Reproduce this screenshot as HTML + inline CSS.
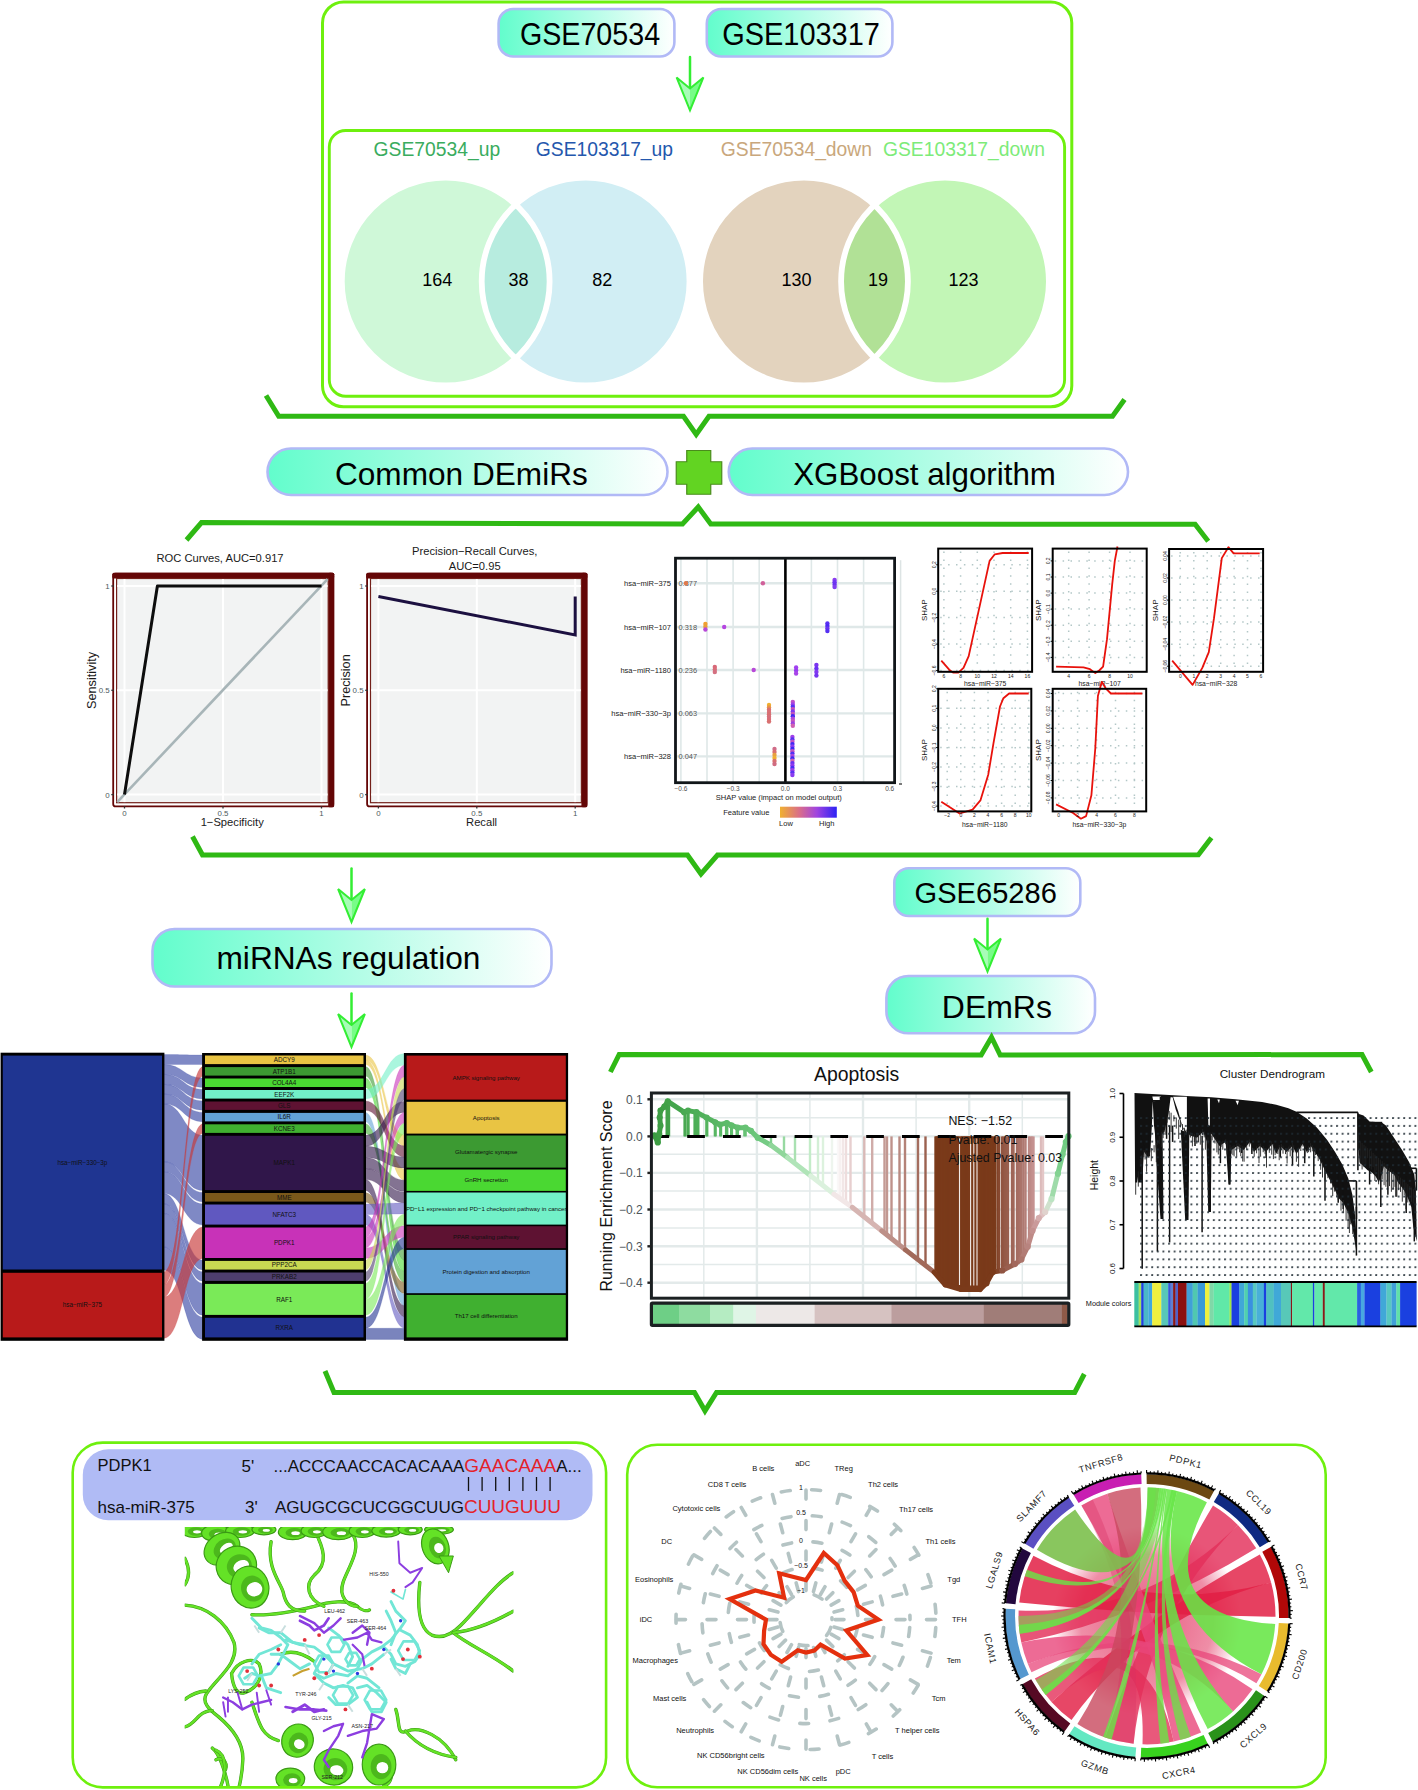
<!DOCTYPE html>
<html><head><meta charset="utf-8"><style>
html,body{margin:0;padding:0;background:#fff;overflow:hidden;}
svg{display:block;}
text{font-family:"Liberation Sans",sans-serif;}
</style></head><body>
<svg width="1418" height="1790" viewBox="0 0 1418 1790" font-family="Liberation Sans, sans-serif">
<rect width="1418" height="1790" fill="#fff"/>
<defs>
<linearGradient id="pg" x1="0" y1="0" x2="1" y2="0"><stop offset="0" stop-color="#62fdcc"/><stop offset="0.55" stop-color="#b8fde8"/><stop offset="1" stop-color="#ffffff"/></linearGradient>
<linearGradient id="shapg" x1="0" y1="0" x2="1" y2="0"><stop offset="0" stop-color="#f0b030"/><stop offset="0.35" stop-color="#d86c8c"/><stop offset="0.65" stop-color="#a044e0"/><stop offset="1" stop-color="#2c22f4"/></linearGradient>
</defs>
<rect x="322.5" y="2" width="749.3" height="404.8" rx="21" fill="none" stroke="#6ef00e" stroke-width="3"/>
<rect x="329.3" y="130.5" width="735.3" height="265.7" rx="16.5" fill="none" stroke="#6ef00e" stroke-width="2.9"/>
<rect x="498.6" y="9" width="175.79999999999995" height="47.5" rx="14.5" ry="14.5" fill="url(#pg)" stroke="#b1b9f6" stroke-width="2.6"/>
<text transform="translate(519.9,44.8) scale(1.013,1.093)" font-size="28.3" fill="#000">GSE70534</text>
<rect x="706.8" y="9" width="185.60000000000002" height="47.5" rx="14.5" ry="14.5" fill="url(#pg)" stroke="#b1b9f6" stroke-width="2.6"/>
<text transform="translate(722.2,44.8) scale(1.012,1.105)" font-size="28.6" fill="#000">GSE103317</text>
<line x1="690" y1="57.1" x2="690" y2="87.4" stroke="#33ee33" stroke-width="2.5" stroke-linecap="round"/>
<path d="M676.6,77.4 L690,88.4 L690,110.4 Z" fill="#a8fcb8"/>
<path d="M703.4,77.4 L690,88.4 L690,110.4 Z" fill="#78fc88"/>
<path d="M676.6,77.4 L690,88.4 L703.4,77.4 L690,110.4 Z" fill="none" stroke="#33ee33" stroke-width="2" stroke-linejoin="miter"/>
<text x="373.6" y="156" font-size="19.3" fill="#3aac5e">GSE70534_up</text>
<text x="535.8" y="156" font-size="19.3" fill="#2457ad">GSE103317_up</text>
<text x="720.8" y="156" font-size="19.3" fill="#c9a77c">GSE70534_down</text>
<text x="883" y="156" font-size="19.3" fill="#7deb79">GSE103317_down</text>
<circle cx="445.7" cy="281.5" r="103.9" fill="#cff8d8"/>
<circle cx="585.6" cy="281.5" r="103.9" fill="#d1eef4"/>
<path d="M515.65,204.67417426411873 A103.9,103.9 0 0 1 515.65,358.32582573588127 A103.9,103.9 0 0 1 515.65,204.67417426411873 Z" fill="#b7ecdf"/>
<circle cx="445.7" cy="281.5" r="103.9" fill="none" stroke="#fff" stroke-width="5.8"/>
<circle cx="585.6" cy="281.5" r="103.9" fill="none" stroke="#fff" stroke-width="5.8"/>
<text x="437.2" y="286.1" font-size="18" text-anchor="middle" fill="#000">164</text>
<text x="602.3" y="286.1" font-size="18" text-anchor="middle" fill="#000">82</text>
<text x="518.6" y="286.1" font-size="18" text-anchor="middle" fill="#000">38</text>
<circle cx="804" cy="281.5" r="103.9" fill="#e3d3be"/>
<circle cx="945" cy="281.5" r="103.9" fill="#c2f6b6"/>
<path d="M874.5,205.17857443679395 A103.9,103.9 0 0 1 874.5,357.82142556320605 A103.9,103.9 0 0 1 874.5,205.17857443679395 Z" fill="#b1e196"/>
<circle cx="804" cy="281.5" r="103.9" fill="none" stroke="#fff" stroke-width="5.8"/>
<circle cx="945" cy="281.5" r="103.9" fill="none" stroke="#fff" stroke-width="5.8"/>
<text x="796.4" y="286.1" font-size="18" text-anchor="middle" fill="#000">130</text>
<text x="963.4" y="286.1" font-size="18" text-anchor="middle" fill="#000">123</text>
<text x="878" y="286.1" font-size="18" text-anchor="middle" fill="#000">19</text>
<path d="M266,395.5 L278.75,416.3 L683.5,416.3 L696.2,434.5 L709,416.3 L1112.5,416.3 L1124.5,399.5" fill="none" stroke="#2fb914" stroke-width="5" stroke-linejoin="miter"/>
<rect x="267.5" y="448.5" width="400.0" height="46.5" rx="23.5" ry="23.5" fill="url(#pg)" stroke="#b1b9f6" stroke-width="2.6"/>
<text transform="translate(334.9,484.6) scale(1.01,1.017)" font-size="31.3" fill="#000">Common DEmiRs</text>
<rect x="728.75" y="448.5" width="399.25" height="46.5" rx="23.5" ry="23.5" fill="url(#pg)" stroke="#b1b9f6" stroke-width="2.6"/>
<text transform="translate(793.25,484.5) scale(1,1)" font-size="31.3" fill="#000">XGBoost algorithm</text>
<path d="M686.75,450.5 H710.75 V461.75 H721.75 V484.25 H710.75 V494.25 H686.75 V484.25 H676.25 V461.75 H686.75 Z" fill="#62d422" stroke="#4a8c1c" stroke-width="1.2"/>
<path d="M186.5,540 L201.5,522.5 L682.5,524 L698.25,507 L710.75,524 L1195.1,524.3 L1208.2,541.3" fill="none" stroke="#2fb914" stroke-width="5" stroke-linejoin="miter"/>
<rect x="116.6" y="578.5" width="211.89999999999998" height="224.5" fill="#f2f3f3"/>
<rect x="113.2" y="573.6999999999999" width="220.09999999999997" height="232.7" rx="2.5" fill="none" stroke="#640606" stroke-width="1.8"/>
<rect x="112.3" y="572.8" width="221.89999999999998" height="5.7" rx="1.5" fill="#640606"/>
<rect x="328.2" y="572.8" width="6" height="234.5" rx="1.5" fill="#640606"/>
<rect x="116.6" y="578.5" width="211.59999999999997" height="224.2" fill="none" stroke="#74201a" stroke-width="1.2"/>
<line x1="124.5" y1="579.0999999999999" x2="124.5" y2="802.0999999999999" stroke="#fff" stroke-width="2"/>
<line x1="223.0" y1="579.0999999999999" x2="223.0" y2="802.0999999999999" stroke="#fff" stroke-width="2"/>
<line x1="321.5" y1="579.0999999999999" x2="321.5" y2="802.0999999999999" stroke="#fff" stroke-width="2"/>
<line x1="117.2" y1="586" x2="327.59999999999997" y2="586" stroke="#fff" stroke-width="2"/>
<line x1="117.2" y1="690.3" x2="327.59999999999997" y2="690.3" stroke="#fff" stroke-width="2"/>
<line x1="117.2" y1="794.6" x2="327.59999999999997" y2="794.6" stroke="#fff" stroke-width="2"/>
<line x1="124.5" y1="806.3" x2="124.5" y2="808.5" stroke="#333" stroke-width="1.3"/>
<text x="124.5" y="815.6999999999999" font-size="7.9" fill="#4d5a5e" text-anchor="middle">0</text>
<line x1="223.0" y1="806.3" x2="223.0" y2="808.5" stroke="#333" stroke-width="1.3"/>
<text x="223.0" y="815.6999999999999" font-size="7.9" fill="#4d5a5e" text-anchor="middle">0.5</text>
<line x1="321.5" y1="806.3" x2="321.5" y2="808.5" stroke="#333" stroke-width="1.3"/>
<text x="321.5" y="815.6999999999999" font-size="7.9" fill="#4d5a5e" text-anchor="middle">1</text>
<line x1="111.3" y1="794.6" x2="113.8" y2="794.6" stroke="#333" stroke-width="1.3"/>
<text x="109.7" y="797.5" font-size="7.9" fill="#4d5a5e" text-anchor="end">0</text>
<line x1="111.3" y1="690.3" x2="113.8" y2="690.3" stroke="#333" stroke-width="1.3"/>
<text x="109.7" y="693.1999999999999" font-size="7.9" fill="#4d5a5e" text-anchor="end">0.5</text>
<line x1="111.3" y1="586" x2="113.8" y2="586" stroke="#333" stroke-width="1.3"/>
<text x="109.7" y="588.9" font-size="7.9" fill="#4d5a5e" text-anchor="end">1</text>
<text x="220" y="562.4" font-size="11.2" fill="#1a1a1a" text-anchor="middle">ROC Curves, AUC=0.917</text>
<text x="232.2" y="825.7" font-size="11.6" fill="#1a1a1a" text-anchor="middle" textLength="63.1" lengthAdjust="spacingAndGlyphs">1−Specificity</text>
<text transform="translate(96.1,680.4) rotate(-90)" x="0" y="0" font-size="12.7" fill="#1a1a1a" text-anchor="middle">Sensitivity</text>
<line x1="117.2" y1="802.0999999999999" x2="327.59999999999997" y2="579.0999999999999" stroke="#a8b5b8" stroke-width="2.6"/>
<polyline points="124.5,794.6 157.399,586.0 321.5,586.0" fill="none" stroke="#0d0d0d" stroke-width="3" stroke-linejoin="round"/>
<rect x="370.5" y="578.5" width="211.2" height="224.5" fill="#f2f3f3"/>
<rect x="367.09999999999997" y="573.6999999999999" width="219.39999999999998" height="232.7" rx="2.5" fill="none" stroke="#640606" stroke-width="1.8"/>
<rect x="366.2" y="572.8" width="221.2" height="5.7" rx="1.5" fill="#640606"/>
<rect x="581.4" y="572.8" width="6" height="234.5" rx="1.5" fill="#640606"/>
<rect x="370.5" y="578.5" width="210.89999999999998" height="224.2" fill="none" stroke="#74201a" stroke-width="1.2"/>
<line x1="378.4" y1="579.0999999999999" x2="378.4" y2="802.0999999999999" stroke="#fff" stroke-width="2"/>
<line x1="476.8" y1="579.0999999999999" x2="476.8" y2="802.0999999999999" stroke="#fff" stroke-width="2"/>
<line x1="575.2" y1="579.0999999999999" x2="575.2" y2="802.0999999999999" stroke="#fff" stroke-width="2"/>
<line x1="371.09999999999997" y1="586" x2="580.8" y2="586" stroke="#fff" stroke-width="2"/>
<line x1="371.09999999999997" y1="690.3" x2="580.8" y2="690.3" stroke="#fff" stroke-width="2"/>
<line x1="371.09999999999997" y1="794.6" x2="580.8" y2="794.6" stroke="#fff" stroke-width="2"/>
<line x1="378.4" y1="806.3" x2="378.4" y2="808.5" stroke="#333" stroke-width="1.3"/>
<text x="378.4" y="815.6999999999999" font-size="7.9" fill="#4d5a5e" text-anchor="middle">0</text>
<line x1="476.8" y1="806.3" x2="476.8" y2="808.5" stroke="#333" stroke-width="1.3"/>
<text x="476.8" y="815.6999999999999" font-size="7.9" fill="#4d5a5e" text-anchor="middle">0.5</text>
<line x1="575.2" y1="806.3" x2="575.2" y2="808.5" stroke="#333" stroke-width="1.3"/>
<text x="575.2" y="815.6999999999999" font-size="7.9" fill="#4d5a5e" text-anchor="middle">1</text>
<line x1="365.2" y1="794.6" x2="367.7" y2="794.6" stroke="#333" stroke-width="1.3"/>
<text x="363.59999999999997" y="797.5" font-size="7.9" fill="#4d5a5e" text-anchor="end">0</text>
<line x1="365.2" y1="690.3" x2="367.7" y2="690.3" stroke="#333" stroke-width="1.3"/>
<text x="363.59999999999997" y="693.1999999999999" font-size="7.9" fill="#4d5a5e" text-anchor="end">0.5</text>
<line x1="365.2" y1="586" x2="367.7" y2="586" stroke="#333" stroke-width="1.3"/>
<text x="363.59999999999997" y="588.9" font-size="7.9" fill="#4d5a5e" text-anchor="end">1</text>
<text x="474.7" y="555.2" font-size="11.2" fill="#1a1a1a" text-anchor="middle">Precision−Recall Curves,</text>
<text x="474.7" y="569.6" font-size="11.2" fill="#1a1a1a" text-anchor="middle">AUC=0.95</text>
<text x="481.6" y="825.7" font-size="11.6" fill="#1a1a1a" text-anchor="middle" textLength="31" lengthAdjust="spacingAndGlyphs">Recall</text>
<text transform="translate(349.8,680.4) rotate(-90)" x="0" y="0" font-size="12.7" fill="#1a1a1a" text-anchor="middle">Precision</text>
<polyline points="378.4,596.4300000000001 575.2,635.021 575.2,596.4300000000001" fill="none" stroke="#1c1040" stroke-width="3" stroke-linejoin="miter"/>
<rect x="675.5" y="558.2" width="219.10000000000002" height="224.5" fill="#fff"/>
<line x1="680.9" y1="558.2" x2="680.9" y2="782.7" stroke="#dfe8e8" stroke-width="1.6"/>
<line x1="707.0" y1="558.2" x2="707.0" y2="782.7" stroke="#dfe8e8" stroke-width="1.6"/>
<line x1="733.1" y1="558.2" x2="733.1" y2="782.7" stroke="#dfe8e8" stroke-width="1.6"/>
<line x1="759.2" y1="558.2" x2="759.2" y2="782.7" stroke="#dfe8e8" stroke-width="1.6"/>
<line x1="785.3" y1="558.2" x2="785.3" y2="782.7" stroke="#dfe8e8" stroke-width="1.6"/>
<line x1="811.4" y1="558.2" x2="811.4" y2="782.7" stroke="#dfe8e8" stroke-width="1.6"/>
<line x1="837.5" y1="558.2" x2="837.5" y2="782.7" stroke="#dfe8e8" stroke-width="1.6"/>
<line x1="863.6" y1="558.2" x2="863.6" y2="782.7" stroke="#dfe8e8" stroke-width="1.6"/>
<line x1="675.5" y1="583.3" x2="894.6" y2="583.3" stroke="#dfe8e8" stroke-width="2.4"/>
<text x="671" y="585.9" font-size="7.55" fill="#1a1a1a" text-anchor="end">hsa−miR−375</text>
<text x="678.5" y="585.9" font-size="7.4" fill="#555">0.377</text>
<line x1="675.5" y1="627" x2="894.6" y2="627" stroke="#dfe8e8" stroke-width="2.4"/>
<text x="671" y="629.6" font-size="7.55" fill="#1a1a1a" text-anchor="end">hsa−miR−107</text>
<text x="678.5" y="629.6" font-size="7.4" fill="#555">0.318</text>
<line x1="675.5" y1="670" x2="894.6" y2="670" stroke="#dfe8e8" stroke-width="2.4"/>
<text x="671" y="672.6" font-size="7.55" fill="#1a1a1a" text-anchor="end">hsa−miR−1180</text>
<text x="678.5" y="672.6" font-size="7.4" fill="#555">0.236</text>
<line x1="675.5" y1="713.4" x2="894.6" y2="713.4" stroke="#dfe8e8" stroke-width="2.4"/>
<text x="671" y="716.0" font-size="7.55" fill="#1a1a1a" text-anchor="end">hsa−miR−330−3p</text>
<text x="678.5" y="716.0" font-size="7.4" fill="#555">0.063</text>
<line x1="675.5" y1="756.4" x2="894.6" y2="756.4" stroke="#dfe8e8" stroke-width="2.4"/>
<text x="671" y="759.0" font-size="7.55" fill="#1a1a1a" text-anchor="end">hsa−miR−328</text>
<text x="678.5" y="759.0" font-size="7.4" fill="#555">0.047</text>
<line x1="785.4" y1="558.2" x2="785.4" y2="782.7" stroke="#000" stroke-width="2.6"/>
<rect x="675.5" y="558.2" width="219.10000000000002" height="224.5" fill="none" stroke="#111619" stroke-width="2.8"/>
<line x1="900.6" y1="560.2" x2="900.6" y2="782.7" stroke="#dde4e4" stroke-width="1.5"/>
<line x1="899" y1="784" x2="902" y2="784" stroke="#222" stroke-width="1.2"/>
<text x="680.9" y="790.5" font-size="6.5" fill="#4d4d4d" text-anchor="middle">−0.6</text>
<text x="733.1" y="790.5" font-size="6.5" fill="#4d4d4d" text-anchor="middle">−0.3</text>
<text x="785.3" y="790.5" font-size="6.5" fill="#4d4d4d" text-anchor="middle">0.0</text>
<text x="837.5" y="790.5" font-size="6.5" fill="#4d4d4d" text-anchor="middle">0.3</text>
<text x="889.7" y="790.5" font-size="6.5" fill="#4d4d4d" text-anchor="middle">0.6</text>
<text x="778.8" y="799.6" font-size="7.55" fill="#1a1a1a" text-anchor="middle">SHAP value (impact on model output)</text>
<text x="746.3" y="815.2" font-size="7.55" fill="#1a1a1a" text-anchor="middle">Feature value</text>
<rect x="780" y="806.7" width="56.8" height="11" fill="url(#shapg)"/>
<text x="786" y="826" font-size="7.5" fill="#1a1a1a" text-anchor="middle">Low</text>
<text x="826.7" y="826" font-size="7.5" fill="#1a1a1a" text-anchor="middle">High</text>
<circle cx="685.9" cy="583.3" r="2.2" fill="#e07a4c"/>
<circle cx="762.9" cy="583.3" r="2.2" fill="#d0609a"/>
<circle cx="834.6" cy="580.0" r="2.2" fill="#8a3cf0"/>
<circle cx="834.6" cy="582.3" r="2.2" fill="#7035f2"/>
<circle cx="834.6" cy="584.7" r="2.2" fill="#6a32f0"/>
<circle cx="834.6" cy="587.0" r="2.2" fill="#8040ee"/>
<circle cx="705.4" cy="624.0" r="2.2" fill="#f0a030"/>
<circle cx="705.4" cy="626.8" r="2.2" fill="#e8a038"/>
<circle cx="705.4" cy="629.5" r="2.2" fill="#b848d8"/>
<circle cx="724.2" cy="627.0" r="2.2" fill="#b545e0"/>
<circle cx="827.4" cy="623.5" r="2.2" fill="#5a30f2"/>
<circle cx="827.4" cy="626.0" r="2.2" fill="#4a2af4"/>
<circle cx="827.4" cy="628.5" r="2.2" fill="#6a34f0"/>
<circle cx="827.4" cy="631.0" r="2.2" fill="#5530f2"/>
<circle cx="714.8" cy="667.0" r="2.2" fill="#d86878"/>
<circle cx="714.8" cy="669.5" r="2.2" fill="#d86c78"/>
<circle cx="714.8" cy="672.0" r="2.2" fill="#d47080"/>
<circle cx="753.7" cy="670.0" r="2.2" fill="#b848d8"/>
<circle cx="796.1" cy="667.5" r="2.2" fill="#a040f0"/>
<circle cx="796.1" cy="670.5" r="2.2" fill="#9a3cf0"/>
<circle cx="796.1" cy="673.5" r="2.2" fill="#a844e8"/>
<circle cx="816.4" cy="665.0" r="2.2" fill="#7a34f0"/>
<circle cx="816.4" cy="668.5" r="2.2" fill="#6a30f2"/>
<circle cx="816.4" cy="672.0" r="2.2" fill="#8038f0"/>
<circle cx="816.4" cy="675.5" r="2.2" fill="#7434f0"/>
<circle cx="769.0" cy="705.0" r="2.2" fill="#f0b030"/>
<circle cx="769.0" cy="707.4" r="2.2" fill="#e89048"/>
<circle cx="769.0" cy="709.7" r="2.2" fill="#d87070"/>
<circle cx="769.0" cy="712.1" r="2.2" fill="#d87078"/>
<circle cx="769.0" cy="714.4" r="2.2" fill="#d87070"/>
<circle cx="769.0" cy="716.8" r="2.2" fill="#d4707a"/>
<circle cx="769.0" cy="719.1" r="2.2" fill="#d86c78"/>
<circle cx="769.0" cy="721.5" r="2.2" fill="#d87070"/>
<circle cx="792.8" cy="702.0" r="2.2" fill="#c050c8"/>
<circle cx="792.8" cy="704.4" r="2.2" fill="#a040e8"/>
<circle cx="792.8" cy="706.8" r="2.2" fill="#5530f4"/>
<circle cx="792.8" cy="709.1" r="2.2" fill="#c850b8"/>
<circle cx="792.8" cy="711.5" r="2.2" fill="#8038ee"/>
<circle cx="792.8" cy="713.9" r="2.2" fill="#c050c0"/>
<circle cx="792.8" cy="716.3" r="2.2" fill="#4028f4"/>
<circle cx="792.8" cy="718.7" r="2.2" fill="#b048d8"/>
<circle cx="792.8" cy="721.0" r="2.2" fill="#c454c0"/>
<circle cx="792.8" cy="723.4" r="2.2" fill="#9a40e0"/>
<circle cx="792.8" cy="725.8" r="2.2" fill="#d060b0"/>
<circle cx="774.5" cy="749.0" r="2.2" fill="#d06c88"/>
<circle cx="774.5" cy="752.0" r="2.2" fill="#d87070"/>
<circle cx="774.5" cy="755.0" r="2.2" fill="#e8a040"/>
<circle cx="774.5" cy="758.0" r="2.2" fill="#f0b030"/>
<circle cx="774.5" cy="761.0" r="2.2" fill="#d87070"/>
<circle cx="774.5" cy="764.0" r="2.2" fill="#d06c80"/>
<circle cx="792.4" cy="737.0" r="2.2" fill="#a040e8"/>
<circle cx="792.4" cy="739.4" r="2.2" fill="#5530f2"/>
<circle cx="792.4" cy="741.8" r="2.2" fill="#c050c8"/>
<circle cx="792.4" cy="744.1" r="2.2" fill="#4028f4"/>
<circle cx="792.4" cy="746.5" r="2.2" fill="#8a3cf0"/>
<circle cx="792.4" cy="748.9" r="2.2" fill="#3c26f4"/>
<circle cx="792.4" cy="751.2" r="2.2" fill="#c454c0"/>
<circle cx="792.4" cy="753.6" r="2.2" fill="#5030f2"/>
<circle cx="792.4" cy="756.0" r="2.2" fill="#a844e0"/>
<circle cx="792.4" cy="758.4" r="2.2" fill="#3c26f4"/>
<circle cx="792.4" cy="760.8" r="2.2" fill="#d060b0"/>
<circle cx="792.4" cy="763.1" r="2.2" fill="#6a32f0"/>
<circle cx="792.4" cy="765.5" r="2.2" fill="#9038ee"/>
<circle cx="792.4" cy="767.9" r="2.2" fill="#4a2af4"/>
<circle cx="792.4" cy="770.2" r="2.2" fill="#a040e8"/>
<circle cx="792.4" cy="772.6" r="2.2" fill="#5a30f2"/>
<circle cx="792.4" cy="775.0" r="2.2" fill="#8a3cf0"/>
<defs><pattern id="dotgrid" x="0" y="0" width="8" height="13" patternUnits="userSpaceOnUse"><rect x="3" y="5" width="1.3" height="1.3" fill="#b9cccc"/></pattern></defs>
<line x1="940.2" y1="670.5" x2="1030.1" y2="670.5" stroke="#b3c7c7" stroke-width="1.5" stroke-dasharray="1.5 6.4"/>
<line x1="940.2" y1="644.1" x2="1030.1" y2="644.1" stroke="#b3c7c7" stroke-width="1.5" stroke-dasharray="1.5 6.4"/>
<line x1="940.2" y1="617.6" x2="1030.1" y2="617.6" stroke="#b3c7c7" stroke-width="1.5" stroke-dasharray="1.5 6.4"/>
<line x1="940.2" y1="591.2" x2="1030.1" y2="591.2" stroke="#b3c7c7" stroke-width="1.5" stroke-dasharray="1.5 6.4"/>
<line x1="940.2" y1="564.8" x2="1030.1" y2="564.8" stroke="#b3c7c7" stroke-width="1.5" stroke-dasharray="1.5 6.4"/>
<line x1="943.9" y1="551.6" x2="943.9" y2="669.8" stroke="#b3c7c7" stroke-width="1.5" stroke-dasharray="1.5 6.4"/>
<line x1="960.6" y1="551.6" x2="960.6" y2="669.8" stroke="#b3c7c7" stroke-width="1.5" stroke-dasharray="1.5 6.4"/>
<line x1="977.3" y1="551.6" x2="977.3" y2="669.8" stroke="#b3c7c7" stroke-width="1.5" stroke-dasharray="1.5 6.4"/>
<line x1="994.0" y1="551.6" x2="994.0" y2="669.8" stroke="#b3c7c7" stroke-width="1.5" stroke-dasharray="1.5 6.4"/>
<line x1="1010.7" y1="551.6" x2="1010.7" y2="669.8" stroke="#b3c7c7" stroke-width="1.5" stroke-dasharray="1.5 6.4"/>
<line x1="1027.4" y1="551.6" x2="1027.4" y2="669.8" stroke="#b3c7c7" stroke-width="1.5" stroke-dasharray="1.5 6.4"/>
<polyline points="941.3,660.6 949.2,669.7 953.1,672.6 958.3,672.6 963.5,667.9 968.7,656.1 989.6,560.9 994.8,554.3 1002.6,553.0 1028.7,553.0" fill="none" stroke="#e8120c" stroke-width="1.8" stroke-linejoin="round"/>
<rect x="938.2" y="548.6" width="93.89999999999986" height="123.19999999999993" fill="none" stroke="#000" stroke-width="2"/>
<text transform="translate(935.7,670.5) rotate(-90)" font-size="5" fill="#222" text-anchor="middle">−0.6</text>
<line x1="936.2" y1="670.5" x2="938.2" y2="670.5" stroke="#000" stroke-width="1"/>
<text transform="translate(935.7,644.1) rotate(-90)" font-size="5" fill="#222" text-anchor="middle">−0.4</text>
<line x1="936.2" y1="644.1" x2="938.2" y2="644.1" stroke="#000" stroke-width="1"/>
<text transform="translate(935.7,617.6) rotate(-90)" font-size="5" fill="#222" text-anchor="middle">−0.2</text>
<line x1="936.2" y1="617.6" x2="938.2" y2="617.6" stroke="#000" stroke-width="1"/>
<text transform="translate(935.7,591.2) rotate(-90)" font-size="5" fill="#222" text-anchor="middle">0.0</text>
<line x1="936.2" y1="591.2" x2="938.2" y2="591.2" stroke="#000" stroke-width="1"/>
<text transform="translate(935.7,564.8) rotate(-90)" font-size="5" fill="#222" text-anchor="middle">0.2</text>
<line x1="936.2" y1="564.8" x2="938.2" y2="564.8" stroke="#000" stroke-width="1"/>
<text x="943.9" y="677.8" font-size="5" fill="#222" text-anchor="middle">6</text>
<text x="960.6" y="677.8" font-size="5" fill="#222" text-anchor="middle">8</text>
<text x="977.3" y="677.8" font-size="5" fill="#222" text-anchor="middle">10</text>
<text x="994.0" y="677.8" font-size="5" fill="#222" text-anchor="middle">12</text>
<text x="1010.7" y="677.8" font-size="5" fill="#222" text-anchor="middle">14</text>
<text x="1027.4" y="677.8" font-size="5" fill="#222" text-anchor="middle">16</text>
<text x="985.15" y="685.5" font-size="6.8" fill="#1a1a1a" text-anchor="middle">hsa−miR−375</text>
<text transform="translate(926.7,610.2) rotate(-90)" font-size="8" fill="#1a1a1a" text-anchor="middle">SHAP</text>
<line x1="1054.7" y1="657.4" x2="1144.7" y2="657.4" stroke="#b3c7c7" stroke-width="1.5" stroke-dasharray="1.5 6.4"/>
<line x1="1054.7" y1="641.3" x2="1144.7" y2="641.3" stroke="#b3c7c7" stroke-width="1.5" stroke-dasharray="1.5 6.4"/>
<line x1="1054.7" y1="625.2" x2="1144.7" y2="625.2" stroke="#b3c7c7" stroke-width="1.5" stroke-dasharray="1.5 6.4"/>
<line x1="1054.7" y1="609.1" x2="1144.7" y2="609.1" stroke="#b3c7c7" stroke-width="1.5" stroke-dasharray="1.5 6.4"/>
<line x1="1054.7" y1="593.1" x2="1144.7" y2="593.1" stroke="#b3c7c7" stroke-width="1.5" stroke-dasharray="1.5 6.4"/>
<line x1="1054.7" y1="577.0" x2="1144.7" y2="577.0" stroke="#b3c7c7" stroke-width="1.5" stroke-dasharray="1.5 6.4"/>
<line x1="1054.7" y1="560.9" x2="1144.7" y2="560.9" stroke="#b3c7c7" stroke-width="1.5" stroke-dasharray="1.5 6.4"/>
<line x1="1068.7" y1="551.6" x2="1068.7" y2="669.8" stroke="#b3c7c7" stroke-width="1.5" stroke-dasharray="1.5 6.4"/>
<line x1="1089.1" y1="551.6" x2="1089.1" y2="669.8" stroke="#b3c7c7" stroke-width="1.5" stroke-dasharray="1.5 6.4"/>
<line x1="1109.6" y1="551.6" x2="1109.6" y2="669.8" stroke="#b3c7c7" stroke-width="1.5" stroke-dasharray="1.5 6.4"/>
<line x1="1130.0" y1="551.6" x2="1130.0" y2="669.8" stroke="#b3c7c7" stroke-width="1.5" stroke-dasharray="1.5 6.4"/>
<polyline points="1056.1,666.6 1083.5,667.4 1090.0,669.2 1095.3,673.1 1099.2,670.5 1103.1,666.6 1107.0,639.2 1112.2,584.4 1114.8,560.9 1117.5,546.5" fill="none" stroke="#e8120c" stroke-width="1.8" stroke-linejoin="round"/>
<rect x="1052.7" y="548.6" width="94.0" height="123.19999999999993" fill="none" stroke="#000" stroke-width="2"/>
<text transform="translate(1050.2,657.4) rotate(-90)" font-size="5" fill="#222" text-anchor="middle">−0.4</text>
<line x1="1050.7" y1="657.4" x2="1052.7" y2="657.4" stroke="#000" stroke-width="1"/>
<text transform="translate(1050.2,641.3) rotate(-90)" font-size="5" fill="#222" text-anchor="middle">−0.3</text>
<line x1="1050.7" y1="641.3" x2="1052.7" y2="641.3" stroke="#000" stroke-width="1"/>
<text transform="translate(1050.2,625.2) rotate(-90)" font-size="5" fill="#222" text-anchor="middle">−0.2</text>
<line x1="1050.7" y1="625.2" x2="1052.7" y2="625.2" stroke="#000" stroke-width="1"/>
<text transform="translate(1050.2,609.1) rotate(-90)" font-size="5" fill="#222" text-anchor="middle">−0.1</text>
<line x1="1050.7" y1="609.1" x2="1052.7" y2="609.1" stroke="#000" stroke-width="1"/>
<text transform="translate(1050.2,593.1) rotate(-90)" font-size="5" fill="#222" text-anchor="middle">0.0</text>
<line x1="1050.7" y1="593.1" x2="1052.7" y2="593.1" stroke="#000" stroke-width="1"/>
<text transform="translate(1050.2,577.0) rotate(-90)" font-size="5" fill="#222" text-anchor="middle">0.1</text>
<line x1="1050.7" y1="577.0" x2="1052.7" y2="577.0" stroke="#000" stroke-width="1"/>
<text transform="translate(1050.2,560.9) rotate(-90)" font-size="5" fill="#222" text-anchor="middle">0.2</text>
<line x1="1050.7" y1="560.9" x2="1052.7" y2="560.9" stroke="#000" stroke-width="1"/>
<text x="1068.7" y="677.8" font-size="5" fill="#222" text-anchor="middle">4</text>
<text x="1089.1" y="677.8" font-size="5" fill="#222" text-anchor="middle">6</text>
<text x="1109.6" y="677.8" font-size="5" fill="#222" text-anchor="middle">8</text>
<text x="1130.0" y="677.8" font-size="5" fill="#222" text-anchor="middle">10</text>
<text x="1099.7" y="685.5" font-size="6.8" fill="#1a1a1a" text-anchor="middle">hsa−miR−107</text>
<text transform="translate(1041.2,610.2) rotate(-90)" font-size="8" fill="#1a1a1a" text-anchor="middle">SHAP</text>
<line x1="1171.1" y1="666.2" x2="1261.1" y2="666.2" stroke="#b3c7c7" stroke-width="1.5" stroke-dasharray="1.5 6.4"/>
<line x1="1171.1" y1="644.2" x2="1261.1" y2="644.2" stroke="#b3c7c7" stroke-width="1.5" stroke-dasharray="1.5 6.4"/>
<line x1="1171.1" y1="622.1" x2="1261.1" y2="622.1" stroke="#b3c7c7" stroke-width="1.5" stroke-dasharray="1.5 6.4"/>
<line x1="1171.1" y1="600.1" x2="1261.1" y2="600.1" stroke="#b3c7c7" stroke-width="1.5" stroke-dasharray="1.5 6.4"/>
<line x1="1171.1" y1="578.0" x2="1261.1" y2="578.0" stroke="#b3c7c7" stroke-width="1.5" stroke-dasharray="1.5 6.4"/>
<line x1="1171.1" y1="556.0" x2="1261.1" y2="556.0" stroke="#b3c7c7" stroke-width="1.5" stroke-dasharray="1.5 6.4"/>
<line x1="1180.3" y1="552" x2="1180.3" y2="669.8" stroke="#b3c7c7" stroke-width="1.5" stroke-dasharray="1.5 6.4"/>
<line x1="1193.8" y1="552" x2="1193.8" y2="669.8" stroke="#b3c7c7" stroke-width="1.5" stroke-dasharray="1.5 6.4"/>
<line x1="1207.2" y1="552" x2="1207.2" y2="669.8" stroke="#b3c7c7" stroke-width="1.5" stroke-dasharray="1.5 6.4"/>
<line x1="1220.7" y1="552" x2="1220.7" y2="669.8" stroke="#b3c7c7" stroke-width="1.5" stroke-dasharray="1.5 6.4"/>
<line x1="1234.1" y1="552" x2="1234.1" y2="669.8" stroke="#b3c7c7" stroke-width="1.5" stroke-dasharray="1.5 6.4"/>
<line x1="1247.5" y1="552" x2="1247.5" y2="669.8" stroke="#b3c7c7" stroke-width="1.5" stroke-dasharray="1.5 6.4"/>
<line x1="1261.0" y1="552" x2="1261.0" y2="669.8" stroke="#b3c7c7" stroke-width="1.5" stroke-dasharray="1.5 6.4"/>
<polyline points="1172.2,660.6 1192.6,684.9 1202.3,667.9 1208.8,652.2 1214.0,618.2 1221.8,558.1 1228.4,547.2 1233.6,553.4 1259.7,553.4" fill="none" stroke="#e8120c" stroke-width="1.8" stroke-linejoin="round"/>
<rect x="1169.1" y="549" width="94.0" height="122.79999999999995" fill="none" stroke="#000" stroke-width="2"/>
<text transform="translate(1166.6,666.2) rotate(-90)" font-size="5" fill="#222" text-anchor="middle">−0.06</text>
<line x1="1167.1" y1="666.2" x2="1169.1" y2="666.2" stroke="#000" stroke-width="1"/>
<text transform="translate(1166.6,644.2) rotate(-90)" font-size="5" fill="#222" text-anchor="middle">−0.04</text>
<line x1="1167.1" y1="644.2" x2="1169.1" y2="644.2" stroke="#000" stroke-width="1"/>
<text transform="translate(1166.6,622.1) rotate(-90)" font-size="5" fill="#222" text-anchor="middle">−0.02</text>
<line x1="1167.1" y1="622.1" x2="1169.1" y2="622.1" stroke="#000" stroke-width="1"/>
<text transform="translate(1166.6,600.1) rotate(-90)" font-size="5" fill="#222" text-anchor="middle">0.00</text>
<line x1="1167.1" y1="600.1" x2="1169.1" y2="600.1" stroke="#000" stroke-width="1"/>
<text transform="translate(1166.6,578.0) rotate(-90)" font-size="5" fill="#222" text-anchor="middle">0.02</text>
<line x1="1167.1" y1="578.0" x2="1169.1" y2="578.0" stroke="#000" stroke-width="1"/>
<text transform="translate(1166.6,556.0) rotate(-90)" font-size="5" fill="#222" text-anchor="middle">0.04</text>
<line x1="1167.1" y1="556.0" x2="1169.1" y2="556.0" stroke="#000" stroke-width="1"/>
<text x="1180.3" y="677.8" font-size="5" fill="#222" text-anchor="middle">0</text>
<text x="1193.8" y="677.8" font-size="5" fill="#222" text-anchor="middle">1</text>
<text x="1207.2" y="677.8" font-size="5" fill="#222" text-anchor="middle">2</text>
<text x="1220.7" y="677.8" font-size="5" fill="#222" text-anchor="middle">3</text>
<text x="1234.1" y="677.8" font-size="5" fill="#222" text-anchor="middle">4</text>
<text x="1247.5" y="677.8" font-size="5" fill="#222" text-anchor="middle">5</text>
<text x="1261.0" y="677.8" font-size="5" fill="#222" text-anchor="middle">6</text>
<text x="1216.1" y="685.5" font-size="6.8" fill="#1a1a1a" text-anchor="middle">hsa−miR−328</text>
<text transform="translate(1157.6,610.4) rotate(-90)" font-size="8" fill="#1a1a1a" text-anchor="middle">SHAP</text>
<line x1="940.2" y1="806.1" x2="1029.3" y2="806.1" stroke="#b3c7c7" stroke-width="1.5" stroke-dasharray="1.5 6.4"/>
<line x1="940.2" y1="786.5" x2="1029.3" y2="786.5" stroke="#b3c7c7" stroke-width="1.5" stroke-dasharray="1.5 6.4"/>
<line x1="940.2" y1="767.0" x2="1029.3" y2="767.0" stroke="#b3c7c7" stroke-width="1.5" stroke-dasharray="1.5 6.4"/>
<line x1="940.2" y1="747.5" x2="1029.3" y2="747.5" stroke="#b3c7c7" stroke-width="1.5" stroke-dasharray="1.5 6.4"/>
<line x1="940.2" y1="727.9" x2="1029.3" y2="727.9" stroke="#b3c7c7" stroke-width="1.5" stroke-dasharray="1.5 6.4"/>
<line x1="940.2" y1="708.3" x2="1029.3" y2="708.3" stroke="#b3c7c7" stroke-width="1.5" stroke-dasharray="1.5 6.4"/>
<line x1="940.2" y1="688.8" x2="1029.3" y2="688.8" stroke="#b3c7c7" stroke-width="1.5" stroke-dasharray="1.5 6.4"/>
<line x1="947.2" y1="691.8" x2="947.2" y2="809.4" stroke="#b3c7c7" stroke-width="1.5" stroke-dasharray="1.5 6.4"/>
<line x1="960.8" y1="691.8" x2="960.8" y2="809.4" stroke="#b3c7c7" stroke-width="1.5" stroke-dasharray="1.5 6.4"/>
<line x1="974.4" y1="691.8" x2="974.4" y2="809.4" stroke="#b3c7c7" stroke-width="1.5" stroke-dasharray="1.5 6.4"/>
<line x1="988.0" y1="691.8" x2="988.0" y2="809.4" stroke="#b3c7c7" stroke-width="1.5" stroke-dasharray="1.5 6.4"/>
<line x1="1001.6" y1="691.8" x2="1001.6" y2="809.4" stroke="#b3c7c7" stroke-width="1.5" stroke-dasharray="1.5 6.4"/>
<line x1="1015.2" y1="691.8" x2="1015.2" y2="809.4" stroke="#b3c7c7" stroke-width="1.5" stroke-dasharray="1.5 6.4"/>
<line x1="1028.8" y1="691.8" x2="1028.8" y2="809.4" stroke="#b3c7c7" stroke-width="1.5" stroke-dasharray="1.5 6.4"/>
<polyline points="941.3,801.7 959.6,813.5 972.6,809.6 980.4,800.4 988.3,774.4 993.5,743.1 1000.0,706.5 1003.4,698.2 1009.1,693.5 1028.7,693.5" fill="none" stroke="#e8120c" stroke-width="1.8" stroke-linejoin="round"/>
<rect x="938.2" y="688.8" width="93.09999999999991" height="122.60000000000002" fill="none" stroke="#000" stroke-width="2"/>
<text transform="translate(935.7,806.1) rotate(-90)" font-size="5" fill="#222" text-anchor="middle">−0.4</text>
<line x1="936.2" y1="806.1" x2="938.2" y2="806.1" stroke="#000" stroke-width="1"/>
<text transform="translate(935.7,786.5) rotate(-90)" font-size="5" fill="#222" text-anchor="middle">−0.3</text>
<line x1="936.2" y1="786.5" x2="938.2" y2="786.5" stroke="#000" stroke-width="1"/>
<text transform="translate(935.7,767.0) rotate(-90)" font-size="5" fill="#222" text-anchor="middle">−0.2</text>
<line x1="936.2" y1="767.0" x2="938.2" y2="767.0" stroke="#000" stroke-width="1"/>
<text transform="translate(935.7,747.5) rotate(-90)" font-size="5" fill="#222" text-anchor="middle">−0.1</text>
<line x1="936.2" y1="747.5" x2="938.2" y2="747.5" stroke="#000" stroke-width="1"/>
<text transform="translate(935.7,727.9) rotate(-90)" font-size="5" fill="#222" text-anchor="middle">0.0</text>
<line x1="936.2" y1="727.9" x2="938.2" y2="727.9" stroke="#000" stroke-width="1"/>
<text transform="translate(935.7,708.3) rotate(-90)" font-size="5" fill="#222" text-anchor="middle">0.1</text>
<line x1="936.2" y1="708.3" x2="938.2" y2="708.3" stroke="#000" stroke-width="1"/>
<text transform="translate(935.7,688.8) rotate(-90)" font-size="5" fill="#222" text-anchor="middle">0.2</text>
<line x1="936.2" y1="688.8" x2="938.2" y2="688.8" stroke="#000" stroke-width="1"/>
<text x="947.2" y="817.4" font-size="5" fill="#222" text-anchor="middle">−2</text>
<text x="960.8" y="817.4" font-size="5" fill="#222" text-anchor="middle">0</text>
<text x="974.4" y="817.4" font-size="5" fill="#222" text-anchor="middle">2</text>
<text x="988.0" y="817.4" font-size="5" fill="#222" text-anchor="middle">4</text>
<text x="1001.6" y="817.4" font-size="5" fill="#222" text-anchor="middle">6</text>
<text x="1015.2" y="817.4" font-size="5" fill="#222" text-anchor="middle">8</text>
<text x="1028.8" y="817.4" font-size="5" fill="#222" text-anchor="middle">10</text>
<text x="984.75" y="826.8" font-size="6.8" fill="#1a1a1a" text-anchor="middle">hsa−miR−1180</text>
<text transform="translate(926.7,750.0999999999999) rotate(-90)" font-size="8" fill="#1a1a1a" text-anchor="middle">SHAP</text>
<line x1="1054.7" y1="797.9" x2="1144.2" y2="797.9" stroke="#b3c7c7" stroke-width="1.5" stroke-dasharray="1.5 6.4"/>
<line x1="1054.7" y1="780.5" x2="1144.2" y2="780.5" stroke="#b3c7c7" stroke-width="1.5" stroke-dasharray="1.5 6.4"/>
<line x1="1054.7" y1="763.1" x2="1144.2" y2="763.1" stroke="#b3c7c7" stroke-width="1.5" stroke-dasharray="1.5 6.4"/>
<line x1="1054.7" y1="745.7" x2="1144.2" y2="745.7" stroke="#b3c7c7" stroke-width="1.5" stroke-dasharray="1.5 6.4"/>
<line x1="1054.7" y1="728.3" x2="1144.2" y2="728.3" stroke="#b3c7c7" stroke-width="1.5" stroke-dasharray="1.5 6.4"/>
<line x1="1054.7" y1="710.9" x2="1144.2" y2="710.9" stroke="#b3c7c7" stroke-width="1.5" stroke-dasharray="1.5 6.4"/>
<line x1="1054.7" y1="693.5" x2="1144.2" y2="693.5" stroke="#b3c7c7" stroke-width="1.5" stroke-dasharray="1.5 6.4"/>
<line x1="1058.7" y1="691.8" x2="1058.7" y2="809.4" stroke="#b3c7c7" stroke-width="1.5" stroke-dasharray="1.5 6.4"/>
<line x1="1077.6" y1="691.8" x2="1077.6" y2="809.4" stroke="#b3c7c7" stroke-width="1.5" stroke-dasharray="1.5 6.4"/>
<line x1="1096.6" y1="691.8" x2="1096.6" y2="809.4" stroke="#b3c7c7" stroke-width="1.5" stroke-dasharray="1.5 6.4"/>
<line x1="1115.5" y1="691.8" x2="1115.5" y2="809.4" stroke="#b3c7c7" stroke-width="1.5" stroke-dasharray="1.5 6.4"/>
<line x1="1134.4" y1="691.8" x2="1134.4" y2="809.4" stroke="#b3c7c7" stroke-width="1.5" stroke-dasharray="1.5 6.4"/>
<polyline points="1056.1,804.4 1073.1,813.0 1080.9,818.7 1086.1,816.1 1091.4,795.2 1095.3,748.3 1097.9,696.1 1101.8,681.8 1105.7,688.3 1110.9,693.5 1142.3,693.5" fill="none" stroke="#e8120c" stroke-width="1.8" stroke-linejoin="round"/>
<rect x="1052.7" y="688.8" width="93.5" height="122.60000000000002" fill="none" stroke="#000" stroke-width="2"/>
<text transform="translate(1050.2,797.9) rotate(-90)" font-size="5" fill="#222" text-anchor="middle">−0.08</text>
<line x1="1050.7" y1="797.9" x2="1052.7" y2="797.9" stroke="#000" stroke-width="1"/>
<text transform="translate(1050.2,780.5) rotate(-90)" font-size="5" fill="#222" text-anchor="middle">−0.06</text>
<line x1="1050.7" y1="780.5" x2="1052.7" y2="780.5" stroke="#000" stroke-width="1"/>
<text transform="translate(1050.2,763.1) rotate(-90)" font-size="5" fill="#222" text-anchor="middle">−0.04</text>
<line x1="1050.7" y1="763.1" x2="1052.7" y2="763.1" stroke="#000" stroke-width="1"/>
<text transform="translate(1050.2,745.7) rotate(-90)" font-size="5" fill="#222" text-anchor="middle">−0.02</text>
<line x1="1050.7" y1="745.7" x2="1052.7" y2="745.7" stroke="#000" stroke-width="1"/>
<text transform="translate(1050.2,728.3) rotate(-90)" font-size="5" fill="#222" text-anchor="middle">0.00</text>
<line x1="1050.7" y1="728.3" x2="1052.7" y2="728.3" stroke="#000" stroke-width="1"/>
<text transform="translate(1050.2,710.9) rotate(-90)" font-size="5" fill="#222" text-anchor="middle">0.02</text>
<line x1="1050.7" y1="710.9" x2="1052.7" y2="710.9" stroke="#000" stroke-width="1"/>
<text transform="translate(1050.2,693.5) rotate(-90)" font-size="5" fill="#222" text-anchor="middle">0.04</text>
<line x1="1050.7" y1="693.5" x2="1052.7" y2="693.5" stroke="#000" stroke-width="1"/>
<text x="1058.7" y="817.4" font-size="5" fill="#222" text-anchor="middle">0</text>
<text x="1077.6" y="817.4" font-size="5" fill="#222" text-anchor="middle">2</text>
<text x="1096.6" y="817.4" font-size="5" fill="#222" text-anchor="middle">4</text>
<text x="1115.5" y="817.4" font-size="5" fill="#222" text-anchor="middle">6</text>
<text x="1134.4" y="817.4" font-size="5" fill="#222" text-anchor="middle">8</text>
<text x="1099.45" y="826.8" font-size="6.8" fill="#1a1a1a" text-anchor="middle">hsa−miR−330−3p</text>
<text transform="translate(1041.2,750.0999999999999) rotate(-90)" font-size="8" fill="#1a1a1a" text-anchor="middle">SHAP</text>
<path d="M192.5,836.5 L202.5,855 L687.5,855 L701,874 L717.5,855 L1198.4,854.8 L1211.4,837.8" fill="none" stroke="#2fb914" stroke-width="5" stroke-linejoin="miter"/>
<line x1="351.5" y1="868.5" x2="351.5" y2="899" stroke="#33ee33" stroke-width="2.5" stroke-linecap="round"/>
<path d="M338.1,889 L351.5,900 L351.5,922 Z" fill="#a8fcb8"/>
<path d="M364.9,889 L351.5,900 L351.5,922 Z" fill="#78fc88"/>
<path d="M338.1,889 L351.5,900 L364.9,889 L351.5,922 Z" fill="none" stroke="#33ee33" stroke-width="2" stroke-linejoin="miter"/>
<rect x="152.5" y="929" width="399.0" height="57.5" rx="22" ry="22" fill="url(#pg)" stroke="#b1b9f6" stroke-width="2.6"/>
<text transform="translate(216.5,969) scale(1.012,1.0)" font-size="31.3" fill="#000">miRNAs regulation</text>
<line x1="351.5" y1="993.5" x2="351.5" y2="1024" stroke="#33ee33" stroke-width="2.5" stroke-linecap="round"/>
<path d="M338.1,1014 L351.5,1025 L351.5,1047 Z" fill="#a8fcb8"/>
<path d="M364.9,1014 L351.5,1025 L351.5,1047 Z" fill="#78fc88"/>
<path d="M338.1,1014 L351.5,1025 L364.9,1014 L351.5,1047 Z" fill="none" stroke="#33ee33" stroke-width="2" stroke-linejoin="miter"/>
<rect x="894.3" y="868.2" width="186.0" height="47.799999999999955" rx="14.5" ry="14.5" fill="url(#pg)" stroke="#b1b9f6" stroke-width="2.6"/>
<text transform="translate(914.6,903.2) scale(1.024,1.042)" font-size="28.4" fill="#000">GSE65286</text>
<line x1="987.5" y1="918.7" x2="987.5" y2="948.5" stroke="#33ee33" stroke-width="2.5" stroke-linecap="round"/>
<path d="M974.1,938.5 L987.5,949.5 L987.5,971.5 Z" fill="#a8fcb8"/>
<path d="M1000.9,938.5 L987.5,949.5 L987.5,971.5 Z" fill="#78fc88"/>
<path d="M974.1,938.5 L987.5,949.5 L1000.9,938.5 L987.5,971.5 Z" fill="none" stroke="#33ee33" stroke-width="2" stroke-linejoin="miter"/>
<rect x="886.4" y="976" width="208.60000000000002" height="57.299999999999955" rx="22" ry="22" fill="url(#pg)" stroke="#b1b9f6" stroke-width="2.6"/>
<text transform="translate(941.8,1017.6) scale(1.022,1.023)" font-size="31.3" fill="#000">DEmRs</text>
<path d="M610.4,1072 L619.2,1054.5 L981.2,1055 L991.5,1037.2 L1000.2,1055 L1362,1054.5 L1371.3,1072" fill="none" stroke="#2fb914" stroke-width="5" stroke-linejoin="miter"/>
<path d="M325,1371 L334,1392.5 L694.5,1392.5 L705,1410.8 L716.5,1392.5 L1074.7,1392.5 L1084.3,1374" fill="none" stroke="#2fb914" stroke-width="5" stroke-linejoin="miter"/>
<path d="M163.6,1054.5 C183.4,1054.5 183.4,1055.0 203.3,1055.0 L203.3,1064.5 C183.4,1064.5 183.4,1064.5 163.6,1064.5 Z" fill="#3a4aa6" fill-opacity="0.65" stroke="#3a4aa6" stroke-opacity="0.39" stroke-width="0.5"/>
<path d="M163.6,1064.5 C183.4,1064.5 183.4,1078.0 203.3,1078.0 L203.3,1087.4 C183.4,1087.4 183.4,1074.3 163.6,1074.3 Z" fill="#3a4aa6" fill-opacity="0.65" stroke="#3a4aa6" stroke-opacity="0.39" stroke-width="0.5"/>
<path d="M163.6,1074.3 C183.4,1074.3 183.4,1089.5 203.3,1089.5 L203.3,1099.0 C183.4,1099.0 183.4,1084.3 163.6,1084.3 Z" fill="#3a4aa6" fill-opacity="0.65" stroke="#3a4aa6" stroke-opacity="0.39" stroke-width="0.5"/>
<path d="M163.6,1084.3 C183.4,1084.3 183.4,1101.0 203.3,1101.0 L203.3,1110.3 C183.4,1110.3 183.4,1094.0 163.6,1094.0 Z" fill="#3a4aa6" fill-opacity="0.65" stroke="#3a4aa6" stroke-opacity="0.39" stroke-width="0.5"/>
<path d="M163.6,1094.0 C183.4,1094.0 183.4,1112.4 203.3,1112.4 L203.3,1121.8 C183.4,1121.8 183.4,1103.8 163.6,1103.8 Z" fill="#3a4aa6" fill-opacity="0.65" stroke="#3a4aa6" stroke-opacity="0.39" stroke-width="0.5"/>
<path d="M163.6,1103.8 C183.4,1103.8 183.4,1135.3 203.3,1135.3 L203.3,1190.5 C183.4,1190.5 183.4,1161.7 163.6,1161.7 Z" fill="#3a4aa6" fill-opacity="0.65" stroke="#3a4aa6" stroke-opacity="0.39" stroke-width="0.5"/>
<path d="M163.6,1161.7 C183.4,1161.7 183.4,1192.5 203.3,1192.5 L203.3,1202.0 C183.4,1202.0 183.4,1171.6 163.6,1171.6 Z" fill="#3a4aa6" fill-opacity="0.65" stroke="#3a4aa6" stroke-opacity="0.39" stroke-width="0.5"/>
<path d="M163.6,1171.6 C183.4,1171.6 183.4,1204.0 203.3,1204.0 L203.3,1225.0 C183.4,1225.0 183.4,1193.6 163.6,1193.6 Z" fill="#3a4aa6" fill-opacity="0.65" stroke="#3a4aa6" stroke-opacity="0.39" stroke-width="0.5"/>
<path d="M163.6,1193.6 C183.4,1193.6 183.4,1260.4 203.3,1260.4 L203.3,1270.0 C183.4,1270.0 183.4,1203.7 163.6,1203.7 Z" fill="#3a4aa6" fill-opacity="0.65" stroke="#3a4aa6" stroke-opacity="0.39" stroke-width="0.5"/>
<path d="M163.6,1203.7 C183.4,1203.7 183.4,1272.0 203.3,1272.0 L203.3,1281.3 C183.4,1281.3 183.4,1213.4 163.6,1213.4 Z" fill="#3a4aa6" fill-opacity="0.65" stroke="#3a4aa6" stroke-opacity="0.39" stroke-width="0.5"/>
<path d="M163.6,1213.4 C183.4,1213.4 183.4,1283.4 203.3,1283.4 L203.3,1315.3 C183.4,1315.3 183.4,1246.8 163.6,1246.8 Z" fill="#3a4aa6" fill-opacity="0.65" stroke="#3a4aa6" stroke-opacity="0.39" stroke-width="0.5"/>
<path d="M163.6,1246.8 C183.4,1246.8 183.4,1317.3 203.3,1317.3 L203.3,1339.4 C183.4,1339.4 183.4,1270.0 163.6,1270.0 Z" fill="#3a4aa6" fill-opacity="0.65" stroke="#3a4aa6" stroke-opacity="0.39" stroke-width="0.5"/>
<path d="M163.6,1272.0 C183.4,1272.0 183.4,1066.6 203.3,1066.6 L203.3,1076.0 C183.4,1076.0 183.4,1284.4 163.6,1284.4 Z" fill="#c83838" fill-opacity="0.65" stroke="#c83838" stroke-opacity="0.39" stroke-width="0.5"/>
<path d="M163.6,1284.4 C183.4,1284.4 183.4,1123.8 203.3,1123.8 L203.3,1133.3 C183.4,1133.3 183.4,1296.9 163.6,1296.9 Z" fill="#c83838" fill-opacity="0.65" stroke="#c83838" stroke-opacity="0.39" stroke-width="0.5"/>
<path d="M163.6,1296.9 C183.4,1296.9 183.4,1227.0 203.3,1227.0 L203.3,1258.4 C183.4,1258.4 183.4,1338.4 163.6,1338.4 Z" fill="#c83838" fill-opacity="0.65" stroke="#c83838" stroke-opacity="0.39" stroke-width="0.5"/>
<path d="M365.2,1055.0 C385.1,1055.0 385.1,1135.0 405.0,1135.0 L405.0,1146.0 C385.1,1146.0 385.1,1059.8 365.2,1059.8 Z" fill="#e9c443" fill-opacity="0.6" stroke="#e9c443" stroke-opacity="0.36" stroke-width="0.5"/>
<path d="M365.2,1059.8 C385.1,1059.8 385.1,1169.0 405.0,1169.0 L405.0,1180.2 C385.1,1180.2 385.1,1064.5 365.2,1064.5 Z" fill="#e9c443" fill-opacity="0.6" stroke="#e9c443" stroke-opacity="0.36" stroke-width="0.5"/>
<path d="M365.2,1066.6 C385.1,1066.6 385.1,1249.4 405.0,1249.4 L405.0,1260.5 C385.1,1260.5 385.1,1076.0 365.2,1076.0 Z" fill="#3c9a32" fill-opacity="0.6" stroke="#3c9a32" stroke-opacity="0.36" stroke-width="0.5"/>
<path d="M365.2,1078.0 C385.1,1078.0 385.1,1260.5 405.0,1260.5 L405.0,1271.5 C385.1,1271.5 385.1,1087.4 365.2,1087.4 Z" fill="#4ad832" fill-opacity="0.6" stroke="#4ad832" stroke-opacity="0.36" stroke-width="0.5"/>
<path d="M365.2,1089.5 C385.1,1089.5 385.1,1053.5 405.0,1053.5 L405.0,1065.1 C385.1,1065.1 385.1,1099.0 365.2,1099.0 Z" fill="#72f0c8" fill-opacity="0.6" stroke="#72f0c8" stroke-opacity="0.36" stroke-width="0.5"/>
<path d="M365.2,1101.0 C385.1,1101.0 385.1,1146.0 405.0,1146.0 L405.0,1157.0 C385.1,1157.0 385.1,1110.3 365.2,1110.3 Z" fill="#5e1232" fill-opacity="0.6" stroke="#5e1232" stroke-opacity="0.36" stroke-width="0.5"/>
<path d="M365.2,1112.4 C385.1,1112.4 385.1,1294.4 405.0,1294.4 L405.0,1305.7 C385.1,1305.7 385.1,1121.8 365.2,1121.8 Z" fill="#62a2d6" fill-opacity="0.6" stroke="#62a2d6" stroke-opacity="0.36" stroke-width="0.5"/>
<path d="M365.2,1123.8 C385.1,1123.8 385.1,1271.5 405.0,1271.5 L405.0,1282.5 C385.1,1282.5 385.1,1133.3 365.2,1133.3 Z" fill="#40b030" fill-opacity="0.6" stroke="#40b030" stroke-opacity="0.36" stroke-width="0.5"/>
<path d="M365.2,1135.3 C385.1,1135.3 385.1,1101.3 405.0,1101.3 L405.0,1112.2 C385.1,1112.2 385.1,1146.3 365.2,1146.3 Z" fill="#30164a" fill-opacity="0.6" stroke="#30164a" stroke-opacity="0.36" stroke-width="0.5"/>
<path d="M365.2,1146.3 C385.1,1146.3 385.1,1157.0 405.0,1157.0 L405.0,1168.0 C385.1,1168.0 385.1,1157.4 365.2,1157.4 Z" fill="#30164a" fill-opacity="0.6" stroke="#30164a" stroke-opacity="0.36" stroke-width="0.5"/>
<path d="M365.2,1157.4 C385.1,1157.4 385.1,1180.2 405.0,1180.2 L405.0,1191.3 C385.1,1191.3 385.1,1168.4 365.2,1168.4 Z" fill="#30164a" fill-opacity="0.6" stroke="#30164a" stroke-opacity="0.36" stroke-width="0.5"/>
<path d="M365.2,1168.4 C385.1,1168.4 385.1,1192.0 405.0,1192.0 L405.0,1203.0 C385.1,1203.0 385.1,1179.5 365.2,1179.5 Z" fill="#30164a" fill-opacity="0.6" stroke="#30164a" stroke-opacity="0.36" stroke-width="0.5"/>
<path d="M365.2,1179.5 C385.1,1179.5 385.1,1305.7 405.0,1305.7 L405.0,1316.9 C385.1,1316.9 385.1,1190.5 365.2,1190.5 Z" fill="#30164a" fill-opacity="0.6" stroke="#30164a" stroke-opacity="0.36" stroke-width="0.5"/>
<path d="M365.2,1192.5 C385.1,1192.5 385.1,1282.5 405.0,1282.5 L405.0,1293.6 C385.1,1293.6 385.1,1202.0 365.2,1202.0 Z" fill="#7a581a" fill-opacity="0.6" stroke="#7a581a" stroke-opacity="0.36" stroke-width="0.5"/>
<path d="M365.2,1204.0 C385.1,1204.0 385.1,1203.0 405.0,1203.0 L405.0,1214.0 C385.1,1214.0 385.1,1214.5 365.2,1214.5 Z" fill="#6058c0" fill-opacity="0.6" stroke="#6058c0" stroke-opacity="0.36" stroke-width="0.5"/>
<path d="M365.2,1214.5 C385.1,1214.5 385.1,1316.9 405.0,1316.9 L405.0,1328.2 C385.1,1328.2 385.1,1225.0 365.2,1225.0 Z" fill="#6058c0" fill-opacity="0.6" stroke="#6058c0" stroke-opacity="0.36" stroke-width="0.5"/>
<path d="M365.2,1227.0 C385.1,1227.0 385.1,1065.1 405.0,1065.1 L405.0,1076.8 C385.1,1076.8 385.1,1237.5 365.2,1237.5 Z" fill="#c832b8" fill-opacity="0.6" stroke="#c832b8" stroke-opacity="0.36" stroke-width="0.5"/>
<path d="M365.2,1237.5 C385.1,1237.5 385.1,1112.2 405.0,1112.2 L405.0,1123.1 C385.1,1123.1 385.1,1247.9 365.2,1247.9 Z" fill="#c832b8" fill-opacity="0.6" stroke="#c832b8" stroke-opacity="0.36" stroke-width="0.5"/>
<path d="M365.2,1247.9 C385.1,1247.9 385.1,1225.7 405.0,1225.7 L405.0,1237.2 C385.1,1237.2 385.1,1258.4 365.2,1258.4 Z" fill="#c832b8" fill-opacity="0.6" stroke="#c832b8" stroke-opacity="0.36" stroke-width="0.5"/>
<path d="M365.2,1260.4 C385.1,1260.4 385.1,1076.8 405.0,1076.8 L405.0,1088.4 C385.1,1088.4 385.1,1270.0 365.2,1270.0 Z" fill="#c8d852" fill-opacity="0.6" stroke="#c8d852" stroke-opacity="0.36" stroke-width="0.5"/>
<path d="M365.2,1272.0 C385.1,1272.0 385.1,1088.4 405.0,1088.4 L405.0,1100.0 C385.1,1100.0 385.1,1281.3 365.2,1281.3 Z" fill="#4e3e6e" fill-opacity="0.6" stroke="#4e3e6e" stroke-opacity="0.36" stroke-width="0.5"/>
<path d="M365.2,1283.4 C385.1,1283.4 385.1,1123.1 405.0,1123.1 L405.0,1134.0 C385.1,1134.0 385.1,1299.3 365.2,1299.3 Z" fill="#7aea58" fill-opacity="0.6" stroke="#7aea58" stroke-opacity="0.36" stroke-width="0.5"/>
<path d="M365.2,1299.3 C385.1,1299.3 385.1,1214.0 405.0,1214.0 L405.0,1225.0 C385.1,1225.0 385.1,1315.3 365.2,1315.3 Z" fill="#7aea58" fill-opacity="0.6" stroke="#7aea58" stroke-opacity="0.36" stroke-width="0.5"/>
<path d="M365.2,1317.3 C385.1,1317.3 385.1,1237.2 405.0,1237.2 L405.0,1248.6 C385.1,1248.6 385.1,1328.3 365.2,1328.3 Z" fill="#213291" fill-opacity="0.6" stroke="#213291" stroke-opacity="0.36" stroke-width="0.5"/>
<path d="M365.2,1328.3 C385.1,1328.3 385.1,1328.2 405.0,1328.2 L405.0,1339.4 C385.1,1339.4 385.1,1339.4 365.2,1339.4 Z" fill="#213291" fill-opacity="0.6" stroke="#213291" stroke-opacity="0.36" stroke-width="0.5"/>
<rect x="0.6" y="1052.7" width="163.8" height="288.1" fill="#000"/>
<rect x="202.1" y="1053" width="163.9" height="287.8" fill="#000"/>
<rect x="403.9" y="1053" width="164.2" height="287.8" fill="#000"/>
<rect x="2.8" y="1055.6" width="159.2" height="213.9000000000001" fill="#1f3591"/>
<text x="82.4" y="1164.75" font-size="6.3" fill="#111" text-anchor="middle">hsa−miR−330−3p</text>
<rect x="2.8" y="1272.8" width="159.2" height="64.60000000000014" fill="#b81a1a"/>
<text x="82.4" y="1307.3" font-size="6.3" fill="#111" text-anchor="middle">hsa−miR−375</text>
<rect x="205" y="1055.5" width="158.5" height="8.599999999999909" fill="#e9c443"/>
<text x="284.25" y="1062.0" font-size="6.3" fill="#111" text-anchor="middle">ADCY9</text>
<rect x="205" y="1067.1" width="158.5" height="8.5" fill="#3c9a32"/>
<text x="284.25" y="1073.55" font-size="6.3" fill="#111" text-anchor="middle">ATP1B1</text>
<rect x="205" y="1078.5" width="158.5" height="8.5" fill="#4ad832"/>
<text x="284.25" y="1084.95" font-size="6.3" fill="#111" text-anchor="middle">COL4A4</text>
<rect x="205" y="1090.0" width="158.5" height="8.599999999999909" fill="#72f0c8"/>
<text x="284.25" y="1096.5" font-size="6.3" fill="#111" text-anchor="middle">EEF2K</text>
<rect x="205" y="1101.5" width="158.5" height="8.399999999999864" fill="#5e1232"/>
<text x="284.25" y="1107.8999999999999" font-size="6.3" fill="#111" text-anchor="middle">GLS</text>
<rect x="205" y="1112.9" width="158.5" height="8.499999999999773" fill="#62a2d6"/>
<text x="284.25" y="1119.3500000000001" font-size="6.3" fill="#111" text-anchor="middle">IL6R</text>
<rect x="205" y="1124.3" width="158.5" height="8.599999999999909" fill="#40b030"/>
<text x="284.25" y="1130.8" font-size="6.3" fill="#111" text-anchor="middle">KCNE3</text>
<rect x="205" y="1135.8" width="158.5" height="54.299999999999955" fill="#30164a"/>
<text x="284.25" y="1165.1499999999999" font-size="6.3" fill="#111" text-anchor="middle">MAPK1</text>
<rect x="205" y="1193.0" width="158.5" height="8.599999999999909" fill="#7a581a"/>
<text x="284.25" y="1199.5" font-size="6.3" fill="#111" text-anchor="middle">MME</text>
<rect x="205" y="1204.5" width="158.5" height="20.09999999999991" fill="#6058c0"/>
<text x="284.25" y="1216.75" font-size="6.3" fill="#111" text-anchor="middle">NFATC3</text>
<rect x="205" y="1227.5" width="158.5" height="30.5" fill="#c832b8"/>
<text x="284.25" y="1244.95" font-size="6.3" fill="#111" text-anchor="middle">PDPK1</text>
<rect x="205" y="1260.9" width="158.5" height="8.699999999999818" fill="#c8d852"/>
<text x="284.25" y="1267.45" font-size="6.3" fill="#111" text-anchor="middle">PPP2CA</text>
<rect x="205" y="1272.5" width="158.5" height="8.399999999999864" fill="#4e3e6e"/>
<text x="284.25" y="1278.8999999999999" font-size="6.3" fill="#111" text-anchor="middle">PRKAB2</text>
<rect x="205" y="1283.9" width="158.5" height="30.999999999999773" fill="#7aea58"/>
<text x="284.25" y="1301.6000000000001" font-size="6.3" fill="#111" text-anchor="middle">RAF1</text>
<rect x="205" y="1317.8" width="158.5" height="19.600000000000136" fill="#213291"/>
<text x="284.25" y="1329.8" font-size="6.3" fill="#111" text-anchor="middle">RXRA</text>
<rect x="406.6" y="1055.6" width="159.19999999999993" height="44.0" fill="#b81a1a"/>
<text x="486.2" y="1079.8" font-size="6.1" fill="#111" text-anchor="middle">AMPK signaling pathway</text>
<rect x="406.6" y="1101.8" width="159.19999999999993" height="31.799999999999955" fill="#e9c443"/>
<text x="486.2" y="1119.8999999999999" font-size="6.1" fill="#111" text-anchor="middle">Apoptosis</text>
<rect x="406.6" y="1135.5" width="159.19999999999993" height="32.09999999999991" fill="#3c9a32"/>
<text x="486.2" y="1153.75" font-size="6.1" fill="#111" text-anchor="middle">Glutamatergic synapse</text>
<rect x="406.6" y="1169.5" width="159.19999999999993" height="21.399999999999864" fill="#4ad832"/>
<text x="486.2" y="1182.3999999999999" font-size="6.1" fill="#111" text-anchor="middle">GnRH secretion</text>
<rect x="406.6" y="1192.5" width="159.19999999999993" height="32.09999999999991" fill="#72f0c8"/>
<text x="486.2" y="1210.75" font-size="6.1" fill="#111" text-anchor="middle">PD−L1 expression and PD−1 checkpoint pathway in cancer</text>
<rect x="406.6" y="1226.2" width="159.19999999999993" height="21.999999999999773" fill="#5e1232"/>
<text x="486.2" y="1239.3999999999999" font-size="6.1" fill="#111" text-anchor="middle">PPAR signaling pathway</text>
<rect x="406.6" y="1249.9" width="159.19999999999993" height="43.29999999999973" fill="#62a2d6"/>
<text x="486.2" y="1273.75" font-size="6.1" fill="#111" text-anchor="middle">Protein digestion and absorption</text>
<rect x="406.6" y="1294.9" width="159.19999999999993" height="42.5" fill="#40b030"/>
<text x="486.2" y="1318.3500000000001" font-size="6.1" fill="#111" text-anchor="middle">Th17 cell differentiation</text>
<text x="856.6" y="1080.8" font-size="19.4" fill="#111" text-anchor="middle">Apoptosis</text>
<rect x="651.4" y="1093" width="417.4" height="205.20000000000005" fill="#fff"/>
<line x1="703.8" y1="1093" x2="703.8" y2="1298.2" stroke="#e3eaea" stroke-width="1.5"/>
<line x1="756.9" y1="1093" x2="756.9" y2="1298.2" stroke="#e3eaea" stroke-width="2.4"/>
<line x1="809.9" y1="1093" x2="809.9" y2="1298.2" stroke="#e3eaea" stroke-width="1.5"/>
<line x1="863" y1="1093" x2="863" y2="1298.2" stroke="#e3eaea" stroke-width="2.4"/>
<line x1="916.1" y1="1093" x2="916.1" y2="1298.2" stroke="#e3eaea" stroke-width="1.5"/>
<line x1="969.2" y1="1093" x2="969.2" y2="1298.2" stroke="#e3eaea" stroke-width="2.4"/>
<line x1="1022.3" y1="1093" x2="1022.3" y2="1298.2" stroke="#e3eaea" stroke-width="1.5"/>
<line x1="651.4" y1="1099.3" x2="1068.8" y2="1099.3" stroke="#e3eaea" stroke-width="2.4"/>
<line x1="651.4" y1="1117.8" x2="1068.8" y2="1117.8" stroke="#e3eaea" stroke-width="1.5"/>
<line x1="651.4" y1="1136.4" x2="1068.8" y2="1136.4" stroke="#e3eaea" stroke-width="2.4"/>
<line x1="651.4" y1="1154.3" x2="1068.8" y2="1154.3" stroke="#e3eaea" stroke-width="1.5"/>
<line x1="651.4" y1="1172.9" x2="1068.8" y2="1172.9" stroke="#e3eaea" stroke-width="2.4"/>
<line x1="651.4" y1="1191.1" x2="1068.8" y2="1191.1" stroke="#e3eaea" stroke-width="1.5"/>
<line x1="651.4" y1="1209.5" x2="1068.8" y2="1209.5" stroke="#e3eaea" stroke-width="2.4"/>
<line x1="651.4" y1="1228" x2="1068.8" y2="1228" stroke="#e3eaea" stroke-width="1.5"/>
<line x1="651.4" y1="1246.3" x2="1068.8" y2="1246.3" stroke="#e3eaea" stroke-width="2.4"/>
<line x1="651.4" y1="1264.5" x2="1068.8" y2="1264.5" stroke="#e3eaea" stroke-width="1.5"/>
<line x1="651.4" y1="1282.7" x2="1068.8" y2="1282.7" stroke="#e3eaea" stroke-width="2.4"/>
<line x1="666.7" y1="1136.4" x2="666.7" y2="1103.0" stroke="#41a148" stroke-width="2.4"/>
<line x1="667.8" y1="1136.4" x2="667.8" y2="1101.3" stroke="#42a249" stroke-width="2.4"/>
<line x1="669.0" y1="1136.4" x2="669.0" y2="1102.1" stroke="#42a24a" stroke-width="2.4"/>
<line x1="684.6" y1="1136.4" x2="684.6" y2="1112.0" stroke="#49a952" stroke-width="2.4"/>
<line x1="685.4" y1="1136.4" x2="685.4" y2="1111.7" stroke="#49a952" stroke-width="2.4"/>
<line x1="687.8" y1="1136.4" x2="687.8" y2="1110.7" stroke="#4bab54" stroke-width="2.4"/>
<line x1="688.5" y1="1136.4" x2="688.5" y2="1110.7" stroke="#4bab54" stroke-width="2.4"/>
<line x1="694.6" y1="1136.4" x2="694.6" y2="1111.8" stroke="#4eae57" stroke-width="2.4"/>
<line x1="695.6" y1="1136.4" x2="695.6" y2="1112.0" stroke="#4eae58" stroke-width="2.4"/>
<line x1="696.6" y1="1136.4" x2="696.6" y2="1112.3" stroke="#4eae58" stroke-width="2.4"/>
<line x1="697.6" y1="1136.4" x2="697.6" y2="1112.8" stroke="#4faf59" stroke-width="2.4"/>
<line x1="698.3" y1="1136.4" x2="698.3" y2="1113.2" stroke="#4faf59" stroke-width="2.4"/>
<line x1="706.4" y1="1136.4" x2="706.4" y2="1117.5" stroke="#53b35e" stroke-width="2.4"/>
<line x1="707.2" y1="1136.4" x2="707.2" y2="1117.9" stroke="#54b35e" stroke-width="2.4"/>
<line x1="714.9" y1="1136.4" x2="714.9" y2="1122.1" stroke="#57b663" stroke-width="2.4"/>
<line x1="715.6" y1="1136.4" x2="715.6" y2="1122.5" stroke="#58b663" stroke-width="2.4"/>
<line x1="720.3" y1="1136.4" x2="720.3" y2="1124.5" stroke="#5ab866" stroke-width="2.4"/>
<line x1="721.0" y1="1136.4" x2="721.0" y2="1124.3" stroke="#5ab866" stroke-width="2.4"/>
<line x1="726.1" y1="1136.4" x2="726.1" y2="1123.2" stroke="#5dba69" stroke-width="2.4"/>
<line x1="727.2" y1="1136.4" x2="727.2" y2="1123.2" stroke="#5ebb6a" stroke-width="2.4"/>
<line x1="731.2" y1="1136.4" x2="731.2" y2="1125.2" stroke="#60bc6c" stroke-width="2.4"/>
<line x1="731.9" y1="1136.4" x2="731.9" y2="1125.5" stroke="#60bd6d" stroke-width="2.4"/>
<line x1="736.7" y1="1136.4" x2="736.7" y2="1127.3" stroke="#62bf6f" stroke-width="2.4"/>
<line x1="737.8" y1="1136.4" x2="737.8" y2="1127.7" stroke="#63bf70" stroke-width="2.4"/>
<line x1="744.4" y1="1136.4" x2="744.4" y2="1127.7" stroke="#66c274" stroke-width="2.4"/>
<line x1="745.6" y1="1136.4" x2="745.6" y2="1127.8" stroke="#67c275" stroke-width="2.4"/>
<line x1="760.0" y1="1136.4" x2="760.0" y2="1139.0" stroke="#6ec87d" stroke-width="2.4"/>
<line x1="771.0" y1="1136.4" x2="771.0" y2="1145.2" stroke="#81d08e" stroke-width="2.4"/>
<line x1="784.0" y1="1136.4" x2="784.0" y2="1155.0" stroke="#97d9a1" stroke-width="2.4"/>
<line x1="795.0" y1="1136.4" x2="795.0" y2="1163.5" stroke="#aae1b2" stroke-width="2.4"/>
<line x1="810.0" y1="1136.4" x2="810.0" y2="1175.3" stroke="#c3ecc8" stroke-width="2.4"/>
<line x1="818.0" y1="1136.4" x2="818.0" y2="1181.6" stroke="#d3efd6" stroke-width="2.4"/>
<line x1="823.0" y1="1136.4" x2="823.0" y2="1185.5" stroke="#ddf2de" stroke-width="2.4"/>
<line x1="832.0" y1="1136.4" x2="832.0" y2="1192.6" stroke="#eef5ee" stroke-width="2.4"/>
<line x1="838.0" y1="1136.4" x2="838.0" y2="1197.1" stroke="#faf8f8" stroke-width="2.4"/>
<line x1="840.0" y1="1136.4" x2="840.0" y2="1198.5" stroke="#f7f1f1" stroke-width="2.4"/>
<line x1="843.0" y1="1136.4" x2="843.0" y2="1200.7" stroke="#f2e7e7" stroke-width="2.4"/>
<line x1="846.0" y1="1136.4" x2="846.0" y2="1202.8" stroke="#eedddd" stroke-width="2.4"/>
<line x1="850.5" y1="1136.4" x2="850.5" y2="1206.1" stroke="#e7cfcf" stroke-width="2.4"/>
<line x1="864.3" y1="1136.4" x2="864.3" y2="1216.9" stroke="#d9b9b7" stroke-width="2.4"/>
<line x1="872.2" y1="1136.4" x2="872.2" y2="1223.2" stroke="#d0aca9" stroke-width="2.4"/>
<line x1="884.5" y1="1136.4" x2="884.5" y2="1233.0" stroke="#c49b95" stroke-width="2.4"/>
<line x1="887.0" y1="1136.4" x2="887.0" y2="1235.1" stroke="#c29891" stroke-width="2.4"/>
<line x1="891.5" y1="1136.4" x2="891.5" y2="1238.7" stroke="#bf928b" stroke-width="2.4"/>
<line x1="899.5" y1="1136.4" x2="899.5" y2="1245.1" stroke="#b88980" stroke-width="2.4"/>
<line x1="905.0" y1="1136.4" x2="905.0" y2="1249.5" stroke="#b48278" stroke-width="2.4"/>
<line x1="918.0" y1="1136.4" x2="918.0" y2="1259.6" stroke="#a46d5e" stroke-width="2.4"/>
<line x1="925.5" y1="1136.4" x2="925.5" y2="1265.4" stroke="#9b614f" stroke-width="2.4"/>
<line x1="935.5" y1="1136.4" x2="935.5" y2="1273.7" stroke="#7c3d1e" stroke-width="2.4"/>
<line x1="936.4" y1="1136.4" x2="936.4" y2="1274.7" stroke="#7a3a1a" stroke-width="2.4"/>
<line x1="937.3" y1="1136.4" x2="937.3" y2="1275.8" stroke="#7a3a1a" stroke-width="2.4"/>
<line x1="938.2" y1="1136.4" x2="938.2" y2="1276.8" stroke="#7a3a1a" stroke-width="2.4"/>
<line x1="939.1" y1="1136.4" x2="939.1" y2="1277.8" stroke="#7a3a1a" stroke-width="2.4"/>
<line x1="940.0" y1="1136.4" x2="940.0" y2="1278.9" stroke="#7a3a1a" stroke-width="2.4"/>
<line x1="940.9" y1="1136.4" x2="940.9" y2="1279.9" stroke="#7a3a1a" stroke-width="2.4"/>
<line x1="941.8" y1="1136.4" x2="941.8" y2="1280.9" stroke="#7a3a1a" stroke-width="2.4"/>
<line x1="942.7" y1="1136.4" x2="942.7" y2="1281.9" stroke="#7a3a1a" stroke-width="2.4"/>
<line x1="943.6" y1="1136.4" x2="943.6" y2="1283.0" stroke="#7a3a1a" stroke-width="2.4"/>
<line x1="944.5" y1="1136.4" x2="944.5" y2="1284.0" stroke="#7a3a1a" stroke-width="2.4"/>
<line x1="945.4" y1="1136.4" x2="945.4" y2="1284.9" stroke="#7a3a1a" stroke-width="2.4"/>
<line x1="946.3" y1="1136.4" x2="946.3" y2="1285.1" stroke="#7a3a1a" stroke-width="2.4"/>
<line x1="947.2" y1="1136.4" x2="947.2" y2="1285.4" stroke="#7a3a1a" stroke-width="2.4"/>
<line x1="948.1" y1="1136.4" x2="948.1" y2="1285.7" stroke="#7a3a1a" stroke-width="2.4"/>
<line x1="949.0" y1="1136.4" x2="949.0" y2="1285.9" stroke="#7a3a1a" stroke-width="2.4"/>
<line x1="949.9" y1="1136.4" x2="949.9" y2="1286.2" stroke="#7a3a1a" stroke-width="2.4"/>
<line x1="950.8" y1="1136.4" x2="950.8" y2="1286.5" stroke="#7a3a1a" stroke-width="2.4"/>
<line x1="951.7" y1="1136.4" x2="951.7" y2="1286.7" stroke="#7a3a1a" stroke-width="2.4"/>
<line x1="952.6" y1="1136.4" x2="952.6" y2="1287.0" stroke="#7a3a1a" stroke-width="2.4"/>
<line x1="953.5" y1="1136.4" x2="953.5" y2="1287.3" stroke="#7a3a1a" stroke-width="2.4"/>
<line x1="954.4" y1="1136.4" x2="954.4" y2="1287.5" stroke="#7a3a1a" stroke-width="2.4"/>
<line x1="955.3" y1="1136.4" x2="955.3" y2="1287.8" stroke="#7a3a1a" stroke-width="2.4"/>
<line x1="956.2" y1="1136.4" x2="956.2" y2="1288.1" stroke="#7a3a1a" stroke-width="2.4"/>
<line x1="957.1" y1="1136.4" x2="957.1" y2="1288.3" stroke="#7a3a1a" stroke-width="2.4"/>
<line x1="958.0" y1="1136.4" x2="958.0" y2="1288.6" stroke="#7a3a1a" stroke-width="2.4"/>
<line x1="958.9" y1="1136.4" x2="958.9" y2="1288.8" stroke="#7a3a1a" stroke-width="2.4"/>
<line x1="960.7" y1="1136.4" x2="960.7" y2="1289.4" stroke="#7a3a1a" stroke-width="2.4"/>
<line x1="961.6" y1="1136.4" x2="961.6" y2="1289.5" stroke="#7a3a1a" stroke-width="2.4"/>
<line x1="962.5" y1="1136.4" x2="962.5" y2="1289.5" stroke="#7a3a1a" stroke-width="2.4"/>
<line x1="963.4" y1="1136.4" x2="963.4" y2="1289.5" stroke="#7a3a1a" stroke-width="2.4"/>
<line x1="964.3" y1="1136.4" x2="964.3" y2="1289.5" stroke="#7a3a1a" stroke-width="2.4"/>
<line x1="965.2" y1="1136.4" x2="965.2" y2="1289.5" stroke="#7a3a1a" stroke-width="2.4"/>
<line x1="966.1" y1="1136.4" x2="966.1" y2="1289.5" stroke="#7a3a1a" stroke-width="2.4"/>
<line x1="967.0" y1="1136.4" x2="967.0" y2="1289.5" stroke="#7a3a1a" stroke-width="2.4"/>
<line x1="967.9" y1="1136.4" x2="967.9" y2="1289.5" stroke="#7a3a1a" stroke-width="2.4"/>
<line x1="968.8" y1="1136.4" x2="968.8" y2="1289.5" stroke="#7a3a1a" stroke-width="2.4"/>
<line x1="969.7" y1="1136.4" x2="969.7" y2="1289.5" stroke="#7a3a1a" stroke-width="2.4"/>
<line x1="971.5" y1="1136.4" x2="971.5" y2="1289.5" stroke="#7a3a1a" stroke-width="2.4"/>
<line x1="972.4" y1="1136.4" x2="972.4" y2="1289.5" stroke="#7a3a1a" stroke-width="2.4"/>
<line x1="973.3" y1="1136.4" x2="973.3" y2="1289.5" stroke="#7a3a1a" stroke-width="2.4"/>
<line x1="975.1" y1="1136.4" x2="975.1" y2="1289.5" stroke="#7a3a1a" stroke-width="2.4"/>
<line x1="976.0" y1="1136.4" x2="976.0" y2="1289.5" stroke="#7a3a1a" stroke-width="2.4"/>
<line x1="977.8" y1="1136.4" x2="977.8" y2="1289.5" stroke="#7a3a1a" stroke-width="2.4"/>
<line x1="978.7" y1="1136.4" x2="978.7" y2="1289.5" stroke="#7a3a1a" stroke-width="2.4"/>
<line x1="979.6" y1="1136.4" x2="979.6" y2="1289.5" stroke="#7a3a1a" stroke-width="2.4"/>
<line x1="980.5" y1="1136.4" x2="980.5" y2="1289.1" stroke="#7a3a1a" stroke-width="2.4"/>
<line x1="981.4" y1="1136.4" x2="981.4" y2="1288.2" stroke="#7a3a1a" stroke-width="2.4"/>
<line x1="982.3" y1="1136.4" x2="982.3" y2="1287.3" stroke="#7a3a1a" stroke-width="2.4"/>
<line x1="983.2" y1="1136.4" x2="983.2" y2="1286.4" stroke="#7a3a1a" stroke-width="2.4"/>
<line x1="984.1" y1="1136.4" x2="984.1" y2="1285.6" stroke="#7a3a1a" stroke-width="2.4"/>
<line x1="985.0" y1="1136.4" x2="985.0" y2="1284.7" stroke="#7a3a1a" stroke-width="2.4"/>
<line x1="985.9" y1="1136.4" x2="985.9" y2="1283.8" stroke="#7a3a1a" stroke-width="2.4"/>
<line x1="986.8" y1="1136.4" x2="986.8" y2="1282.7" stroke="#7a3a1a" stroke-width="2.4"/>
<line x1="987.7" y1="1136.4" x2="987.7" y2="1281.1" stroke="#7a3a1a" stroke-width="2.4"/>
<line x1="988.6" y1="1136.4" x2="988.6" y2="1279.5" stroke="#7a3a1a" stroke-width="2.4"/>
<line x1="989.5" y1="1136.4" x2="989.5" y2="1277.9" stroke="#7a3a1a" stroke-width="2.4"/>
<line x1="990.4" y1="1136.4" x2="990.4" y2="1276.3" stroke="#7a3a1a" stroke-width="2.4"/>
<line x1="991.3" y1="1136.4" x2="991.3" y2="1274.7" stroke="#7a3a1a" stroke-width="2.4"/>
<line x1="992.2" y1="1136.4" x2="992.2" y2="1273.2" stroke="#7a3a1a" stroke-width="2.4"/>
<line x1="993.5" y1="1136.4" x2="993.5" y2="1272.0" stroke="#7a3a1a" stroke-width="2.4"/>
<line x1="995.0" y1="1136.4" x2="995.0" y2="1271.7" stroke="#7a3a1a" stroke-width="2.4"/>
<line x1="997.5" y1="1136.4" x2="997.5" y2="1271.3" stroke="#824428" stroke-width="2.4"/>
<line x1="999.0" y1="1136.4" x2="999.0" y2="1271.1" stroke="#874930" stroke-width="2.4"/>
<line x1="1002.0" y1="1136.4" x2="1002.0" y2="1270.6" stroke="#915541" stroke-width="2.4"/>
<line x1="1003.5" y1="1136.4" x2="1003.5" y2="1269.9" stroke="#935744" stroke-width="2.4"/>
<line x1="1005.0" y1="1136.4" x2="1005.0" y2="1269.1" stroke="#955a47" stroke-width="2.4"/>
<line x1="1006.5" y1="1136.4" x2="1006.5" y2="1268.4" stroke="#975c4a" stroke-width="2.4"/>
<line x1="1008.0" y1="1136.4" x2="1008.0" y2="1267.6" stroke="#995e4d" stroke-width="2.4"/>
<line x1="1012.0" y1="1136.4" x2="1012.0" y2="1265.6" stroke="#9e6456" stroke-width="2.4"/>
<line x1="1013.5" y1="1136.4" x2="1013.5" y2="1264.9" stroke="#a06659" stroke-width="2.4"/>
<line x1="1017.0" y1="1136.4" x2="1017.0" y2="1262.6" stroke="#a46c60" stroke-width="2.4"/>
<line x1="1018.5" y1="1136.4" x2="1018.5" y2="1261.5" stroke="#a66e63" stroke-width="2.4"/>
<line x1="1020.0" y1="1136.4" x2="1020.0" y2="1260.4" stroke="#a87066" stroke-width="2.4"/>
<line x1="1021.5" y1="1136.4" x2="1021.5" y2="1259.2" stroke="#ab746b" stroke-width="2.4"/>
<line x1="1023.5" y1="1136.4" x2="1023.5" y2="1255.2" stroke="#af7971" stroke-width="2.4"/>
<line x1="1025.5" y1="1136.4" x2="1025.5" y2="1251.1" stroke="#b47e78" stroke-width="2.4"/>
<line x1="1029.0" y1="1136.4" x2="1029.0" y2="1242.4" stroke="#bb8783" stroke-width="2.4"/>
<line x1="1030.5" y1="1136.4" x2="1030.5" y2="1237.4" stroke="#be8b88" stroke-width="2.4"/>
<line x1="1032.0" y1="1136.4" x2="1032.0" y2="1232.5" stroke="#c28e8c" stroke-width="2.4"/>
<line x1="1033.5" y1="1136.4" x2="1033.5" y2="1228.8" stroke="#c59291" stroke-width="2.4"/>
<line x1="1041.0" y1="1136.4" x2="1041.0" y2="1216.0" stroke="#dcbbbb" stroke-width="2.4"/>
<line x1="1043.0" y1="1136.4" x2="1043.0" y2="1214.1" stroke="#e3c7c7" stroke-width="2.4"/>
<line x1="959.5" y1="1138.4" x2="959.5" y2="1285.0" stroke="#fff" stroke-width="1.1" stroke-opacity="0.9"/>
<line x1="970.6" y1="1138.4" x2="970.6" y2="1285.5" stroke="#fff" stroke-width="1.1" stroke-opacity="0.9"/>
<line x1="973.8" y1="1138.4" x2="973.8" y2="1285.5" stroke="#fff" stroke-width="1.1" stroke-opacity="0.9"/>
<line x1="977" y1="1138.4" x2="977" y2="1285.5" stroke="#fff" stroke-width="1.1" stroke-opacity="0.9"/>
<line x1="651.4" y1="1136.4" x2="1068.8" y2="1136.4" stroke="#000" stroke-width="3" stroke-dasharray="17.7 18.1" stroke-dashoffset="0"/>
<line x1="654.3" y1="1135.4" x2="657.8" y2="1142.4" stroke="#3c9c43" stroke-width="5" stroke-linecap="round"/>
<line x1="657.8" y1="1142.4" x2="659.3" y2="1133.9" stroke="#3d9d44" stroke-width="5" stroke-linecap="round"/>
<line x1="659.3" y1="1133.9" x2="660.5" y2="1125.7" stroke="#3e9e45" stroke-width="5" stroke-linecap="round"/>
<line x1="660.5" y1="1125.7" x2="659.7" y2="1117.6" stroke="#3e9e45" stroke-width="5" stroke-linecap="round"/>
<line x1="659.7" y1="1117.6" x2="660.5" y2="1110.6" stroke="#3e9e45" stroke-width="5" stroke-linecap="round"/>
<line x1="660.5" y1="1110.6" x2="664.4" y2="1106.7" stroke="#3f9f46" stroke-width="5" stroke-linecap="round"/>
<line x1="664.4" y1="1106.7" x2="667.8" y2="1101.3" stroke="#41a148" stroke-width="5" stroke-linecap="round"/>
<line x1="667.8" y1="1101.3" x2="684.1" y2="1112.2" stroke="#45a54d" stroke-width="5" stroke-linecap="round"/>
<line x1="684.1" y1="1112.2" x2="688" y2="1110.6" stroke="#4aaa53" stroke-width="5" stroke-linecap="round"/>
<line x1="688" y1="1110.6" x2="696.5" y2="1112.2" stroke="#4dad56" stroke-width="5" stroke-linecap="round"/>
<line x1="696.5" y1="1112.2" x2="706.6" y2="1117.6" stroke="#51b15b" stroke-width="5" stroke-linecap="round"/>
<line x1="706.6" y1="1117.6" x2="715.2" y2="1122.3" stroke="#55b460" stroke-width="5" stroke-linecap="round"/>
<line x1="715.2" y1="1122.3" x2="719.8" y2="1124.6" stroke="#59b764" stroke-width="5" stroke-linecap="round"/>
<line x1="719.8" y1="1124.6" x2="726.8" y2="1123" stroke="#5cb968" stroke-width="5" stroke-linecap="round"/>
<line x1="726.8" y1="1123" x2="731.5" y2="1125.4" stroke="#5fbc6b" stroke-width="5" stroke-linecap="round"/>
<line x1="731.5" y1="1125.4" x2="737.7" y2="1127.7" stroke="#61be6e" stroke-width="5" stroke-linecap="round"/>
<line x1="737.7" y1="1127.7" x2="745.4" y2="1127.7" stroke="#65c172" stroke-width="5" stroke-linecap="round"/>
<line x1="745.4" y1="1127.7" x2="750.9" y2="1130.8" stroke="#68c376" stroke-width="5" stroke-linecap="round"/>
<line x1="750.9" y1="1130.8" x2="757.7" y2="1137.7" stroke="#6bc67a" stroke-width="5" stroke-linecap="round"/>
<line x1="757.7" y1="1137.7" x2="771" y2="1145.2" stroke="#75cb84" stroke-width="5" stroke-linecap="round"/>
<line x1="771" y1="1145.2" x2="787.5" y2="1157.6" stroke="#8fd69a" stroke-width="5" stroke-linecap="round"/>
<line x1="787.5" y1="1157.6" x2="810.7" y2="1175.8" stroke="#b0e4b8" stroke-width="5" stroke-linecap="round"/>
<line x1="810.7" y1="1175.8" x2="833.9" y2="1194.1" stroke="#dbf1dd" stroke-width="5" stroke-linecap="round"/>
<line x1="833.9" y1="1194.1" x2="852.2" y2="1207.3" stroke="#f2e7e7" stroke-width="5" stroke-linecap="round"/>
<line x1="852.2" y1="1207.3" x2="881.7" y2="1230.8" stroke="#d6b5b2" stroke-width="5" stroke-linecap="round"/>
<line x1="881.7" y1="1230.8" x2="905.5" y2="1249.9" stroke="#bd9088" stroke-width="5" stroke-linecap="round"/>
<line x1="905.5" y1="1249.9" x2="934.1" y2="1272.1" stroke="#a26a5a" stroke-width="5" stroke-linecap="round"/>
<line x1="934.1" y1="1272.1" x2="945.2" y2="1284.8" stroke="#7a3a1a" stroke-width="5" stroke-linecap="round"/>
<line x1="945.2" y1="1284.8" x2="961.1" y2="1289.5" stroke="#7a3a1a" stroke-width="5" stroke-linecap="round"/>
<line x1="961.1" y1="1289.5" x2="980.1" y2="1289.5" stroke="#7a3a1a" stroke-width="5" stroke-linecap="round"/>
<line x1="980.1" y1="1289.5" x2="986.5" y2="1283.2" stroke="#7a3a1a" stroke-width="5" stroke-linecap="round"/>
<line x1="986.5" y1="1283.2" x2="992.8" y2="1272.1" stroke="#7a3a1a" stroke-width="5" stroke-linecap="round"/>
<line x1="992.8" y1="1272.1" x2="1002.3" y2="1270.5" stroke="#824428" stroke-width="5" stroke-linecap="round"/>
<line x1="1002.3" y1="1270.5" x2="1015" y2="1264.1" stroke="#995f4f" stroke-width="5" stroke-linecap="round"/>
<line x1="1015" y1="1264.1" x2="1021.4" y2="1259.4" stroke="#a66d62" stroke-width="5" stroke-linecap="round"/>
<line x1="1021.4" y1="1259.4" x2="1027.7" y2="1246.7" stroke="#b27c75" stroke-width="5" stroke-linecap="round"/>
<line x1="1027.7" y1="1246.7" x2="1032.5" y2="1230.8" stroke="#be8a86" stroke-width="5" stroke-linecap="round"/>
<line x1="1032.5" y1="1230.8" x2="1038.8" y2="1218.1" stroke="#ca9a9a" stroke-width="5" stroke-linecap="round"/>
<line x1="1038.8" y1="1218.1" x2="1045.2" y2="1212" stroke="#dfc1c1" stroke-width="5" stroke-linecap="round"/>
<line x1="1045.2" y1="1212" x2="1051.5" y2="1199.1" stroke="#d0e1cd" stroke-width="5" stroke-linecap="round"/>
<line x1="1051.5" y1="1199.1" x2="1057.9" y2="1173.7" stroke="#9fdbaa" stroke-width="5" stroke-linecap="round"/>
<line x1="1057.9" y1="1173.7" x2="1062.6" y2="1154.6" stroke="#7cd08c" stroke-width="5" stroke-linecap="round"/>
<line x1="1062.6" y1="1154.6" x2="1065.8" y2="1142" stroke="#73cd84" stroke-width="5" stroke-linecap="round"/>
<line x1="1065.8" y1="1142" x2="1068.5" y2="1136.2" stroke="#6bca7e" stroke-width="5" stroke-linecap="round"/>
<circle cx="654.3" cy="1135.4" r="3.1" fill="#3b9b42"/>
<circle cx="657.8" cy="1142.4" r="3.1" fill="#3d9d44"/>
<circle cx="659.3" cy="1133.9" r="3.1" fill="#3e9e44"/>
<circle cx="660.5" cy="1125.7" r="3.1" fill="#3e9e45"/>
<circle cx="659.7" cy="1117.6" r="3.1" fill="#3e9e45"/>
<circle cx="660.5" cy="1110.6" r="3.1" fill="#3e9e45"/>
<circle cx="664.4" cy="1106.7" r="3.1" fill="#40a047"/>
<circle cx="667.8" cy="1101.3" r="3.1" fill="#42a249"/>
<circle cx="684.1" cy="1112.2" r="3.1" fill="#49a952"/>
<circle cx="688" cy="1110.6" r="3.1" fill="#4bab54"/>
<circle cx="696.5" cy="1112.2" r="3.1" fill="#4eae58"/>
<circle cx="706.6" cy="1117.6" r="3.1" fill="#53b35e"/>
<circle cx="715.2" cy="1122.3" r="3.1" fill="#58b663"/>
<circle cx="719.8" cy="1124.6" r="3.1" fill="#5ab866"/>
<circle cx="726.8" cy="1123" r="3.1" fill="#5dbb6a"/>
<circle cx="731.5" cy="1125.4" r="3.1" fill="#60bd6c"/>
<circle cx="737.7" cy="1127.7" r="3.1" fill="#63bf70"/>
<circle cx="745.4" cy="1127.7" r="3.1" fill="#67c274"/>
<circle cx="750.9" cy="1130.8" r="3.1" fill="#69c478"/>
<circle cx="757.7" cy="1137.7" r="3.1" fill="#6dc77c"/>
<circle cx="986.5" cy="1283.2" r="3.1" fill="#7a3a1a"/>
<circle cx="992.8" cy="1272.1" r="3.1" fill="#7a3a1a"/>
<circle cx="1002.3" cy="1270.5" r="3.1" fill="#915542"/>
<circle cx="1015" cy="1264.1" r="3.1" fill="#a2685c"/>
<circle cx="1021.4" cy="1259.4" r="3.1" fill="#ab746a"/>
<circle cx="1027.7" cy="1246.7" r="3.1" fill="#b8847f"/>
<circle cx="1032.5" cy="1230.8" r="3.1" fill="#c3908e"/>
<circle cx="1038.8" cy="1218.1" r="3.1" fill="#d5adad"/>
<circle cx="1045.2" cy="1212" r="3.1" fill="#e0d2cd"/>
<circle cx="1051.5" cy="1199.1" r="3.1" fill="#bbe4c2"/>
<circle cx="1057.9" cy="1173.7" r="3.1" fill="#83d292"/>
<circle cx="1062.6" cy="1154.6" r="3.1" fill="#77ce87"/>
<circle cx="1065.8" cy="1142" r="3.1" fill="#6fcc81"/>
<circle cx="1068.5" cy="1136.2" r="3.1" fill="#68c97b"/>
<rect x="651.4" y="1093" width="417.4" height="205.20000000000005" fill="none" stroke="#1b2022" stroke-width="3"/>
<text x="642.8" y="1103.6" font-size="12" fill="#4d5559" text-anchor="end">0.1</text>
<line x1="647.4" y1="1099.3" x2="651.4" y2="1099.3" stroke="#222" stroke-width="2.4"/>
<text x="642.8" y="1140.7" font-size="12" fill="#4d5559" text-anchor="end">0.0</text>
<line x1="647.4" y1="1136.4" x2="651.4" y2="1136.4" stroke="#222" stroke-width="2.4"/>
<text x="642.8" y="1177.2" font-size="12" fill="#4d5559" text-anchor="end">−0.1</text>
<line x1="647.4" y1="1172.9" x2="651.4" y2="1172.9" stroke="#222" stroke-width="2.4"/>
<text x="642.8" y="1213.8" font-size="12" fill="#4d5559" text-anchor="end">−0.2</text>
<line x1="647.4" y1="1209.5" x2="651.4" y2="1209.5" stroke="#222" stroke-width="2.4"/>
<text x="642.8" y="1250.6" font-size="12" fill="#4d5559" text-anchor="end">−0.3</text>
<line x1="647.4" y1="1246.3" x2="651.4" y2="1246.3" stroke="#222" stroke-width="2.4"/>
<text x="642.8" y="1287.0" font-size="12" fill="#4d5559" text-anchor="end">−0.4</text>
<line x1="647.4" y1="1282.7" x2="651.4" y2="1282.7" stroke="#222" stroke-width="2.4"/>
<text transform="translate(612,1196) rotate(-90)" font-size="16" fill="#111" text-anchor="middle">Running Enrichment Score</text>
<text x="948.4" y="1125.3" font-size="12.4" fill="#111">NES: −1.52</text>
<text x="948.4" y="1143.9" font-size="12.4" fill="#111">Pvalue: 0.01</text>
<text x="948.4" y="1162.3" font-size="12.4" fill="#111">Ajusted Pvalue: 0.03</text>
<rect x="653" y="1304" width="26.199999999999978" height="20.5" fill="#6ecf86"/>
<rect x="679" y="1304" width="31.3" height="20.5" fill="#8edca0"/>
<rect x="710" y="1304" width="23.699999999999978" height="20.5" fill="#b5ecc2"/>
<rect x="733.4" y="1304" width="22.8" height="20.5" fill="#dff5e6"/>
<rect x="755.9" y="1304" width="59.00000000000004" height="20.5" fill="#ede8e7"/>
<rect x="814.6" y="1304" width="76.99999999999993" height="20.5" fill="#d6c2c1"/>
<rect x="891.3" y="1304" width="92.8" height="20.5" fill="#bc9e9e"/>
<rect x="983.8" y="1304" width="78.40000000000013" height="20.5" fill="#a07d78"/>
<rect x="1061.9" y="1304" width="5.899999999999909" height="20.5" fill="#8f5a48"/>
<rect x="651.4" y="1303.2" width="417.4" height="22.1" rx="1" fill="none" stroke="#1b2022" stroke-width="3.2"/>
<text x="1272.3" y="1077.5" font-size="11.7" fill="#111" text-anchor="middle">Cluster Dendrogram</text>
<line x1="1123.5" y1="1093.5" x2="1123.5" y2="1268.5" stroke="#000" stroke-width="1.6"/>
<line x1="1119.5" y1="1093.5" x2="1123.5" y2="1093.5" stroke="#000" stroke-width="1.6"/>
<text transform="translate(1114.8,1093.5) rotate(-90)" font-size="8" fill="#111" text-anchor="middle">1.0</text>
<line x1="1119.5" y1="1137.25" x2="1123.5" y2="1137.25" stroke="#000" stroke-width="1.6"/>
<text transform="translate(1114.8,1137.25) rotate(-90)" font-size="8" fill="#111" text-anchor="middle">0.9</text>
<line x1="1119.5" y1="1181.0" x2="1123.5" y2="1181.0" stroke="#000" stroke-width="1.6"/>
<text transform="translate(1114.8,1181.0) rotate(-90)" font-size="8" fill="#111" text-anchor="middle">0.8</text>
<line x1="1119.5" y1="1224.75" x2="1123.5" y2="1224.75" stroke="#000" stroke-width="1.6"/>
<text transform="translate(1114.8,1224.75) rotate(-90)" font-size="8" fill="#111" text-anchor="middle">0.7</text>
<line x1="1119.5" y1="1268.5" x2="1123.5" y2="1268.5" stroke="#000" stroke-width="1.6"/>
<text transform="translate(1114.8,1268.5) rotate(-90)" font-size="8" fill="#111" text-anchor="middle">0.6</text>
<text transform="translate(1097.5,1175.2) rotate(-90)" font-size="10.5" fill="#111" text-anchor="middle">Height</text>
<defs><pattern id="dd" x="1140" y="1117.05" width="5.6" height="7.85" patternUnits="userSpaceOnUse"><rect x="0" y="0" width="2" height="2" rx="0.6" fill="#1e2a32"/></pattern></defs>
<path d="M1134.5,1093.1 L1160.5,1094.5 L1190.9,1096.2 L1211.2,1097.2 L1235.6,1099.2 L1262.0,1102.1 L1276.2,1104.7 L1288.4,1108.2 L1296.5,1111.8 L1306.7,1118.5 L1316.8,1127.6 L1327.0,1139.8 L1335.1,1152.0 L1342.2,1164.2 L1348.3,1178.4 L1352.4,1194.7 L1355.0,1215.0 L1356.4,1235.3 L1357.1,1255.6 L1355.0,1243.4 L1352.4,1227.2 L1348.3,1212.9 L1343.2,1202.8 L1339.2,1198.7 L1335.1,1190.6 L1331.1,1182.5 L1327.0,1174.4 L1322.9,1166.2 L1318.9,1158.1 L1314.8,1152.0 L1310.7,1145.9 L1306.7,1152.0 L1302.6,1143.9 L1296.5,1154.0 L1292.5,1145.9 L1286.4,1152.0 L1280.3,1145.9 L1276.2,1154.0 L1272.2,1143.9 L1266.1,1152.0 L1260.0,1145.9 L1253.9,1152.0 L1249.8,1141.9 L1243.7,1150.0 L1237.6,1145.9 L1231.5,1150.0 L1225.5,1141.9 L1219.4,1145.9 L1215.3,1139.8 L1211.2,1133.7 L1207.2,1141.9 L1203.1,1131.7 L1197.0,1137.8 L1190.9,1135.8 L1187.9,1133.7 L1184.8,1131.7 L1181.8,1125.6 L1178.7,1117.5 L1175.7,1109.4 L1172.6,1097.2 L1170.6,1097.2 L1168.6,1113.4 L1164.5,1131.7 L1160.5,1135.8 L1156.4,1145.9 L1154.0,1125.6 L1152.7,1101.2 L1151.9,1125.6 L1150.3,1152.0 L1148.3,1158.1 L1144.2,1152.0 L1140.2,1162.2 L1137.1,1182.5 L1135.1,1182.5 Z" fill="#111"/>
<path d="M1357.5,1113.4 L1363.5,1115.5 L1369.6,1121.6 L1381.8,1122.6 L1385.9,1125.6 L1394.0,1137.8 L1402.1,1150.0 L1409.2,1162.2 L1414.3,1174.4 L1415.9,1190.6 L1416.8,1241.4 L1413.3,1227.2 L1411.3,1206.9 L1408.2,1198.7 L1404.2,1190.6 L1398.1,1182.5 L1394.0,1174.4 L1387.9,1170.3 L1383.9,1166.2 L1381.8,1174.4 L1378.8,1182.5 L1375.7,1176.4 L1371.7,1172.3 L1367.6,1170.3 L1363.5,1166.2 L1359.5,1162.2 L1358.5,1145.9 Z" fill="#111"/>
<path d="M1154.4,1105.3 L1162.5,1125.6 L1163.5,1219.0 L1160.5,1219.0 L1155.4,1145.9 Z" fill="#111"/>
<path d="M1180.8,1129.7 L1189.3,1133.7 L1188.5,1220.1 L1185.2,1220.1 Z" fill="#111"/>
<path d="M1206.2,1131.7 L1211.6,1135.8 L1210.8,1211.9 L1208.2,1211.9 Z" fill="#111"/>
<path d="M1225.5,1139.8 L1231.5,1143.9 L1230.5,1184.5 L1228.5,1184.5 Z" fill="#111"/>
<path d="M1137.1,1125.6 L1144.2,1145.9 L1142.2,1182.5 L1138.1,1182.5 Z" fill="#111"/>
<path d="M1152.3,1096.4 L1160.9,1096.4 L1160.9,1100.4 L1153.4,1101.2 Z" fill="#fff"/>
<path d="M1173.1,1096.8 L1186.9,1096.8 L1186.9,1132.7 L1182.4,1126.6 L1178.3,1111.4 Z" fill="#fff"/>
<path d="M1207.6,1098.4 L1210.0,1098.4 L1209.8,1125.6 L1208.4,1125.6 Z" fill="#fff"/>
<path d="M1217.3,1099.6 L1219.8,1099.6 L1219.0,1103.3 Z" fill="#fff"/>
<path d="M1235.6,1100.8 L1238.9,1100.8 L1237.6,1105.3 Z" fill="#fff"/>
<line x1="1142.2" y1="1145.9" x2="1142.2" y2="1268.8" stroke="#111" stroke-width="1.5"/>
<line x1="1157.4" y1="1145.9" x2="1157.4" y2="1251.5" stroke="#111" stroke-width="1.5"/>
<line x1="1169.6" y1="1125.6" x2="1169.6" y2="1242.4" stroke="#111" stroke-width="1.5"/>
<line x1="1202.1" y1="1135.8" x2="1202.1" y2="1232.2" stroke="#111" stroke-width="1.5"/>
<line x1="1210.2" y1="1135.8" x2="1210.2" y2="1211.9" stroke="#111" stroke-width="1.5"/>
<line x1="1229.5" y1="1145.9" x2="1229.5" y2="1184.5" stroke="#111" stroke-width="1.5"/>
<line x1="1325.0" y1="1156.1" x2="1325.0" y2="1200.8" stroke="#111" stroke-width="1.5"/>
<line x1="1356.4" y1="1206.9" x2="1356.4" y2="1255.6" stroke="#111" stroke-width="1.5"/>
<line x1="1380.8" y1="1145.9" x2="1380.8" y2="1206.9" stroke="#111" stroke-width="1.5"/>
<line x1="1414.3" y1="1186.5" x2="1414.3" y2="1241.4" stroke="#111" stroke-width="1.5"/>
<line x1="1313.8" y1="1145.9" x2="1313.8" y2="1176.4" stroke="#111" stroke-width="1.5"/>
<line x1="1304.7" y1="1145.9" x2="1304.7" y2="1163.2" stroke="#111" stroke-width="1.5"/>
<line x1="1292.5" y1="1145.9" x2="1292.5" y2="1165.2" stroke="#111" stroke-width="1.5"/>
<line x1="1266.1" y1="1141.9" x2="1266.1" y2="1158.1" stroke="#111" stroke-width="1.5"/>
<line x1="1280.3" y1="1143.9" x2="1280.3" y2="1157.1" stroke="#111" stroke-width="1.5"/>
<line x1="1251.9" y1="1143.9" x2="1251.9" y2="1154.0" stroke="#111" stroke-width="1.5"/>
<line x1="1241.7" y1="1143.9" x2="1241.7" y2="1153.0" stroke="#111" stroke-width="1.5"/>
<line x1="1343.2" y1="1176.4" x2="1343.2" y2="1208.9" stroke="#111" stroke-width="1.5"/>
<line x1="1338.2" y1="1170.3" x2="1338.2" y2="1202.8" stroke="#111" stroke-width="1.5"/>
<line x1="1369.6" y1="1156.1" x2="1369.6" y2="1184.5" stroke="#111" stroke-width="1.5"/>
<line x1="1387.9" y1="1162.2" x2="1387.9" y2="1194.7" stroke="#111" stroke-width="1.5"/>
<line x1="1396.0" y1="1170.3" x2="1396.0" y2="1196.7" stroke="#111" stroke-width="1.5"/>
<line x1="1406.2" y1="1176.4" x2="1406.2" y2="1212.9" stroke="#111" stroke-width="1.5"/>
<line x1="1220.4" y1="1137.8" x2="1220.4" y2="1163.2" stroke="#111" stroke-width="1.5"/>
<line x1="1195.0" y1="1133.7" x2="1195.0" y2="1145.9" stroke="#111" stroke-width="1.5"/>
<line x1="1166.6" y1="1115.5" x2="1166.6" y2="1138.8" stroke="#111" stroke-width="1.5"/>
<line x1="1172.6" y1="1125.6" x2="1172.6" y2="1141.9" stroke="#111" stroke-width="1.5"/>
<line x1="1149.3" y1="1135.8" x2="1149.3" y2="1156.1" stroke="#111" stroke-width="1.5"/>
<line x1="1135.7" y1="1179.4" x2="1135.7" y2="1194.7" stroke="#222" stroke-width="0.9"/>
<line x1="1138.3" y1="1171.4" x2="1138.3" y2="1186.6" stroke="#222" stroke-width="0.9"/>
<line x1="1140.3" y1="1158.9" x2="1140.3" y2="1167.0" stroke="#222" stroke-width="0.9"/>
<line x1="1141.8" y1="1155.1" x2="1141.8" y2="1174.3" stroke="#222" stroke-width="0.9"/>
<line x1="1143.8" y1="1150.1" x2="1143.8" y2="1157.2" stroke="#222" stroke-width="0.9"/>
<line x1="1145.1" y1="1150.4" x2="1145.1" y2="1159.5" stroke="#222" stroke-width="0.9"/>
<line x1="1146.6" y1="1152.5" x2="1146.6" y2="1171.8" stroke="#222" stroke-width="0.9"/>
<line x1="1149.1" y1="1152.5" x2="1149.1" y2="1157.6" stroke="#222" stroke-width="0.9"/>
<line x1="1151.3" y1="1148.0" x2="1151.3" y2="1161.2" stroke="#222" stroke-width="0.9"/>
<line x1="1154.1" y1="1145.2" x2="1154.1" y2="1152.3" stroke="#222" stroke-width="0.9"/>
<line x1="1156.3" y1="1142.9" x2="1156.3" y2="1162.2" stroke="#222" stroke-width="0.9"/>
<line x1="1157.7" y1="1139.8" x2="1157.7" y2="1144.8" stroke="#222" stroke-width="0.9"/>
<line x1="1159.2" y1="1135.9" x2="1159.2" y2="1144.1" stroke="#222" stroke-width="0.9"/>
<line x1="1161.4" y1="1131.8" x2="1161.4" y2="1147.0" stroke="#222" stroke-width="0.9"/>
<line x1="1163.1" y1="1130.1" x2="1163.1" y2="1138.2" stroke="#222" stroke-width="0.9"/>
<line x1="1165.2" y1="1125.7" x2="1165.2" y2="1134.8" stroke="#222" stroke-width="0.9"/>
<line x1="1167.2" y1="1116.6" x2="1167.2" y2="1122.7" stroke="#222" stroke-width="0.9"/>
<line x1="1169.2" y1="1110.9" x2="1169.2" y2="1120.1" stroke="#222" stroke-width="0.9"/>
<line x1="1171.1" y1="1112.7" x2="1171.1" y2="1132.0" stroke="#222" stroke-width="0.9"/>
<line x1="1173.9" y1="1115.3" x2="1173.9" y2="1121.4" stroke="#222" stroke-width="0.9"/>
<line x1="1176.3" y1="1117.5" x2="1176.3" y2="1128.6" stroke="#222" stroke-width="0.9"/>
<line x1="1178.7" y1="1119.7" x2="1178.7" y2="1139.0" stroke="#222" stroke-width="0.9"/>
<line x1="1180.4" y1="1121.3" x2="1180.4" y2="1127.4" stroke="#222" stroke-width="0.9"/>
<line x1="1182.5" y1="1124.1" x2="1182.5" y2="1130.2" stroke="#222" stroke-width="0.9"/>
<line x1="1184.4" y1="1127.8" x2="1184.4" y2="1136.9" stroke="#222" stroke-width="0.9"/>
<line x1="1186.2" y1="1129.6" x2="1186.2" y2="1134.7" stroke="#222" stroke-width="0.9"/>
<line x1="1188.8" y1="1131.3" x2="1188.8" y2="1136.4" stroke="#222" stroke-width="0.9"/>
<line x1="1190.4" y1="1132.4" x2="1190.4" y2="1137.5" stroke="#222" stroke-width="0.9"/>
<line x1="1192.4" y1="1133.2" x2="1192.4" y2="1146.4" stroke="#222" stroke-width="0.9"/>
<line x1="1194.3" y1="1133.8" x2="1194.3" y2="1142.0" stroke="#222" stroke-width="0.9"/>
<line x1="1196.8" y1="1134.7" x2="1196.8" y2="1143.8" stroke="#222" stroke-width="0.9"/>
<line x1="1198.5" y1="1133.2" x2="1198.5" y2="1142.4" stroke="#222" stroke-width="0.9"/>
<line x1="1200.3" y1="1131.5" x2="1200.3" y2="1144.7" stroke="#222" stroke-width="0.9"/>
<line x1="1202.7" y1="1129.0" x2="1202.7" y2="1135.1" stroke="#222" stroke-width="0.9"/>
<line x1="1204.2" y1="1131.3" x2="1204.2" y2="1137.4" stroke="#222" stroke-width="0.9"/>
<line x1="1205.4" y1="1134.4" x2="1205.4" y2="1149.7" stroke="#222" stroke-width="0.9"/>
<line x1="1207.9" y1="1137.3" x2="1207.9" y2="1144.4" stroke="#222" stroke-width="0.9"/>
<line x1="1210.3" y1="1132.6" x2="1210.3" y2="1140.8" stroke="#222" stroke-width="0.9"/>
<line x1="1212.2" y1="1132.2" x2="1212.2" y2="1140.3" stroke="#222" stroke-width="0.9"/>
<line x1="1215.0" y1="1136.4" x2="1215.0" y2="1143.5" stroke="#222" stroke-width="0.9"/>
<line x1="1216.9" y1="1139.2" x2="1216.9" y2="1152.4" stroke="#222" stroke-width="0.9"/>
<line x1="1218.3" y1="1141.3" x2="1218.3" y2="1154.5" stroke="#222" stroke-width="0.9"/>
<line x1="1221.2" y1="1141.7" x2="1221.2" y2="1146.8" stroke="#222" stroke-width="0.9"/>
<line x1="1222.8" y1="1140.6" x2="1222.8" y2="1149.7" stroke="#222" stroke-width="0.9"/>
<line x1="1225.7" y1="1139.1" x2="1225.7" y2="1144.2" stroke="#222" stroke-width="0.9"/>
<line x1="1227.2" y1="1141.2" x2="1227.2" y2="1154.4" stroke="#222" stroke-width="0.9"/>
<line x1="1230.1" y1="1145.0" x2="1230.1" y2="1151.0" stroke="#222" stroke-width="0.9"/>
<line x1="1231.3" y1="1146.7" x2="1231.3" y2="1153.8" stroke="#222" stroke-width="0.9"/>
<line x1="1232.9" y1="1146.0" x2="1232.9" y2="1155.2" stroke="#222" stroke-width="0.9"/>
<line x1="1234.1" y1="1145.2" x2="1234.1" y2="1156.4" stroke="#222" stroke-width="0.9"/>
<line x1="1236.7" y1="1143.5" x2="1236.7" y2="1156.7" stroke="#222" stroke-width="0.9"/>
<line x1="1238.0" y1="1143.2" x2="1238.0" y2="1149.2" stroke="#222" stroke-width="0.9"/>
<line x1="1239.6" y1="1144.2" x2="1239.6" y2="1152.3" stroke="#222" stroke-width="0.9"/>
<line x1="1240.8" y1="1145.0" x2="1240.8" y2="1156.2" stroke="#222" stroke-width="0.9"/>
<line x1="1242.7" y1="1146.2" x2="1242.7" y2="1161.5" stroke="#222" stroke-width="0.9"/>
<line x1="1244.1" y1="1146.5" x2="1244.1" y2="1161.7" stroke="#222" stroke-width="0.9"/>
<line x1="1246.7" y1="1143.0" x2="1246.7" y2="1150.1" stroke="#222" stroke-width="0.9"/>
<line x1="1249.3" y1="1139.5" x2="1249.3" y2="1146.6" stroke="#222" stroke-width="0.9"/>
<line x1="1251.5" y1="1143.1" x2="1251.5" y2="1152.2" stroke="#222" stroke-width="0.9"/>
<line x1="1254.2" y1="1148.6" x2="1254.2" y2="1156.8" stroke="#222" stroke-width="0.9"/>
<line x1="1256.6" y1="1146.2" x2="1256.6" y2="1153.3" stroke="#222" stroke-width="0.9"/>
<line x1="1259.0" y1="1143.8" x2="1259.0" y2="1163.1" stroke="#222" stroke-width="0.9"/>
<line x1="1260.6" y1="1143.5" x2="1260.6" y2="1156.7" stroke="#222" stroke-width="0.9"/>
<line x1="1263.2" y1="1146.1" x2="1263.2" y2="1152.2" stroke="#222" stroke-width="0.9"/>
<line x1="1265.1" y1="1148.0" x2="1265.1" y2="1154.1" stroke="#222" stroke-width="0.9"/>
<line x1="1266.5" y1="1148.4" x2="1266.5" y2="1167.6" stroke="#222" stroke-width="0.9"/>
<line x1="1269.3" y1="1144.6" x2="1269.3" y2="1152.8" stroke="#222" stroke-width="0.9"/>
<line x1="1271.7" y1="1141.4" x2="1271.7" y2="1154.6" stroke="#222" stroke-width="0.9"/>
<line x1="1273.4" y1="1143.9" x2="1273.4" y2="1159.1" stroke="#222" stroke-width="0.9"/>
<line x1="1275.1" y1="1148.1" x2="1275.1" y2="1155.2" stroke="#222" stroke-width="0.9"/>
<line x1="1277.8" y1="1147.9" x2="1277.8" y2="1154.0" stroke="#222" stroke-width="0.9"/>
<line x1="1279.2" y1="1145.0" x2="1279.2" y2="1160.2" stroke="#222" stroke-width="0.9"/>
<line x1="1281.3" y1="1143.9" x2="1281.3" y2="1150.0" stroke="#222" stroke-width="0.9"/>
<line x1="1283.0" y1="1145.6" x2="1283.0" y2="1153.7" stroke="#222" stroke-width="0.9"/>
<line x1="1285.5" y1="1148.0" x2="1285.5" y2="1154.1" stroke="#222" stroke-width="0.9"/>
<line x1="1287.1" y1="1148.2" x2="1287.1" y2="1163.5" stroke="#222" stroke-width="0.9"/>
<line x1="1288.7" y1="1146.6" x2="1288.7" y2="1151.7" stroke="#222" stroke-width="0.9"/>
<line x1="1290.2" y1="1145.1" x2="1290.2" y2="1156.3" stroke="#222" stroke-width="0.9"/>
<line x1="1292.3" y1="1143.0" x2="1292.3" y2="1150.1" stroke="#222" stroke-width="0.9"/>
<line x1="1293.7" y1="1145.3" x2="1293.7" y2="1152.4" stroke="#222" stroke-width="0.9"/>
<line x1="1296.4" y1="1150.6" x2="1296.4" y2="1161.8" stroke="#222" stroke-width="0.9"/>
<line x1="1298.6" y1="1147.5" x2="1298.6" y2="1166.8" stroke="#222" stroke-width="0.9"/>
<line x1="1300.8" y1="1143.9" x2="1300.8" y2="1151.0" stroke="#222" stroke-width="0.9"/>
<line x1="1303.0" y1="1141.6" x2="1303.0" y2="1146.6" stroke="#222" stroke-width="0.9"/>
<line x1="1305.0" y1="1145.5" x2="1305.0" y2="1156.7" stroke="#222" stroke-width="0.9"/>
<line x1="1307.3" y1="1148.0" x2="1307.3" y2="1153.1" stroke="#222" stroke-width="0.9"/>
<line x1="1308.6" y1="1146.1" x2="1308.6" y2="1152.2" stroke="#222" stroke-width="0.9"/>
<line x1="1310.6" y1="1143.1" x2="1310.6" y2="1152.3" stroke="#222" stroke-width="0.9"/>
<line x1="1312.3" y1="1145.2" x2="1312.3" y2="1151.3" stroke="#222" stroke-width="0.9"/>
<line x1="1313.7" y1="1147.3" x2="1313.7" y2="1166.5" stroke="#222" stroke-width="0.9"/>
<line x1="1315.5" y1="1150.0" x2="1315.5" y2="1155.1" stroke="#222" stroke-width="0.9"/>
<line x1="1318.2" y1="1154.0" x2="1318.2" y2="1161.1" stroke="#222" stroke-width="0.9"/>
<line x1="1320.7" y1="1158.7" x2="1320.7" y2="1169.8" stroke="#222" stroke-width="0.9"/>
<line x1="1322.5" y1="1162.2" x2="1322.5" y2="1177.5" stroke="#222" stroke-width="0.9"/>
<line x1="1325.1" y1="1167.6" x2="1325.1" y2="1180.8" stroke="#222" stroke-width="0.9"/>
<line x1="1327.9" y1="1173.1" x2="1327.9" y2="1178.2" stroke="#222" stroke-width="0.9"/>
<line x1="1330.5" y1="1178.4" x2="1330.5" y2="1183.4" stroke="#222" stroke-width="0.9"/>
<line x1="1332.7" y1="1182.8" x2="1332.7" y2="1196.0" stroke="#222" stroke-width="0.9"/>
<line x1="1334.6" y1="1186.5" x2="1334.6" y2="1191.6" stroke="#222" stroke-width="0.9"/>
<line x1="1336.8" y1="1190.9" x2="1336.8" y2="1197.0" stroke="#222" stroke-width="0.9"/>
<line x1="1338.2" y1="1193.6" x2="1338.2" y2="1199.7" stroke="#222" stroke-width="0.9"/>
<line x1="1341.0" y1="1197.5" x2="1341.0" y2="1210.7" stroke="#222" stroke-width="0.9"/>
<line x1="1343.4" y1="1200.0" x2="1343.4" y2="1213.2" stroke="#222" stroke-width="0.9"/>
<line x1="1346.1" y1="1205.5" x2="1346.1" y2="1220.7" stroke="#222" stroke-width="0.9"/>
<line x1="1348.1" y1="1209.4" x2="1348.1" y2="1228.7" stroke="#222" stroke-width="0.9"/>
<line x1="1349.4" y1="1213.7" x2="1349.4" y2="1233.0" stroke="#222" stroke-width="0.9"/>
<line x1="1350.7" y1="1218.2" x2="1350.7" y2="1224.3" stroke="#222" stroke-width="0.9"/>
<line x1="1352.7" y1="1226.0" x2="1352.7" y2="1234.1" stroke="#222" stroke-width="0.9"/>
<line x1="1358.5" y1="1139.8" x2="1358.5" y2="1150.0" stroke="#222" stroke-width="0.9"/>
<line x1="1360.3" y1="1141.5" x2="1360.3" y2="1163.8" stroke="#222" stroke-width="0.9"/>
<line x1="1362.1" y1="1143.1" x2="1362.1" y2="1169.5" stroke="#222" stroke-width="0.9"/>
<line x1="1364.0" y1="1144.8" x2="1364.0" y2="1167.1" stroke="#222" stroke-width="0.9"/>
<line x1="1365.8" y1="1146.4" x2="1365.8" y2="1164.7" stroke="#222" stroke-width="0.9"/>
<line x1="1367.6" y1="1148.1" x2="1367.6" y2="1158.2" stroke="#222" stroke-width="0.9"/>
<line x1="1369.4" y1="1149.7" x2="1369.4" y2="1168.0" stroke="#222" stroke-width="0.9"/>
<line x1="1371.3" y1="1151.3" x2="1371.3" y2="1169.6" stroke="#222" stroke-width="0.9"/>
<line x1="1373.1" y1="1153.0" x2="1373.1" y2="1167.2" stroke="#222" stroke-width="0.9"/>
<line x1="1374.9" y1="1154.6" x2="1374.9" y2="1181.0" stroke="#222" stroke-width="0.9"/>
<line x1="1376.8" y1="1156.3" x2="1376.8" y2="1170.5" stroke="#222" stroke-width="0.9"/>
<line x1="1378.6" y1="1157.9" x2="1378.6" y2="1184.3" stroke="#222" stroke-width="0.9"/>
<line x1="1380.4" y1="1159.6" x2="1380.4" y2="1173.8" stroke="#222" stroke-width="0.9"/>
<line x1="1382.2" y1="1161.2" x2="1382.2" y2="1179.5" stroke="#222" stroke-width="0.9"/>
<line x1="1384.1" y1="1162.9" x2="1384.1" y2="1185.2" stroke="#222" stroke-width="0.9"/>
<line x1="1385.9" y1="1164.5" x2="1385.9" y2="1186.8" stroke="#222" stroke-width="0.9"/>
<line x1="1387.7" y1="1166.2" x2="1387.7" y2="1180.4" stroke="#222" stroke-width="0.9"/>
<line x1="1389.5" y1="1167.8" x2="1389.5" y2="1186.1" stroke="#222" stroke-width="0.9"/>
<line x1="1391.4" y1="1169.4" x2="1391.4" y2="1191.8" stroke="#222" stroke-width="0.9"/>
<line x1="1393.2" y1="1171.1" x2="1393.2" y2="1189.4" stroke="#222" stroke-width="0.9"/>
<line x1="1395.0" y1="1172.7" x2="1395.0" y2="1186.9" stroke="#222" stroke-width="0.9"/>
<line x1="1396.9" y1="1174.4" x2="1396.9" y2="1196.7" stroke="#222" stroke-width="0.9"/>
<line x1="1398.7" y1="1176.0" x2="1398.7" y2="1190.2" stroke="#222" stroke-width="0.9"/>
<line x1="1400.5" y1="1177.7" x2="1400.5" y2="1191.9" stroke="#222" stroke-width="0.9"/>
<line x1="1402.3" y1="1179.3" x2="1402.3" y2="1201.7" stroke="#222" stroke-width="0.9"/>
<line x1="1404.2" y1="1181.0" x2="1404.2" y2="1195.2" stroke="#222" stroke-width="0.9"/>
<line x1="1406.0" y1="1182.6" x2="1406.0" y2="1209.0" stroke="#222" stroke-width="0.9"/>
<line x1="1407.8" y1="1184.2" x2="1407.8" y2="1202.5" stroke="#222" stroke-width="0.9"/>
<line x1="1409.7" y1="1185.9" x2="1409.7" y2="1200.1" stroke="#222" stroke-width="0.9"/>
<line x1="1411.5" y1="1187.5" x2="1411.5" y2="1201.8" stroke="#222" stroke-width="0.9"/>
<line x1="1413.3" y1="1189.2" x2="1413.3" y2="1203.4" stroke="#222" stroke-width="0.9"/>
<line x1="1415.1" y1="1190.8" x2="1415.1" y2="1213.2" stroke="#222" stroke-width="0.9"/>
<line x1="1296.5" y1="1112.4" x2="1357.9" y2="1112.4" stroke="#111" stroke-width="1.6"/>
<line x1="1357.9" y1="1112.4" x2="1357.9" y2="1170.3" stroke="#111" stroke-width="1.6"/>
<line x1="1371.7" y1="1122.6" x2="1382.2" y2="1122.6" stroke="#111" stroke-width="1.6"/>
<line x1="1346.3" y1="1180.9" x2="1356.4" y2="1180.9" stroke="#111" stroke-width="1.6"/>
<line x1="1356.4" y1="1180.9" x2="1356.4" y2="1219.0" stroke="#111" stroke-width="1.6"/>
<line x1="1410.3" y1="1168.3" x2="1416.4" y2="1168.3" stroke="#111" stroke-width="1.6"/>
<line x1="1416.4" y1="1168.3" x2="1416.4" y2="1190.6" stroke="#111" stroke-width="1.6"/>
<line x1="1160.5" y1="1096.8" x2="1160.5" y2="1100.8" stroke="#111" stroke-width="1.6"/>
<line x1="1152.3" y1="1100.8" x2="1160.9" y2="1100.8" stroke="#111" stroke-width="1.6"/>
<rect x="1140" y="1117" width="278" height="160" fill="url(#dd)" opacity="0.85"/>
<rect x="1134.3" y="1282.5" width="4.6" height="43.5" fill="#3cc0a0"/>
<rect x="1138.7" y="1282.5" width="2.7" height="43.5" fill="#a0e060"/>
<rect x="1141.2" y="1282.5" width="2.7" height="43.5" fill="#2040e0"/>
<rect x="1143.6" y="1282.5" width="5.1" height="43.5" fill="#4ab8c8"/>
<rect x="1148.5" y="1282.5" width="3.9" height="43.5" fill="#40a8e0"/>
<rect x="1152.2" y="1282.5" width="9.3" height="43.5" fill="#f0f040"/>
<rect x="1161.3" y="1282.5" width="7.1" height="43.5" fill="#58c8b8"/>
<rect x="1168.2" y="1282.5" width="2.7" height="43.5" fill="#3858d8"/>
<rect x="1170.6" y="1282.5" width="2.7" height="43.5" fill="#6080d0"/>
<rect x="1173.1" y="1282.5" width="2.7" height="43.5" fill="#8b1818"/>
<rect x="1175.5" y="1282.5" width="2.7" height="43.5" fill="#5060c8"/>
<rect x="1178.0" y="1282.5" width="8.8" height="43.5" fill="#8b1010"/>
<rect x="1186.6" y="1282.5" width="6.3" height="43.5" fill="#40a0d8"/>
<rect x="1192.7" y="1282.5" width="5.1" height="43.5" fill="#50c8b0"/>
<rect x="1197.6" y="1282.5" width="7.6" height="43.5" fill="#3a9ad8"/>
<rect x="1205.0" y="1282.5" width="4.6" height="43.5" fill="#f0f040"/>
<rect x="1209.4" y="1282.5" width="4.4" height="43.5" fill="#80d8a8"/>
<rect x="1213.6" y="1282.5" width="16.2" height="43.5" fill="#60e8a8"/>
<rect x="1229.5" y="1282.5" width="2.2" height="43.5" fill="#a0e840"/>
<rect x="1231.5" y="1282.5" width="8.1" height="43.5" fill="#1a40e0"/>
<rect x="1239.3" y="1282.5" width="5.1" height="43.5" fill="#40a8d8"/>
<rect x="1244.2" y="1282.5" width="3.9" height="43.5" fill="#50d0b0"/>
<rect x="1247.9" y="1282.5" width="5.1" height="43.5" fill="#3a90e0"/>
<rect x="1252.8" y="1282.5" width="3.9" height="43.5" fill="#58c8c0"/>
<rect x="1256.5" y="1282.5" width="7.6" height="43.5" fill="#48b0d8"/>
<rect x="1263.9" y="1282.5" width="2.7" height="43.5" fill="#1a40e0"/>
<rect x="1266.3" y="1282.5" width="7.6" height="43.5" fill="#50c0c0"/>
<rect x="1273.7" y="1282.5" width="7.6" height="43.5" fill="#40a8d8"/>
<rect x="1281.0" y="1282.5" width="10.0" height="43.5" fill="#58c8b8"/>
<rect x="1290.9" y="1282.5" width="1.4" height="43.5" fill="#8b1818"/>
<rect x="1292.1" y="1282.5" width="21.1" height="43.5" fill="#62e8aa"/>
<rect x="1312.9" y="1282.5" width="1.7" height="43.5" fill="#1a40e0"/>
<rect x="1314.4" y="1282.5" width="8.5" height="43.5" fill="#62e8aa"/>
<rect x="1322.8" y="1282.5" width="2.2" height="43.5" fill="#8b1818"/>
<rect x="1324.7" y="1282.5" width="32.6" height="43.5" fill="#62e8aa"/>
<rect x="1357.1" y="1282.5" width="3.9" height="43.5" fill="#2a60e0"/>
<rect x="1360.8" y="1282.5" width="3.9" height="43.5" fill="#48a8e0"/>
<rect x="1364.5" y="1282.5" width="16.2" height="43.5" fill="#1a40e0"/>
<rect x="1380.4" y="1282.5" width="6.3" height="43.5" fill="#40a8d8"/>
<rect x="1386.6" y="1282.5" width="5.1" height="43.5" fill="#58c8c0"/>
<rect x="1391.5" y="1282.5" width="5.1" height="43.5" fill="#40a0d8"/>
<rect x="1396.4" y="1282.5" width="3.9" height="43.5" fill="#60e0a8"/>
<rect x="1400.1" y="1282.5" width="18.6" height="43.5" fill="#1a40e0"/>
<rect x="1416.6" y="1280" width="2" height="48" fill="#fff"/>
<line x1="1134.3" y1="1282" x2="1416.6" y2="1282" stroke="#000" stroke-width="1.8"/>
<line x1="1134.3" y1="1326.4" x2="1416.6" y2="1326.4" stroke="#000" stroke-width="1.8"/>
<text x="1131.3" y="1305.8" font-size="7.3" fill="#111" text-anchor="end">Module colors</text>
<rect x="72.7" y="1442.6" width="533.4" height="344.8000000000002" rx="30" fill="none" stroke="#6ef00e" stroke-width="2.6"/>
<rect x="82.8" y="1449.2" width="509.7" height="71.1" rx="25.5" fill="#b0bbf5"/>
<text x="97.5" y="1470.8" font-size="16.5" fill="#111">PDPK1</text>
<text x="241.5" y="1471.5" font-size="17" fill="#111">5'</text>
<text x="273.5" y="1471.5" font-size="17" fill="#111">...ACCCAACCACACAAA<tspan fill="#e4222a" font-size="19">GAACAAA</tspan>A...</text>
<text x="97.5" y="1513" font-size="17" fill="#111">hsa-miR-375</text>
<text x="245" y="1513" font-size="17" fill="#111">3'</text>
<text x="275" y="1513" font-size="17" fill="#111">AGUGCGCUCGGCUUG<tspan fill="#e4222a" font-size="19">CUUGUUU</tspan></text>
<line x1="468.5" y1="1477" x2="468.5" y2="1491" stroke="#111" stroke-width="1.3"/>
<line x1="482.1" y1="1477" x2="482.1" y2="1491" stroke="#111" stroke-width="1.3"/>
<line x1="495.7" y1="1477" x2="495.7" y2="1491" stroke="#111" stroke-width="1.3"/>
<line x1="509.3" y1="1477" x2="509.3" y2="1491" stroke="#111" stroke-width="1.3"/>
<line x1="522.9" y1="1477" x2="522.9" y2="1491" stroke="#111" stroke-width="1.3"/>
<line x1="536.5" y1="1477" x2="536.5" y2="1491" stroke="#111" stroke-width="1.3"/>
<line x1="550.1" y1="1477" x2="550.1" y2="1491" stroke="#111" stroke-width="1.3"/>
<rect x="627.2" y="1444.7" width="698.5" height="342.5999999999999" rx="30" fill="none" stroke="#6ef00e" stroke-width="2.6"/>
<circle cx="806" cy="1619.6" r="26" fill="none" stroke="#b5c4c4" stroke-width="3.6" stroke-dasharray="9 21.5" stroke-dashoffset="-8" stroke-linecap="round"/>
<circle cx="806" cy="1619.6" r="52" fill="none" stroke="#b5c4c4" stroke-width="3.6" stroke-dasharray="9 21.5" stroke-dashoffset="-8" stroke-linecap="round"/>
<circle cx="806" cy="1619.6" r="78" fill="none" stroke="#b5c4c4" stroke-width="3.6" stroke-dasharray="9 21.5" stroke-dashoffset="-8" stroke-linecap="round"/>
<circle cx="806" cy="1619.6" r="104" fill="none" stroke="#b5c4c4" stroke-width="3.6" stroke-dasharray="9 21.5" stroke-dashoffset="-8" stroke-linecap="round"/>
<circle cx="806" cy="1619.6" r="130" fill="none" stroke="#b5c4c4" stroke-width="3.6" stroke-dasharray="9 21.5" stroke-dashoffset="-8" stroke-linecap="round"/>
<line x1="806.0" y1="1619.6" x2="806.0" y2="1488.6" stroke="#b5c4c4" stroke-width="3.6" stroke-dasharray="9 21.5" stroke-dashoffset="1.5" stroke-linecap="round"/>
<line x1="806.0" y1="1619.6" x2="839.9" y2="1493.1" stroke="#b5c4c4" stroke-width="3.6" stroke-dasharray="9 21.5" stroke-dashoffset="1.5" stroke-linecap="round"/>
<line x1="806.0" y1="1619.6" x2="871.5" y2="1506.2" stroke="#b5c4c4" stroke-width="3.6" stroke-dasharray="9 21.5" stroke-dashoffset="1.5" stroke-linecap="round"/>
<line x1="806.0" y1="1619.6" x2="898.6" y2="1527.0" stroke="#b5c4c4" stroke-width="3.6" stroke-dasharray="9 21.5" stroke-dashoffset="1.5" stroke-linecap="round"/>
<line x1="806.0" y1="1619.6" x2="919.4" y2="1554.1" stroke="#b5c4c4" stroke-width="3.6" stroke-dasharray="9 21.5" stroke-dashoffset="1.5" stroke-linecap="round"/>
<line x1="806.0" y1="1619.6" x2="932.5" y2="1585.7" stroke="#b5c4c4" stroke-width="3.6" stroke-dasharray="9 21.5" stroke-dashoffset="1.5" stroke-linecap="round"/>
<line x1="806.0" y1="1619.6" x2="937.0" y2="1619.6" stroke="#b5c4c4" stroke-width="3.6" stroke-dasharray="9 21.5" stroke-dashoffset="1.5" stroke-linecap="round"/>
<line x1="806.0" y1="1619.6" x2="932.5" y2="1653.5" stroke="#b5c4c4" stroke-width="3.6" stroke-dasharray="9 21.5" stroke-dashoffset="1.5" stroke-linecap="round"/>
<line x1="806.0" y1="1619.6" x2="919.4" y2="1685.1" stroke="#b5c4c4" stroke-width="3.6" stroke-dasharray="9 21.5" stroke-dashoffset="1.5" stroke-linecap="round"/>
<line x1="806.0" y1="1619.6" x2="898.6" y2="1712.2" stroke="#b5c4c4" stroke-width="3.6" stroke-dasharray="9 21.5" stroke-dashoffset="1.5" stroke-linecap="round"/>
<line x1="806.0" y1="1619.6" x2="871.5" y2="1733.0" stroke="#b5c4c4" stroke-width="3.6" stroke-dasharray="9 21.5" stroke-dashoffset="1.5" stroke-linecap="round"/>
<line x1="806.0" y1="1619.6" x2="839.9" y2="1746.1" stroke="#b5c4c4" stroke-width="3.6" stroke-dasharray="9 21.5" stroke-dashoffset="1.5" stroke-linecap="round"/>
<line x1="806.0" y1="1619.6" x2="806.0" y2="1750.6" stroke="#b5c4c4" stroke-width="3.6" stroke-dasharray="9 21.5" stroke-dashoffset="1.5" stroke-linecap="round"/>
<line x1="806.0" y1="1619.6" x2="772.1" y2="1746.1" stroke="#b5c4c4" stroke-width="3.6" stroke-dasharray="9 21.5" stroke-dashoffset="1.5" stroke-linecap="round"/>
<line x1="806.0" y1="1619.6" x2="740.5" y2="1733.0" stroke="#b5c4c4" stroke-width="3.6" stroke-dasharray="9 21.5" stroke-dashoffset="1.5" stroke-linecap="round"/>
<line x1="806.0" y1="1619.6" x2="713.4" y2="1712.2" stroke="#b5c4c4" stroke-width="3.6" stroke-dasharray="9 21.5" stroke-dashoffset="1.5" stroke-linecap="round"/>
<line x1="806.0" y1="1619.6" x2="692.6" y2="1685.1" stroke="#b5c4c4" stroke-width="3.6" stroke-dasharray="9 21.5" stroke-dashoffset="1.5" stroke-linecap="round"/>
<line x1="806.0" y1="1619.6" x2="679.5" y2="1653.5" stroke="#b5c4c4" stroke-width="3.6" stroke-dasharray="9 21.5" stroke-dashoffset="1.5" stroke-linecap="round"/>
<line x1="806.0" y1="1619.6" x2="675.0" y2="1619.6" stroke="#b5c4c4" stroke-width="3.6" stroke-dasharray="9 21.5" stroke-dashoffset="1.5" stroke-linecap="round"/>
<line x1="806.0" y1="1619.6" x2="679.5" y2="1585.7" stroke="#b5c4c4" stroke-width="3.6" stroke-dasharray="9 21.5" stroke-dashoffset="1.5" stroke-linecap="round"/>
<line x1="806.0" y1="1619.6" x2="692.6" y2="1554.1" stroke="#b5c4c4" stroke-width="3.6" stroke-dasharray="9 21.5" stroke-dashoffset="1.5" stroke-linecap="round"/>
<line x1="806.0" y1="1619.6" x2="713.4" y2="1527.0" stroke="#b5c4c4" stroke-width="3.6" stroke-dasharray="9 21.5" stroke-dashoffset="1.5" stroke-linecap="round"/>
<line x1="806.0" y1="1619.6" x2="740.5" y2="1506.2" stroke="#b5c4c4" stroke-width="3.6" stroke-dasharray="9 21.5" stroke-dashoffset="1.5" stroke-linecap="round"/>
<line x1="806.0" y1="1619.6" x2="772.1" y2="1493.1" stroke="#b5c4c4" stroke-width="3.6" stroke-dasharray="9 21.5" stroke-dashoffset="1.5" stroke-linecap="round"/>
<circle cx="806" cy="1619.6" r="20" fill="#fff"/>
<polygon points="806.0,1580.0 823.8,1553.0 837.4,1565.2 844.7,1580.9 853.6,1592.1 857.8,1605.7 878.4,1619.6 846.3,1630.4 867.3,1655.0 845.0,1658.6 820.5,1644.7 814.3,1650.5 806.0,1652.6 797.8,1650.2 781.7,1661.7 770.8,1654.8 763.5,1644.1 764.1,1630.8 766.0,1619.6 729.6,1599.1 755.5,1590.4 784.1,1597.7 779.2,1573.3 794.7,1577.3" fill="none" stroke="#e4300e" stroke-width="4.2" stroke-linejoin="miter"/>
<text x="801" y="1490" font-size="7" fill="#111" text-anchor="middle">1</text>
<text x="801" y="1515" font-size="7" fill="#111" text-anchor="middle">0.5</text>
<text x="801" y="1542.5" font-size="7" fill="#111" text-anchor="middle">0</text>
<text x="801" y="1568" font-size="7" fill="#111" text-anchor="middle">−0.5</text>
<text x="801" y="1593" font-size="7" fill="#111" text-anchor="middle">−1</text>
<text x="802.7" y="1465.9" font-size="7.5" fill="#111" text-anchor="middle">aDC</text>
<text x="843.7" y="1470.9" font-size="7.5" fill="#111" text-anchor="middle">TReg</text>
<text x="883.1" y="1487.1000000000001" font-size="7.5" fill="#111" text-anchor="middle">Th2 cells</text>
<text x="916" y="1511.7" font-size="7.5" fill="#111" text-anchor="middle">Th17 cells</text>
<text x="940.5" y="1544.3" font-size="7.5" fill="#111" text-anchor="middle">Th1 cells</text>
<text x="953.8" y="1581.7" font-size="7.5" fill="#111" text-anchor="middle">Tgd</text>
<text x="959.3" y="1622.4" font-size="7.5" fill="#111" text-anchor="middle">TFH</text>
<text x="953.8" y="1663.1000000000001" font-size="7.5" fill="#111" text-anchor="middle">Tem</text>
<text x="938.5" y="1701.1000000000001" font-size="7.5" fill="#111" text-anchor="middle">Tcm</text>
<text x="917.3" y="1732.7" font-size="7.5" fill="#111" text-anchor="middle">T helper cells</text>
<text x="882.4" y="1758.5" font-size="7.5" fill="#111" text-anchor="middle">T cells</text>
<text x="843.2" y="1774.0" font-size="7.5" fill="#111" text-anchor="middle">pDC</text>
<text x="813.2" y="1780.9" font-size="7.5" fill="#111" text-anchor="middle">NK cells</text>
<text x="767.8" y="1774.2" font-size="7.5" fill="#111" text-anchor="middle">NK CD56dim cells</text>
<text x="730.8" y="1757.7" font-size="7.5" fill="#111" text-anchor="middle">NK CD56bright cells</text>
<text x="695.1" y="1732.7" font-size="7.5" fill="#111" text-anchor="middle">Neutrophils</text>
<text x="669.7" y="1701.1000000000001" font-size="7.5" fill="#111" text-anchor="middle">Mast cells</text>
<text x="655.2" y="1662.9" font-size="7.5" fill="#111" text-anchor="middle">Macrophages</text>
<text x="646" y="1622.4" font-size="7.5" fill="#111" text-anchor="middle">iDC</text>
<text x="654.2" y="1581.7" font-size="7.5" fill="#111" text-anchor="middle">Eosinophils</text>
<text x="666.7" y="1544.3" font-size="7.5" fill="#111" text-anchor="middle">DC</text>
<text x="696.4" y="1511.3" font-size="7.5" fill="#111" text-anchor="middle">Cytotoxic cells</text>
<text x="727.1" y="1487.1000000000001" font-size="7.5" fill="#111" text-anchor="middle">CD8 T cells</text>
<text x="763.3" y="1470.9" font-size="7.5" fill="#111" text-anchor="middle">B cells</text>
<defs><radialGradient id="chordc"><stop offset="0" stop-color="#e4426c" stop-opacity="0.85"/><stop offset="0.7" stop-color="#e4426c" stop-opacity="0.6"/><stop offset="1" stop-color="#e4426c" stop-opacity="0"/></radialGradient></defs>
<circle cx="1147" cy="1620.9" r="95" fill="url(#chordc)"/>
<path d="M1213.0,1505.6 A128.5,128.5 0 0 1 1237.9,1525.0 Q1147,1615.9 1133.6,1743.7 A128.5,128.5 0 0 1 1105.2,1737.4 Q1147,1615.9 1213.0,1505.6 Z" fill="#e3305a" fill-opacity="0.82"/>
<path d="M1237.9,1525.0 A128.5,128.5 0 0 1 1256.2,1548.2 Q1147,1615.9 1021.3,1642.6 A128.5,128.5 0 0 1 1018.6,1610.5 Q1147,1615.9 1237.9,1525.0 Z" fill="#e3305a" fill-opacity="0.82"/>
<path d="M1259.8,1554.4 A128.5,128.5 0 0 1 1271.1,1582.6 Q1147,1615.9 1071.5,1719.9 A128.5,128.5 0 0 1 1051.5,1701.9 Q1147,1615.9 1259.8,1554.4 Z" fill="#e21e44" fill-opacity="0.82"/>
<path d="M1271.1,1582.6 A128.5,128.5 0 0 1 1275.5,1616.8 Q1147,1615.9 1019.2,1602.5 A128.5,128.5 0 0 1 1033.4,1555.8 Q1147,1615.9 1271.1,1582.6 Z" fill="#e21e44" fill-opacity="0.85"/>
<path d="M1261.5,1674.2 A128.5,128.5 0 0 1 1256.4,1683.2 Q1147,1615.9 1031.5,1672.2 A128.5,128.5 0 0 1 1027.9,1664.0 Q1147,1615.9 1261.5,1674.2 Z" fill="#e8467a" fill-opacity="0.75"/>
<path d="M1252.5,1689.2 A128.5,128.5 0 0 1 1233.0,1711.4 Q1147,1615.9 1027.9,1664.0 A128.5,128.5 0 0 1 1021.3,1642.6 Q1147,1615.9 1252.5,1689.2 Z" fill="#e8467a" fill-opacity="0.8"/>
<path d="M1201.1,1732.5 A128.5,128.5 0 0 1 1173.7,1741.6 Q1147,1615.9 1081.4,1505.4 A128.5,128.5 0 0 1 1107.3,1493.7 Q1147,1615.9 1201.1,1732.5 Z" fill="#e8467a" fill-opacity="0.8"/>
<path d="M1173.7,1741.6 A128.5,128.5 0 0 1 1142.5,1744.3 Q1147,1615.9 1051.5,1701.9 A128.5,128.5 0 0 1 1034.8,1678.6 Q1147,1615.9 1173.7,1741.6 Z" fill="#e3305a" fill-opacity="0.8"/>
<path d="M1105.2,1737.4 A128.5,128.5 0 0 1 1077.4,1723.9 Q1147,1615.9 1107.3,1493.7 A128.5,128.5 0 0 1 1140.5,1487.6 Q1147,1615.9 1105.2,1737.4 Z" fill="#c8485e" fill-opacity="0.8"/>
<path d="M1133.6,1743.7 A128.5,128.5 0 0 1 1105.2,1737.4 Q1147,1615.9 1081.4,1505.4 A128.5,128.5 0 0 1 1092.7,1499.4 Q1147,1615.9 1133.6,1743.7 Z" fill="#d83060" fill-opacity="0.35"/>
<path d="M1177.0,1491.0 A128.5,128.5 0 0 1 1206.9,1502.2 Q1147,1615.9 1275.2,1624.0 A128.5,128.5 0 0 1 1261.5,1674.2 Q1147,1615.9 1177.0,1491.0 Z" fill="#66e646" fill-opacity="0.88"/>
<path d="M1167.1,1489.0 A128.5,128.5 0 0 1 1177.0,1491.0 Q1147,1615.9 1233.0,1711.4 A128.5,128.5 0 0 1 1207.7,1729.1 Q1147,1615.9 1167.1,1489.0 Z" fill="#66e646" fill-opacity="0.85"/>
<path d="M1147.7,1487.4 A128.5,128.5 0 0 1 1159.3,1488.0 Q1147,1615.9 1036.9,1549.7 A128.5,128.5 0 0 1 1075.1,1509.4 Q1147,1615.9 1147.7,1487.4 Z" fill="#7cc04c" fill-opacity="0.9"/>
<path d="M1147.7,1487.4 A128.5,128.5 0 0 1 1167.1,1489.0 Q1147,1615.9 1045.7,1695.0 A128.5,128.5 0 0 1 1035.7,1680.2 Q1147,1615.9 1147.7,1487.4 Z" fill="#66e646" fill-opacity="0.55"/>
<path d="M1147.7,1487.4 A128.5,128.5 0 0 1 1156.0,1487.7 Q1147,1615.9 1019.8,1633.8 A128.5,128.5 0 0 1 1018.5,1615.9 Q1147,1615.9 1147.7,1487.4 Z" fill="#66e646" fill-opacity="0.5"/>
<path d="M1159.3,1488.0 A128.5,128.5 0 0 1 1161.5,1488.2 Q1147,1615.9 1024.8,1576.2 A128.5,128.5 0 0 1 1027.0,1569.8 Q1147,1615.9 1159.3,1488.0 Z" fill="#66e646" fill-opacity="0.8"/>
<path d="M1161.5,1488.2 A128.5,128.5 0 0 1 1163.8,1488.5 Q1147,1615.9 1019.8,1633.8 A128.5,128.5 0 0 1 1018.8,1624.9 Q1147,1615.9 1161.5,1488.2 Z" fill="#66e646" fill-opacity="0.8"/>
<path d="M1163.8,1488.5 A128.5,128.5 0 0 1 1165.5,1488.7 Q1147,1615.9 1111.6,1739.4 A128.5,128.5 0 0 1 1103.1,1736.7 Q1147,1615.9 1163.8,1488.5 Z" fill="#66e646" fill-opacity="0.8"/>
<path d="M1165.5,1488.7 A128.5,128.5 0 0 1 1167.1,1489.0 Q1147,1615.9 1169.3,1742.4 A128.5,128.5 0 0 1 1160.4,1743.7 Q1147,1615.9 1165.5,1488.7 Z" fill="#66e646" fill-opacity="0.8"/>
<path d="M1171.5,1489.8 A128.5,128.5 0 0 1 1173.7,1490.2 Q1147,1615.9 1045.7,1695.0 A128.5,128.5 0 0 1 1041.7,1689.6 Q1147,1615.9 1171.5,1489.8 Z" fill="#66e646" fill-opacity="0.75"/>
<path d="M1173.7,1490.2 A128.5,128.5 0 0 1 1177.0,1491.0 Q1147,1615.9 1190.9,1736.7 A128.5,128.5 0 0 1 1180.3,1740.0 Q1147,1615.9 1173.7,1490.2 Z" fill="#66e646" fill-opacity="0.75"/>
<path d="M1146.6,1474.2 A141.7,141.7 0 0 1 1214.0,1491.0 L1209.4,1499.6 A132,132 0 0 0 1146.7,1483.9 Z" fill="#6c4812"/>
<path d="M1146.6,1473.4 A142.5,142.5 0 0 1 1214.3,1490.3" fill="none" stroke="#000" stroke-width="2.2"/>
<line x1="1146.6" y1="1473.2" x2="1146.6" y2="1470.0" stroke="#000" stroke-width="1.1"/>
<line x1="1150.3" y1="1473.2" x2="1150.4" y2="1471.2" stroke="#000" stroke-width="1.1"/>
<line x1="1154.1" y1="1473.4" x2="1154.2" y2="1471.4" stroke="#000" stroke-width="1.1"/>
<line x1="1157.8" y1="1473.6" x2="1158.0" y2="1470.4" stroke="#000" stroke-width="1.1"/>
<line x1="1161.5" y1="1473.9" x2="1161.7" y2="1471.9" stroke="#000" stroke-width="1.1"/>
<line x1="1165.2" y1="1474.4" x2="1165.4" y2="1472.4" stroke="#000" stroke-width="1.1"/>
<line x1="1168.8" y1="1474.9" x2="1169.3" y2="1471.7" stroke="#000" stroke-width="1.1"/>
<line x1="1172.5" y1="1475.5" x2="1172.9" y2="1473.5" stroke="#000" stroke-width="1.1"/>
<line x1="1176.1" y1="1476.2" x2="1176.6" y2="1474.3" stroke="#000" stroke-width="1.1"/>
<line x1="1179.8" y1="1477.0" x2="1180.5" y2="1473.9" stroke="#000" stroke-width="1.1"/>
<line x1="1183.4" y1="1477.9" x2="1183.9" y2="1476.0" stroke="#000" stroke-width="1.1"/>
<line x1="1187.0" y1="1478.9" x2="1187.5" y2="1477.0" stroke="#000" stroke-width="1.1"/>
<line x1="1190.5" y1="1480.0" x2="1191.5" y2="1476.9" stroke="#000" stroke-width="1.1"/>
<line x1="1194.0" y1="1481.2" x2="1194.7" y2="1479.3" stroke="#000" stroke-width="1.1"/>
<line x1="1197.5" y1="1482.4" x2="1198.2" y2="1480.6" stroke="#000" stroke-width="1.1"/>
<line x1="1201.0" y1="1483.8" x2="1202.2" y2="1480.8" stroke="#000" stroke-width="1.1"/>
<line x1="1204.4" y1="1485.3" x2="1205.2" y2="1483.4" stroke="#000" stroke-width="1.1"/>
<line x1="1207.8" y1="1486.8" x2="1208.6" y2="1485.0" stroke="#000" stroke-width="1.1"/>
<line x1="1211.1" y1="1488.4" x2="1212.6" y2="1485.6" stroke="#000" stroke-width="1.1"/>
<line x1="1214.4" y1="1490.1" x2="1215.4" y2="1488.4" stroke="#000" stroke-width="1.1"/>
<text transform="translate(1184.9,1464.4) rotate(14.0)" font-size="9.2" letter-spacing="0.6" fill="#222" text-anchor="middle">PDPK1</text>
<path d="M1218.7,1493.7 A141.7,141.7 0 0 1 1268.1,1542.3 L1259.8,1547.3 A132,132 0 0 0 1213.8,1502.0 Z" fill="#0f2a82"/>
<path d="M1219.1,1493.0 A142.5,142.5 0 0 1 1268.8,1541.9" fill="none" stroke="#000" stroke-width="2.2"/>
<line x1="1219.2" y1="1492.8" x2="1220.8" y2="1490.1" stroke="#000" stroke-width="1.1"/>
<line x1="1222.4" y1="1494.7" x2="1223.4" y2="1493.0" stroke="#000" stroke-width="1.1"/>
<line x1="1225.5" y1="1496.7" x2="1226.6" y2="1495.1" stroke="#000" stroke-width="1.1"/>
<line x1="1228.6" y1="1498.8" x2="1230.4" y2="1496.2" stroke="#000" stroke-width="1.1"/>
<line x1="1231.6" y1="1501.0" x2="1232.8" y2="1499.4" stroke="#000" stroke-width="1.1"/>
<line x1="1234.6" y1="1503.2" x2="1235.8" y2="1501.6" stroke="#000" stroke-width="1.1"/>
<line x1="1237.5" y1="1505.5" x2="1239.5" y2="1503.1" stroke="#000" stroke-width="1.1"/>
<line x1="1240.3" y1="1507.9" x2="1241.6" y2="1506.4" stroke="#000" stroke-width="1.1"/>
<line x1="1243.1" y1="1510.4" x2="1244.4" y2="1508.9" stroke="#000" stroke-width="1.1"/>
<line x1="1245.8" y1="1512.9" x2="1248.0" y2="1510.6" stroke="#000" stroke-width="1.1"/>
<line x1="1248.4" y1="1515.5" x2="1249.8" y2="1514.1" stroke="#000" stroke-width="1.1"/>
<line x1="1251.0" y1="1518.2" x2="1252.5" y2="1516.8" stroke="#000" stroke-width="1.1"/>
<line x1="1253.5" y1="1520.9" x2="1255.9" y2="1518.8" stroke="#000" stroke-width="1.1"/>
<line x1="1255.9" y1="1523.7" x2="1257.5" y2="1522.4" stroke="#000" stroke-width="1.1"/>
<line x1="1258.3" y1="1526.6" x2="1259.9" y2="1525.3" stroke="#000" stroke-width="1.1"/>
<line x1="1260.6" y1="1529.5" x2="1263.1" y2="1527.6" stroke="#000" stroke-width="1.1"/>
<line x1="1262.8" y1="1532.5" x2="1264.4" y2="1531.3" stroke="#000" stroke-width="1.1"/>
<line x1="1264.9" y1="1535.5" x2="1266.6" y2="1534.4" stroke="#000" stroke-width="1.1"/>
<line x1="1267.0" y1="1538.6" x2="1269.7" y2="1536.9" stroke="#000" stroke-width="1.1"/>
<line x1="1268.9" y1="1541.8" x2="1270.6" y2="1540.7" stroke="#000" stroke-width="1.1"/>
<text transform="translate(1256.6,1504.6) rotate(44.5)" font-size="9.2" letter-spacing="0.6" fill="#222" text-anchor="middle">CCL19</text>
<path d="M1270.8,1547.0 A141.7,141.7 0 0 1 1288.7,1618.1 L1279.0,1618.0 A132,132 0 0 0 1262.3,1551.7 Z" fill="#b10808"/>
<path d="M1271.5,1546.6 A142.5,142.5 0 0 1 1289.5,1618.1" fill="none" stroke="#000" stroke-width="2.2"/>
<line x1="1271.7" y1="1546.5" x2="1274.5" y2="1544.9" stroke="#000" stroke-width="1.1"/>
<line x1="1273.5" y1="1549.8" x2="1275.2" y2="1548.9" stroke="#000" stroke-width="1.1"/>
<line x1="1275.1" y1="1553.1" x2="1276.9" y2="1552.2" stroke="#000" stroke-width="1.1"/>
<line x1="1276.7" y1="1556.5" x2="1279.7" y2="1555.2" stroke="#000" stroke-width="1.1"/>
<line x1="1278.3" y1="1559.9" x2="1280.1" y2="1559.1" stroke="#000" stroke-width="1.1"/>
<line x1="1279.7" y1="1563.4" x2="1281.5" y2="1562.6" stroke="#000" stroke-width="1.1"/>
<line x1="1281.0" y1="1566.9" x2="1284.0" y2="1565.8" stroke="#000" stroke-width="1.1"/>
<line x1="1282.2" y1="1570.4" x2="1284.1" y2="1569.7" stroke="#000" stroke-width="1.1"/>
<line x1="1283.4" y1="1573.9" x2="1285.3" y2="1573.4" stroke="#000" stroke-width="1.1"/>
<line x1="1284.4" y1="1577.5" x2="1287.5" y2="1576.7" stroke="#000" stroke-width="1.1"/>
<line x1="1285.4" y1="1581.1" x2="1287.3" y2="1580.6" stroke="#000" stroke-width="1.1"/>
<line x1="1286.3" y1="1584.8" x2="1288.2" y2="1584.3" stroke="#000" stroke-width="1.1"/>
<line x1="1287.0" y1="1588.4" x2="1290.2" y2="1587.8" stroke="#000" stroke-width="1.1"/>
<line x1="1287.7" y1="1592.1" x2="1289.7" y2="1591.8" stroke="#000" stroke-width="1.1"/>
<line x1="1288.3" y1="1595.8" x2="1290.3" y2="1595.5" stroke="#000" stroke-width="1.1"/>
<line x1="1288.8" y1="1599.5" x2="1291.9" y2="1599.1" stroke="#000" stroke-width="1.1"/>
<line x1="1289.1" y1="1603.2" x2="1291.1" y2="1603.0" stroke="#000" stroke-width="1.1"/>
<line x1="1289.4" y1="1606.9" x2="1291.4" y2="1606.8" stroke="#000" stroke-width="1.1"/>
<line x1="1289.6" y1="1610.7" x2="1292.8" y2="1610.6" stroke="#000" stroke-width="1.1"/>
<line x1="1289.7" y1="1614.4" x2="1291.7" y2="1614.4" stroke="#000" stroke-width="1.1"/>
<line x1="1289.7" y1="1618.1" x2="1291.7" y2="1618.2" stroke="#000" stroke-width="1.1"/>
<text transform="translate(1298.5,1577.8) rotate(75.9)" font-size="9.2" letter-spacing="0.6" fill="#222" text-anchor="middle">CCR7</text>
<path d="M1288.5,1623.6 A141.7,141.7 0 0 1 1267.0,1691.2 L1258.8,1686.0 A132,132 0 0 0 1278.8,1623.0 Z" fill="#e8bb2e"/>
<path d="M1289.3,1623.6 A142.5,142.5 0 0 1 1267.7,1691.6" fill="none" stroke="#000" stroke-width="2.2"/>
<line x1="1289.5" y1="1623.6" x2="1292.7" y2="1623.8" stroke="#000" stroke-width="1.1"/>
<line x1="1289.3" y1="1627.2" x2="1291.2" y2="1627.4" stroke="#000" stroke-width="1.1"/>
<line x1="1288.9" y1="1630.8" x2="1290.9" y2="1631.0" stroke="#000" stroke-width="1.1"/>
<line x1="1288.5" y1="1634.4" x2="1291.7" y2="1634.8" stroke="#000" stroke-width="1.1"/>
<line x1="1288.0" y1="1638.0" x2="1290.0" y2="1638.3" stroke="#000" stroke-width="1.1"/>
<line x1="1287.4" y1="1641.5" x2="1289.3" y2="1641.9" stroke="#000" stroke-width="1.1"/>
<line x1="1286.7" y1="1645.1" x2="1289.8" y2="1645.7" stroke="#000" stroke-width="1.1"/>
<line x1="1285.9" y1="1648.6" x2="1287.8" y2="1649.1" stroke="#000" stroke-width="1.1"/>
<line x1="1285.0" y1="1652.1" x2="1287.0" y2="1652.6" stroke="#000" stroke-width="1.1"/>
<line x1="1284.1" y1="1655.6" x2="1287.1" y2="1656.5" stroke="#000" stroke-width="1.1"/>
<line x1="1283.0" y1="1659.0" x2="1284.9" y2="1659.7" stroke="#000" stroke-width="1.1"/>
<line x1="1281.9" y1="1662.5" x2="1283.8" y2="1663.1" stroke="#000" stroke-width="1.1"/>
<line x1="1280.7" y1="1665.9" x2="1283.7" y2="1667.0" stroke="#000" stroke-width="1.1"/>
<line x1="1279.4" y1="1669.2" x2="1281.2" y2="1670.0" stroke="#000" stroke-width="1.1"/>
<line x1="1278.0" y1="1672.6" x2="1279.8" y2="1673.4" stroke="#000" stroke-width="1.1"/>
<line x1="1276.5" y1="1675.9" x2="1279.4" y2="1677.2" stroke="#000" stroke-width="1.1"/>
<line x1="1274.9" y1="1679.1" x2="1276.7" y2="1680.0" stroke="#000" stroke-width="1.1"/>
<line x1="1273.3" y1="1682.3" x2="1275.1" y2="1683.3" stroke="#000" stroke-width="1.1"/>
<line x1="1271.6" y1="1685.5" x2="1274.4" y2="1687.1" stroke="#000" stroke-width="1.1"/>
<line x1="1269.8" y1="1688.6" x2="1271.5" y2="1689.7" stroke="#000" stroke-width="1.1"/>
<line x1="1267.9" y1="1691.7" x2="1269.6" y2="1692.8" stroke="#000" stroke-width="1.1"/>
<text transform="translate(1302.6,1665.2) rotate(-72.4)" font-size="9.2" letter-spacing="0.6" fill="#222" text-anchor="middle">CD200</text>
<path d="M1264.1,1695.8 A141.7,141.7 0 0 1 1212.6,1741.5 L1208.2,1732.9 A132,132 0 0 0 1256.0,1690.3 Z" fill="#2a921a"/>
<path d="M1264.7,1696.2 A142.5,142.5 0 0 1 1213.0,1742.2" fill="none" stroke="#000" stroke-width="2.2"/>
<line x1="1264.9" y1="1696.3" x2="1267.5" y2="1698.1" stroke="#000" stroke-width="1.1"/>
<line x1="1262.8" y1="1699.3" x2="1264.4" y2="1700.5" stroke="#000" stroke-width="1.1"/>
<line x1="1260.6" y1="1702.3" x2="1262.2" y2="1703.5" stroke="#000" stroke-width="1.1"/>
<line x1="1258.3" y1="1705.2" x2="1260.8" y2="1707.2" stroke="#000" stroke-width="1.1"/>
<line x1="1256.0" y1="1708.0" x2="1257.5" y2="1709.3" stroke="#000" stroke-width="1.1"/>
<line x1="1253.6" y1="1710.8" x2="1255.0" y2="1712.1" stroke="#000" stroke-width="1.1"/>
<line x1="1251.1" y1="1713.5" x2="1253.4" y2="1715.7" stroke="#000" stroke-width="1.1"/>
<line x1="1248.5" y1="1716.2" x2="1249.9" y2="1717.6" stroke="#000" stroke-width="1.1"/>
<line x1="1245.9" y1="1718.8" x2="1247.3" y2="1720.2" stroke="#000" stroke-width="1.1"/>
<line x1="1243.2" y1="1721.3" x2="1245.4" y2="1723.7" stroke="#000" stroke-width="1.1"/>
<line x1="1240.5" y1="1723.7" x2="1241.8" y2="1725.3" stroke="#000" stroke-width="1.1"/>
<line x1="1237.6" y1="1726.1" x2="1238.9" y2="1727.7" stroke="#000" stroke-width="1.1"/>
<line x1="1234.8" y1="1728.4" x2="1236.7" y2="1730.9" stroke="#000" stroke-width="1.1"/>
<line x1="1231.8" y1="1730.6" x2="1233.0" y2="1732.3" stroke="#000" stroke-width="1.1"/>
<line x1="1228.8" y1="1732.8" x2="1230.0" y2="1734.4" stroke="#000" stroke-width="1.1"/>
<line x1="1225.8" y1="1734.9" x2="1227.6" y2="1737.5" stroke="#000" stroke-width="1.1"/>
<line x1="1222.7" y1="1736.9" x2="1223.8" y2="1738.6" stroke="#000" stroke-width="1.1"/>
<line x1="1219.5" y1="1738.8" x2="1220.6" y2="1740.5" stroke="#000" stroke-width="1.1"/>
<line x1="1216.4" y1="1740.6" x2="1217.9" y2="1743.4" stroke="#000" stroke-width="1.1"/>
<line x1="1213.1" y1="1742.4" x2="1214.0" y2="1744.1" stroke="#000" stroke-width="1.1"/>
<text transform="translate(1255.5,1737.8) rotate(-41.7)" font-size="9.2" letter-spacing="0.6" fill="#222" text-anchor="middle">CXCL9</text>
<path d="M1207.8,1743.9 A141.7,141.7 0 0 1 1140.8,1757.5 L1141.2,1747.8 A132,132 0 0 0 1203.6,1735.1 Z" fill="#38d21e"/>
<path d="M1208.1,1744.6 A142.5,142.5 0 0 1 1140.8,1758.3" fill="none" stroke="#000" stroke-width="2.2"/>
<line x1="1208.2" y1="1744.8" x2="1209.6" y2="1747.7" stroke="#000" stroke-width="1.1"/>
<line x1="1204.9" y1="1746.3" x2="1205.7" y2="1748.2" stroke="#000" stroke-width="1.1"/>
<line x1="1201.5" y1="1747.8" x2="1202.3" y2="1749.6" stroke="#000" stroke-width="1.1"/>
<line x1="1198.1" y1="1749.1" x2="1199.3" y2="1752.1" stroke="#000" stroke-width="1.1"/>
<line x1="1194.7" y1="1750.4" x2="1195.4" y2="1752.3" stroke="#000" stroke-width="1.1"/>
<line x1="1191.2" y1="1751.6" x2="1191.9" y2="1753.5" stroke="#000" stroke-width="1.1"/>
<line x1="1187.7" y1="1752.7" x2="1188.7" y2="1755.7" stroke="#000" stroke-width="1.1"/>
<line x1="1184.2" y1="1753.7" x2="1184.7" y2="1755.6" stroke="#000" stroke-width="1.1"/>
<line x1="1180.7" y1="1754.6" x2="1181.2" y2="1756.5" stroke="#000" stroke-width="1.1"/>
<line x1="1177.1" y1="1755.4" x2="1177.8" y2="1758.5" stroke="#000" stroke-width="1.1"/>
<line x1="1173.5" y1="1756.1" x2="1173.9" y2="1758.1" stroke="#000" stroke-width="1.1"/>
<line x1="1169.9" y1="1756.7" x2="1170.3" y2="1758.7" stroke="#000" stroke-width="1.1"/>
<line x1="1166.3" y1="1757.3" x2="1166.7" y2="1760.5" stroke="#000" stroke-width="1.1"/>
<line x1="1162.7" y1="1757.7" x2="1162.9" y2="1759.7" stroke="#000" stroke-width="1.1"/>
<line x1="1159.0" y1="1758.1" x2="1159.2" y2="1760.1" stroke="#000" stroke-width="1.1"/>
<line x1="1155.4" y1="1758.4" x2="1155.6" y2="1761.5" stroke="#000" stroke-width="1.1"/>
<line x1="1151.7" y1="1758.5" x2="1151.8" y2="1760.5" stroke="#000" stroke-width="1.1"/>
<line x1="1148.1" y1="1758.6" x2="1148.1" y2="1760.6" stroke="#000" stroke-width="1.1"/>
<line x1="1144.4" y1="1758.6" x2="1144.4" y2="1761.8" stroke="#000" stroke-width="1.1"/>
<line x1="1140.8" y1="1758.5" x2="1140.7" y2="1760.5" stroke="#000" stroke-width="1.1"/>
<text transform="translate(1179.4,1775.9) rotate(-11.4)" font-size="9.2" letter-spacing="0.6" fill="#222" text-anchor="middle">CXCR4</text>
<path d="M1135.4,1757.1 A141.7,141.7 0 0 1 1069.2,1734.3 L1074.5,1726.2 A132,132 0 0 0 1136.2,1747.5 Z" fill="#64e8c2"/>
<path d="M1135.3,1757.9 A142.5,142.5 0 0 1 1068.8,1735.0" fill="none" stroke="#000" stroke-width="2.2"/>
<line x1="1135.3" y1="1758.1" x2="1135.0" y2="1761.3" stroke="#000" stroke-width="1.1"/>
<line x1="1131.6" y1="1757.8" x2="1131.4" y2="1759.8" stroke="#000" stroke-width="1.1"/>
<line x1="1127.9" y1="1757.3" x2="1127.6" y2="1759.3" stroke="#000" stroke-width="1.1"/>
<line x1="1124.1" y1="1756.8" x2="1123.6" y2="1759.9" stroke="#000" stroke-width="1.1"/>
<line x1="1120.5" y1="1756.1" x2="1120.1" y2="1758.1" stroke="#000" stroke-width="1.1"/>
<line x1="1116.8" y1="1755.4" x2="1116.4" y2="1757.3" stroke="#000" stroke-width="1.1"/>
<line x1="1113.1" y1="1754.5" x2="1112.4" y2="1757.6" stroke="#000" stroke-width="1.1"/>
<line x1="1109.5" y1="1753.6" x2="1109.0" y2="1755.5" stroke="#000" stroke-width="1.1"/>
<line x1="1105.9" y1="1752.6" x2="1105.3" y2="1754.5" stroke="#000" stroke-width="1.1"/>
<line x1="1102.3" y1="1751.4" x2="1101.3" y2="1754.5" stroke="#000" stroke-width="1.1"/>
<line x1="1098.8" y1="1750.2" x2="1098.1" y2="1752.1" stroke="#000" stroke-width="1.1"/>
<line x1="1095.3" y1="1748.9" x2="1094.5" y2="1750.8" stroke="#000" stroke-width="1.1"/>
<line x1="1091.8" y1="1747.5" x2="1090.5" y2="1750.4" stroke="#000" stroke-width="1.1"/>
<line x1="1088.3" y1="1746.0" x2="1087.5" y2="1747.8" stroke="#000" stroke-width="1.1"/>
<line x1="1085.0" y1="1744.4" x2="1084.1" y2="1746.2" stroke="#000" stroke-width="1.1"/>
<line x1="1081.6" y1="1742.7" x2="1080.1" y2="1745.6" stroke="#000" stroke-width="1.1"/>
<line x1="1078.3" y1="1741.0" x2="1077.3" y2="1742.7" stroke="#000" stroke-width="1.1"/>
<line x1="1075.0" y1="1739.1" x2="1074.0" y2="1740.8" stroke="#000" stroke-width="1.1"/>
<line x1="1071.8" y1="1737.2" x2="1070.1" y2="1739.9" stroke="#000" stroke-width="1.1"/>
<line x1="1068.7" y1="1735.2" x2="1067.6" y2="1736.8" stroke="#000" stroke-width="1.1"/>
<text transform="translate(1093.9,1770.2) rotate(19.0)" font-size="9.2" letter-spacing="0.6" fill="#222" text-anchor="middle">GZMB</text>
<path d="M1064.7,1731.3 A141.7,141.7 0 0 1 1022.7,1683.9 L1031.2,1679.3 A132,132 0 0 0 1070.3,1723.4 Z" fill="#560a24"/>
<path d="M1064.2,1731.9 A142.5,142.5 0 0 1 1022.0,1684.3" fill="none" stroke="#000" stroke-width="2.2"/>
<line x1="1064.1" y1="1732.1" x2="1062.3" y2="1734.7" stroke="#000" stroke-width="1.1"/>
<line x1="1061.1" y1="1729.8" x2="1059.9" y2="1731.4" stroke="#000" stroke-width="1.1"/>
<line x1="1058.1" y1="1727.5" x2="1056.9" y2="1729.1" stroke="#000" stroke-width="1.1"/>
<line x1="1055.2" y1="1725.1" x2="1053.1" y2="1727.6" stroke="#000" stroke-width="1.1"/>
<line x1="1052.3" y1="1722.7" x2="1051.0" y2="1724.2" stroke="#000" stroke-width="1.1"/>
<line x1="1049.5" y1="1720.1" x2="1048.2" y2="1721.6" stroke="#000" stroke-width="1.1"/>
<line x1="1046.8" y1="1717.5" x2="1044.5" y2="1719.8" stroke="#000" stroke-width="1.1"/>
<line x1="1044.1" y1="1714.8" x2="1042.7" y2="1716.2" stroke="#000" stroke-width="1.1"/>
<line x1="1041.6" y1="1712.0" x2="1040.1" y2="1713.4" stroke="#000" stroke-width="1.1"/>
<line x1="1039.0" y1="1709.2" x2="1036.6" y2="1711.3" stroke="#000" stroke-width="1.1"/>
<line x1="1036.6" y1="1706.3" x2="1035.1" y2="1707.6" stroke="#000" stroke-width="1.1"/>
<line x1="1034.3" y1="1703.4" x2="1032.7" y2="1704.6" stroke="#000" stroke-width="1.1"/>
<line x1="1032.0" y1="1700.4" x2="1029.4" y2="1702.3" stroke="#000" stroke-width="1.1"/>
<line x1="1029.8" y1="1697.3" x2="1028.1" y2="1698.4" stroke="#000" stroke-width="1.1"/>
<line x1="1027.7" y1="1694.1" x2="1026.0" y2="1695.2" stroke="#000" stroke-width="1.1"/>
<line x1="1025.6" y1="1691.0" x2="1022.9" y2="1692.6" stroke="#000" stroke-width="1.1"/>
<line x1="1023.7" y1="1687.7" x2="1022.0" y2="1688.7" stroke="#000" stroke-width="1.1"/>
<line x1="1021.8" y1="1684.4" x2="1020.1" y2="1685.4" stroke="#000" stroke-width="1.1"/>
<text transform="translate(1025.0,1724.3) rotate(48.4)" font-size="9.2" letter-spacing="0.6" fill="#222" text-anchor="middle">HSPA6</text>
<path d="M1020.2,1679.1 A141.7,141.7 0 0 1 1005.5,1608.7 L1015.2,1609.2 A132,132 0 0 0 1028.9,1674.8 Z" fill="#5598cf"/>
<path d="M1019.5,1679.5 A142.5,142.5 0 0 1 1004.7,1608.7" fill="none" stroke="#000" stroke-width="2.2"/>
<line x1="1019.3" y1="1679.6" x2="1016.4" y2="1681.0" stroke="#000" stroke-width="1.1"/>
<line x1="1017.7" y1="1676.3" x2="1015.9" y2="1677.1" stroke="#000" stroke-width="1.1"/>
<line x1="1016.2" y1="1672.9" x2="1014.4" y2="1673.7" stroke="#000" stroke-width="1.1"/>
<line x1="1014.8" y1="1669.6" x2="1011.8" y2="1670.8" stroke="#000" stroke-width="1.1"/>
<line x1="1013.4" y1="1666.2" x2="1011.6" y2="1666.9" stroke="#000" stroke-width="1.1"/>
<line x1="1012.2" y1="1662.7" x2="1010.3" y2="1663.4" stroke="#000" stroke-width="1.1"/>
<line x1="1011.0" y1="1659.2" x2="1008.0" y2="1660.2" stroke="#000" stroke-width="1.1"/>
<line x1="1010.0" y1="1655.7" x2="1008.1" y2="1656.3" stroke="#000" stroke-width="1.1"/>
<line x1="1009.0" y1="1652.2" x2="1007.1" y2="1652.7" stroke="#000" stroke-width="1.1"/>
<line x1="1008.1" y1="1648.7" x2="1005.0" y2="1649.4" stroke="#000" stroke-width="1.1"/>
<line x1="1007.3" y1="1645.1" x2="1005.4" y2="1645.5" stroke="#000" stroke-width="1.1"/>
<line x1="1006.6" y1="1641.5" x2="1004.6" y2="1641.8" stroke="#000" stroke-width="1.1"/>
<line x1="1006.0" y1="1637.9" x2="1002.8" y2="1638.4" stroke="#000" stroke-width="1.1"/>
<line x1="1005.5" y1="1634.3" x2="1003.5" y2="1634.5" stroke="#000" stroke-width="1.1"/>
<line x1="1005.1" y1="1630.6" x2="1003.1" y2="1630.8" stroke="#000" stroke-width="1.1"/>
<line x1="1004.7" y1="1627.0" x2="1001.5" y2="1627.2" stroke="#000" stroke-width="1.1"/>
<line x1="1004.5" y1="1623.3" x2="1002.5" y2="1623.4" stroke="#000" stroke-width="1.1"/>
<line x1="1004.3" y1="1619.7" x2="1002.4" y2="1619.7" stroke="#000" stroke-width="1.1"/>
<line x1="1004.3" y1="1616.0" x2="1001.1" y2="1616.0" stroke="#000" stroke-width="1.1"/>
<line x1="1004.3" y1="1612.3" x2="1002.3" y2="1612.3" stroke="#000" stroke-width="1.1"/>
<line x1="1004.5" y1="1608.7" x2="1002.5" y2="1608.6" stroke="#000" stroke-width="1.1"/>
<text transform="translate(987.2,1649.3) rotate(78.2)" font-size="9.2" letter-spacing="0.6" fill="#222" text-anchor="middle">ICAM1</text>
<path d="M1005.9,1603.3 A141.7,141.7 0 0 1 1022.4,1548.5 L1030.9,1553.1 A132,132 0 0 0 1015.5,1604.2 Z" fill="#22083e"/>
<path d="M1005.1,1603.2 A142.5,142.5 0 0 1 1021.7,1548.1" fill="none" stroke="#000" stroke-width="2.2"/>
<line x1="1004.9" y1="1603.2" x2="1001.7" y2="1602.9" stroke="#000" stroke-width="1.1"/>
<line x1="1005.2" y1="1599.6" x2="1003.2" y2="1599.4" stroke="#000" stroke-width="1.1"/>
<line x1="1005.7" y1="1596.0" x2="1003.7" y2="1595.7" stroke="#000" stroke-width="1.1"/>
<line x1="1006.2" y1="1592.4" x2="1003.1" y2="1591.9" stroke="#000" stroke-width="1.1"/>
<line x1="1006.9" y1="1588.9" x2="1004.9" y2="1588.5" stroke="#000" stroke-width="1.1"/>
<line x1="1007.6" y1="1585.3" x2="1005.7" y2="1584.9" stroke="#000" stroke-width="1.1"/>
<line x1="1008.4" y1="1581.8" x2="1005.3" y2="1581.0" stroke="#000" stroke-width="1.1"/>
<line x1="1009.4" y1="1578.3" x2="1007.4" y2="1577.7" stroke="#000" stroke-width="1.1"/>
<line x1="1010.4" y1="1574.8" x2="1008.4" y2="1574.2" stroke="#000" stroke-width="1.1"/>
<line x1="1011.4" y1="1571.3" x2="1008.4" y2="1570.3" stroke="#000" stroke-width="1.1"/>
<line x1="1012.6" y1="1567.9" x2="1010.7" y2="1567.2" stroke="#000" stroke-width="1.1"/>
<line x1="1013.9" y1="1564.5" x2="1012.0" y2="1563.8" stroke="#000" stroke-width="1.1"/>
<line x1="1015.2" y1="1561.1" x2="1012.3" y2="1559.9" stroke="#000" stroke-width="1.1"/>
<line x1="1016.7" y1="1557.8" x2="1014.8" y2="1557.0" stroke="#000" stroke-width="1.1"/>
<line x1="1018.2" y1="1554.5" x2="1016.4" y2="1553.6" stroke="#000" stroke-width="1.1"/>
<line x1="1019.8" y1="1551.2" x2="1016.9" y2="1549.8" stroke="#000" stroke-width="1.1"/>
<line x1="1021.5" y1="1548.0" x2="1019.7" y2="1547.1" stroke="#000" stroke-width="1.1"/>
<text transform="translate(997.4,1570.9) rotate(286.8)" font-size="9.2" letter-spacing="0.6" fill="#222" text-anchor="middle">LGALS9</text>
<path d="M1025.0,1543.8 A141.7,141.7 0 0 1 1069.0,1497.6 L1074.3,1505.7 A132,132 0 0 0 1033.4,1548.7 Z" fill="#5a4fc2"/>
<path d="M1024.3,1543.4 A142.5,142.5 0 0 1 1068.6,1496.9" fill="none" stroke="#000" stroke-width="2.2"/>
<line x1="1024.2" y1="1543.3" x2="1021.4" y2="1541.6" stroke="#000" stroke-width="1.1"/>
<line x1="1026.2" y1="1540.0" x2="1024.5" y2="1538.9" stroke="#000" stroke-width="1.1"/>
<line x1="1028.2" y1="1536.8" x2="1026.6" y2="1535.7" stroke="#000" stroke-width="1.1"/>
<line x1="1030.4" y1="1533.7" x2="1027.8" y2="1531.8" stroke="#000" stroke-width="1.1"/>
<line x1="1032.6" y1="1530.6" x2="1031.0" y2="1529.4" stroke="#000" stroke-width="1.1"/>
<line x1="1034.9" y1="1527.6" x2="1033.4" y2="1526.3" stroke="#000" stroke-width="1.1"/>
<line x1="1037.3" y1="1524.6" x2="1034.9" y2="1522.6" stroke="#000" stroke-width="1.1"/>
<line x1="1039.8" y1="1521.7" x2="1038.3" y2="1520.4" stroke="#000" stroke-width="1.1"/>
<line x1="1042.4" y1="1518.9" x2="1040.9" y2="1517.5" stroke="#000" stroke-width="1.1"/>
<line x1="1045.0" y1="1516.1" x2="1042.7" y2="1513.9" stroke="#000" stroke-width="1.1"/>
<line x1="1047.7" y1="1513.4" x2="1046.3" y2="1512.0" stroke="#000" stroke-width="1.1"/>
<line x1="1050.5" y1="1510.8" x2="1049.1" y2="1509.3" stroke="#000" stroke-width="1.1"/>
<line x1="1053.3" y1="1508.3" x2="1051.2" y2="1505.9" stroke="#000" stroke-width="1.1"/>
<line x1="1056.2" y1="1505.8" x2="1054.9" y2="1504.3" stroke="#000" stroke-width="1.1"/>
<line x1="1059.2" y1="1503.4" x2="1057.9" y2="1501.9" stroke="#000" stroke-width="1.1"/>
<line x1="1062.2" y1="1501.1" x2="1060.3" y2="1498.6" stroke="#000" stroke-width="1.1"/>
<line x1="1065.3" y1="1498.9" x2="1064.1" y2="1497.3" stroke="#000" stroke-width="1.1"/>
<line x1="1068.4" y1="1496.8" x2="1067.3" y2="1495.1" stroke="#000" stroke-width="1.1"/>
<text transform="translate(1033.9,1508.2) rotate(313.6)" font-size="9.2" letter-spacing="0.6" fill="#222" text-anchor="middle">SLAMF7</text>
<path d="M1073.6,1494.7 A141.7,141.7 0 0 1 1141.2,1474.3 L1141.6,1484.0 A132,132 0 0 0 1078.6,1503.0 Z" fill="#c81eb2"/>
<path d="M1073.2,1494.0 A142.5,142.5 0 0 1 1141.2,1473.5" fill="none" stroke="#000" stroke-width="2.2"/>
<line x1="1073.1" y1="1493.8" x2="1071.4" y2="1491.1" stroke="#000" stroke-width="1.1"/>
<line x1="1076.3" y1="1491.9" x2="1075.3" y2="1490.2" stroke="#000" stroke-width="1.1"/>
<line x1="1079.6" y1="1490.1" x2="1078.7" y2="1488.3" stroke="#000" stroke-width="1.1"/>
<line x1="1083.0" y1="1488.4" x2="1081.6" y2="1485.5" stroke="#000" stroke-width="1.1"/>
<line x1="1086.4" y1="1486.7" x2="1085.6" y2="1484.9" stroke="#000" stroke-width="1.1"/>
<line x1="1089.9" y1="1485.1" x2="1089.1" y2="1483.3" stroke="#000" stroke-width="1.1"/>
<line x1="1093.3" y1="1483.7" x2="1092.1" y2="1480.7" stroke="#000" stroke-width="1.1"/>
<line x1="1096.9" y1="1482.3" x2="1096.2" y2="1480.4" stroke="#000" stroke-width="1.1"/>
<line x1="1100.4" y1="1481.0" x2="1099.8" y2="1479.1" stroke="#000" stroke-width="1.1"/>
<line x1="1104.0" y1="1479.8" x2="1103.0" y2="1476.8" stroke="#000" stroke-width="1.1"/>
<line x1="1107.6" y1="1478.7" x2="1107.1" y2="1476.8" stroke="#000" stroke-width="1.1"/>
<line x1="1111.3" y1="1477.7" x2="1110.8" y2="1475.8" stroke="#000" stroke-width="1.1"/>
<line x1="1115.0" y1="1476.8" x2="1114.2" y2="1473.7" stroke="#000" stroke-width="1.1"/>
<line x1="1118.6" y1="1476.0" x2="1118.2" y2="1474.1" stroke="#000" stroke-width="1.1"/>
<line x1="1122.4" y1="1475.3" x2="1122.0" y2="1473.4" stroke="#000" stroke-width="1.1"/>
<line x1="1126.1" y1="1474.7" x2="1125.6" y2="1471.6" stroke="#000" stroke-width="1.1"/>
<line x1="1129.8" y1="1474.2" x2="1129.6" y2="1472.2" stroke="#000" stroke-width="1.1"/>
<line x1="1133.6" y1="1473.8" x2="1133.4" y2="1471.8" stroke="#000" stroke-width="1.1"/>
<line x1="1137.4" y1="1473.5" x2="1137.2" y2="1470.3" stroke="#000" stroke-width="1.1"/>
<line x1="1141.1" y1="1473.3" x2="1141.1" y2="1471.3" stroke="#000" stroke-width="1.1"/>
<text transform="translate(1101.9,1466.3) rotate(343.2)" font-size="9.2" letter-spacing="0.6" fill="#222" text-anchor="middle">TNFRSF8</text>
<defs><clipPath id="protclip"><rect x="184.8" y="1527" width="328.5" height="259"/></clipPath></defs>
<g clip-path="url(#protclip)"><g transform="translate(180,1520) scale(0.2398)">
<path d="M20,355 C110,360 190,420 225,510 C250,600 150,660 110,725 C90,760 120,790 160,820 C220,870 265,930 262,1000 C260,1060 250,1100 243,1126" fill="none" stroke="#3a9a14" stroke-width="14" stroke-linecap="round" stroke-linejoin="round"/>
<path d="M20,355 C110,360 190,420 225,510 C250,600 150,660 110,725 C90,760 120,790 160,820 C220,870 265,930 262,1000 C260,1060 250,1100 243,1126" fill="none" stroke="#64e226" stroke-width="10" stroke-linecap="round" stroke-linejoin="round"/>
<path d="M215,640 C240,590 300,570 330,600 C350,640 330,700 270,720 C240,730 220,700 215,640" fill="none" stroke="#3a9a14" stroke-width="14" stroke-linecap="round" stroke-linejoin="round"/>
<path d="M215,640 C240,590 300,570 330,600 C350,640 330,700 270,720 C240,730 220,700 215,640" fill="none" stroke="#64e226" stroke-width="10" stroke-linecap="round" stroke-linejoin="round"/>
<path d="M135,951 C160,970 190,1040 203,1126" fill="none" stroke="#3a9a14" stroke-width="14" stroke-linecap="round" stroke-linejoin="round"/>
<path d="M135,951 C160,970 190,1040 203,1126" fill="none" stroke="#64e226" stroke-width="10" stroke-linecap="round" stroke-linejoin="round"/>
<path d="M150,1000 C175,985 200,1010 190,1040" fill="none" stroke="#3a9a14" stroke-width="14" stroke-linecap="round" stroke-linejoin="round"/>
<path d="M150,1000 C175,985 200,1010 190,1040" fill="none" stroke="#64e226" stroke-width="10" stroke-linecap="round" stroke-linejoin="round"/>
<path d="M20,748 C50,725 80,715 108,713" fill="none" stroke="#3a9a14" stroke-width="14" stroke-linecap="round" stroke-linejoin="round"/>
<path d="M20,748 C50,725 80,715 108,713" fill="none" stroke="#64e226" stroke-width="10" stroke-linecap="round" stroke-linejoin="round"/>
<path d="M20,863 C50,855 65,830 81,816 C100,800 120,795 135,795" fill="none" stroke="#3a9a14" stroke-width="14" stroke-linecap="round" stroke-linejoin="round"/>
<path d="M20,863 C50,855 65,830 81,816 C100,800 120,795 135,795" fill="none" stroke="#64e226" stroke-width="10" stroke-linecap="round" stroke-linejoin="round"/>
<path d="M20,160 C40,200 40,240 20,270" fill="none" stroke="#3a9a14" stroke-width="14" stroke-linecap="round" stroke-linejoin="round"/>
<path d="M20,160 C40,200 40,240 20,270" fill="none" stroke="#64e226" stroke-width="10" stroke-linecap="round" stroke-linejoin="round"/>
<path d="M300,395 C380,400 480,380 560,360 C620,340 700,330 740,360 C760,380 780,380 790,375" fill="none" stroke="#3a9a14" stroke-width="14" stroke-linecap="round" stroke-linejoin="round"/>
<path d="M300,395 C380,400 480,380 560,360 C620,340 700,330 740,360 C760,380 780,380 790,375" fill="none" stroke="#64e226" stroke-width="10" stroke-linecap="round" stroke-linejoin="round"/>
<path d="M380,90 C360,200 420,260 430,300 C440,350 460,380 520,380" fill="none" stroke="#3a9a14" stroke-width="14" stroke-linecap="round" stroke-linejoin="round"/>
<path d="M380,90 C360,200 420,260 430,300 C440,350 460,380 520,380" fill="none" stroke="#64e226" stroke-width="10" stroke-linecap="round" stroke-linejoin="round"/>
<path d="M560,40 C600,120 620,180 560,230 C520,270 530,330 600,360" fill="none" stroke="#3a9a14" stroke-width="14" stroke-linecap="round" stroke-linejoin="round"/>
<path d="M560,40 C600,120 620,180 560,230 C520,270 530,330 600,360" fill="none" stroke="#64e226" stroke-width="10" stroke-linecap="round" stroke-linejoin="round"/>
<path d="M720,60 C760,120 700,200 680,260 C660,320 700,360 740,360" fill="none" stroke="#3a9a14" stroke-width="14" stroke-linecap="round" stroke-linejoin="round"/>
<path d="M720,60 C760,120 700,200 680,260 C660,320 700,360 740,360" fill="none" stroke="#64e226" stroke-width="10" stroke-linecap="round" stroke-linejoin="round"/>
<path d="M1000,260 C990,350 990,450 1050,480 C1100,500 1140,470 1170,440 C1250,360 1320,260 1390,220" fill="none" stroke="#3a9a14" stroke-width="14" stroke-linecap="round" stroke-linejoin="round"/>
<path d="M1000,260 C990,350 990,450 1050,480 C1100,500 1140,470 1170,440 C1250,360 1320,260 1390,220" fill="none" stroke="#64e226" stroke-width="10" stroke-linecap="round" stroke-linejoin="round"/>
<path d="M1140,470 C1200,520 1300,560 1390,630" fill="none" stroke="#3a9a14" stroke-width="14" stroke-linecap="round" stroke-linejoin="round"/>
<path d="M1140,470 C1200,520 1300,560 1390,630" fill="none" stroke="#64e226" stroke-width="10" stroke-linecap="round" stroke-linejoin="round"/>
<path d="M1140,470 C1230,460 1320,420 1390,380" fill="none" stroke="#3a9a14" stroke-width="14" stroke-linecap="round" stroke-linejoin="round"/>
<path d="M1140,470 C1230,460 1320,420 1390,380" fill="none" stroke="#64e226" stroke-width="10" stroke-linecap="round" stroke-linejoin="round"/>
<path d="M900,790 C920,850 900,900 950,880 C1000,860 1100,900 1150,1000" fill="none" stroke="#3a9a14" stroke-width="14" stroke-linecap="round" stroke-linejoin="round"/>
<path d="M900,790 C920,850 900,900 950,880 C1000,860 1100,900 1150,1000" fill="none" stroke="#64e226" stroke-width="10" stroke-linecap="round" stroke-linejoin="round"/>
<path d="M940,880 C1000,950 1080,980 1150,990" fill="none" stroke="#3a9a14" stroke-width="14" stroke-linecap="round" stroke-linejoin="round"/>
<path d="M940,880 C1000,950 1080,980 1150,990" fill="none" stroke="#64e226" stroke-width="10" stroke-linecap="round" stroke-linejoin="round"/>
<path d="M300,760 C330,850 340,900 410,920" fill="none" stroke="#3a9a14" stroke-width="14" stroke-linecap="round" stroke-linejoin="round"/>
<path d="M300,760 C330,850 340,900 410,920" fill="none" stroke="#64e226" stroke-width="10" stroke-linecap="round" stroke-linejoin="round"/>
<path d="M150,960 C200,980 190,1060 170,1110" fill="none" stroke="#3a9a14" stroke-width="14" stroke-linecap="round" stroke-linejoin="round"/>
<path d="M150,960 C200,980 190,1060 170,1110" fill="none" stroke="#64e226" stroke-width="10" stroke-linecap="round" stroke-linejoin="round"/>
<path d="M860,1000 C900,1050 880,1100 850,1110" fill="none" stroke="#3a9a14" stroke-width="14" stroke-linecap="round" stroke-linejoin="round"/>
<path d="M860,1000 C900,1050 880,1100 850,1110" fill="none" stroke="#64e226" stroke-width="10" stroke-linecap="round" stroke-linejoin="round"/>
<path d="M420,560 C470,540 520,560 560,590" fill="none" stroke="#3a9a14" stroke-width="14" stroke-linecap="round" stroke-linejoin="round"/>
<path d="M420,560 C470,540 520,560 560,590" fill="none" stroke="#64e226" stroke-width="10" stroke-linecap="round" stroke-linejoin="round"/>
<g transform="rotate(0 60 45)">
<ellipse cx="60" cy="45" rx="55" ry="28" fill="#64e226" stroke="#3a9a14" stroke-width="5"/>
<ellipse cx="66.6" cy="47.8" rx="34.1" ry="17.36" fill="#4cb81c"/>
<ellipse cx="71.0" cy="49.2" rx="16.5" ry="6.720000000000001" fill="#fff"/>
</g>
<g transform="rotate(0 150 55)">
<ellipse cx="150" cy="55" rx="60" ry="35" fill="#64e226" stroke="#3a9a14" stroke-width="5"/>
<ellipse cx="157.2" cy="58.5" rx="37.2" ry="21.7" fill="#4cb81c"/>
<ellipse cx="162.0" cy="60.25" rx="18.0" ry="8.4" fill="#fff"/>
</g>
<g transform="rotate(0 250 45)">
<ellipse cx="250" cy="45" rx="60" ry="28" fill="#64e226" stroke="#3a9a14" stroke-width="5"/>
<ellipse cx="257.2" cy="47.8" rx="37.2" ry="17.36" fill="#4cb81c"/>
<ellipse cx="262.0" cy="49.2" rx="18.0" ry="6.720000000000001" fill="#fff"/>
</g>
<g transform="rotate(0 350 40)">
<ellipse cx="350" cy="40" rx="50" ry="22" fill="#64e226" stroke="#3a9a14" stroke-width="5"/>
<ellipse cx="356.0" cy="42.2" rx="31.0" ry="13.64" fill="#4cb81c"/>
<ellipse cx="360.0" cy="43.3" rx="15.0" ry="5.28" fill="#fff"/>
</g>
<g transform="rotate(0 470 50)">
<ellipse cx="470" cy="50" rx="60" ry="32" fill="#64e226" stroke="#3a9a14" stroke-width="5"/>
<ellipse cx="477.2" cy="53.2" rx="37.2" ry="19.84" fill="#4cb81c"/>
<ellipse cx="482.0" cy="54.8" rx="18.0" ry="7.68" fill="#fff"/>
</g>
<g transform="rotate(0 560 45)">
<ellipse cx="560" cy="45" rx="55" ry="28" fill="#64e226" stroke="#3a9a14" stroke-width="5"/>
<ellipse cx="566.6" cy="47.8" rx="34.1" ry="17.36" fill="#4cb81c"/>
<ellipse cx="571.0" cy="49.2" rx="16.5" ry="6.720000000000001" fill="#fff"/>
</g>
<g transform="rotate(0 660 50)">
<ellipse cx="660" cy="50" rx="65" ry="32" fill="#64e226" stroke="#3a9a14" stroke-width="5"/>
<ellipse cx="667.8" cy="53.2" rx="40.3" ry="19.84" fill="#4cb81c"/>
<ellipse cx="673.0" cy="54.8" rx="19.5" ry="7.68" fill="#fff"/>
</g>
<g transform="rotate(0 760 45)">
<ellipse cx="760" cy="45" rx="55" ry="28" fill="#64e226" stroke="#3a9a14" stroke-width="5"/>
<ellipse cx="766.6" cy="47.8" rx="34.1" ry="17.36" fill="#4cb81c"/>
<ellipse cx="771.0" cy="49.2" rx="16.5" ry="6.720000000000001" fill="#fff"/>
</g>
<g transform="rotate(0 860 45)">
<ellipse cx="860" cy="45" rx="60" ry="26" fill="#64e226" stroke="#3a9a14" stroke-width="5"/>
<ellipse cx="867.2" cy="47.6" rx="37.2" ry="16.12" fill="#4cb81c"/>
<ellipse cx="872.0" cy="48.9" rx="18.0" ry="6.24" fill="#fff"/>
</g>
<g transform="rotate(0 960 40)">
<ellipse cx="960" cy="40" rx="50" ry="22" fill="#64e226" stroke="#3a9a14" stroke-width="5"/>
<ellipse cx="966.0" cy="42.2" rx="31.0" ry="13.64" fill="#4cb81c"/>
<ellipse cx="970.0" cy="43.3" rx="15.0" ry="5.28" fill="#fff"/>
</g>
<g transform="rotate(0 1080 40)">
<ellipse cx="1080" cy="40" rx="60" ry="20" fill="#64e226" stroke="#3a9a14" stroke-width="5"/>
<ellipse cx="1087.2" cy="42.0" rx="37.2" ry="12.4" fill="#4cb81c"/>
<ellipse cx="1092.0" cy="43.0" rx="18.0" ry="4.800000000000001" fill="#fff"/>
</g>
<g transform="rotate(-35 175 120)">
<ellipse cx="175" cy="120" rx="80" ry="62" fill="#64e226" stroke="#3a9a14" stroke-width="5"/>
<ellipse cx="184.6" cy="126.2" rx="49.6" ry="38.44" fill="#4cb81c"/>
<ellipse cx="191.0" cy="129.3" rx="30.4" ry="18.848" fill="#fff"/>
</g>
<g transform="rotate(-25 235 190)">
<ellipse cx="235" cy="190" rx="85" ry="80" fill="#64e226" stroke="#3a9a14" stroke-width="5"/>
<ellipse cx="245.2" cy="198.0" rx="52.7" ry="49.6" fill="#4cb81c"/>
<ellipse cx="252.0" cy="202.0" rx="34.0" ry="25.6" fill="#fff"/>
</g>
<g transform="rotate(-15 292 280)">
<ellipse cx="292" cy="280" rx="78" ry="88" fill="#64e226" stroke="#3a9a14" stroke-width="5"/>
<ellipse cx="301.36" cy="288.8" rx="48.36" ry="54.56" fill="#4cb81c"/>
<ellipse cx="307.6" cy="293.2" rx="32.76" ry="29.568" fill="#fff"/>
</g>
<g transform="rotate(-20 1065 110)">
<ellipse cx="1065" cy="110" rx="55" ry="75" fill="#64e226" stroke="#3a9a14" stroke-width="5"/>
<ellipse cx="1071.6" cy="117.5" rx="34.1" ry="46.5" fill="#4cb81c"/>
<ellipse cx="1076.0" cy="121.25" rx="19.25" ry="21.0" fill="#fff"/>
</g>
<g transform="rotate(25 490 920)">
<ellipse cx="490" cy="920" rx="65" ry="70" fill="#64e226" stroke="#3a9a14" stroke-width="5"/>
<ellipse cx="497.8" cy="927.0" rx="40.3" ry="43.4" fill="#4cb81c"/>
<ellipse cx="503.0" cy="930.5" rx="22.75" ry="19.6" fill="#fff"/>
</g>
<g transform="rotate(10 640 1030)">
<ellipse cx="640" cy="1030" rx="80" ry="75" fill="#64e226" stroke="#3a9a14" stroke-width="5"/>
<ellipse cx="649.6" cy="1037.5" rx="49.6" ry="46.5" fill="#4cb81c"/>
<ellipse cx="656.0" cy="1041.25" rx="28.0" ry="21.0" fill="#fff"/>
</g>
<g transform="rotate(0 830 1020)">
<ellipse cx="830" cy="1020" rx="70" ry="85" fill="#64e226" stroke="#3a9a14" stroke-width="5"/>
<ellipse cx="838.4" cy="1028.5" rx="43.4" ry="52.7" fill="#4cb81c"/>
<ellipse cx="844.0" cy="1032.75" rx="24.5" ry="23.799999999999997" fill="#fff"/>
</g>
<g transform="rotate(0 460 1080)">
<ellipse cx="460" cy="1080" rx="60" ry="45" fill="#64e226" stroke="#3a9a14" stroke-width="5"/>
<ellipse cx="467.2" cy="1084.5" rx="37.2" ry="27.9" fill="#4cb81c"/>
<ellipse cx="472.0" cy="1086.75" rx="18.0" ry="10.8" fill="#fff"/>
</g>
<path d="M1080,150 L1120,220 L1140,150 Z" fill="#64e226" stroke="#3a9a14" stroke-width="4"/>
<path d="M300,410 L340,450 L380,460 L420,490 L450,520 L430,560 L410,600 L380,640 L330,650 L300,640 L270,660" fill="none" stroke="#72e6d6" stroke-width="12" stroke-linejoin="round" stroke-linecap="round"/>
<path d="M440,500 L500,520 L560,530 L600,560 L580,600 L560,640 L600,660 L650,640 L700,650 L740,620 L760,580 L800,550 L840,530 L880,500 L920,450 L940,420 L900,380 L880,340" fill="none" stroke="#72e6d6" stroke-width="12" stroke-linejoin="round" stroke-linecap="round"/>
<path d="M560,640 L600,680 L640,700 L680,690 L720,700 L740,740 L700,770 L650,770 L620,740" fill="none" stroke="#72e6d6" stroke-width="12" stroke-linejoin="round" stroke-linecap="round"/>
<path d="M740,700 L780,690 L820,720 L860,760 L840,800 L800,800 L780,760" fill="none" stroke="#72e6d6" stroke-width="12" stroke-linejoin="round" stroke-linecap="round"/>
<path d="M850,530 L880,560 L900,600 L940,610 L980,590 L1000,560 L990,520 L960,480 L920,460" fill="none" stroke="#72e6d6" stroke-width="12" stroke-linejoin="round" stroke-linecap="round"/>
<path d="M620,450 L660,480 L700,520 L720,570 L700,610" fill="none" stroke="#72e6d6" stroke-width="12" stroke-linejoin="round" stroke-linecap="round"/>
<path d="M340,650 L360,700 L420,720" fill="none" stroke="#72e6d6" stroke-width="12" stroke-linejoin="round" stroke-linecap="round"/>
<path d="M880,300 L930,330 L940,290" fill="none" stroke="#72e6d6" stroke-width="7" stroke-linejoin="round" stroke-linecap="round"/>
<path d="M180,740 L220,760 L260,790 L300,770 L340,760 L380,750" fill="none" stroke="#8c3ee0" stroke-width="10" stroke-linejoin="round" stroke-linecap="round"/>
<path d="M240,720 L260,790" fill="none" stroke="#8c3ee0" stroke-width="8" stroke-linejoin="round" stroke-linecap="round"/>
<path d="M320,720 L330,800" fill="none" stroke="#8c3ee0" stroke-width="8" stroke-linejoin="round" stroke-linecap="round"/>
<path d="M360,710 L380,770" fill="none" stroke="#8c3ee0" stroke-width="8" stroke-linejoin="round" stroke-linecap="round"/>
<path d="M500,400 L560,430 L600,470 L640,440 L670,410" fill="none" stroke="#8c3ee0" stroke-width="10" stroke-linejoin="round" stroke-linecap="round"/>
<path d="M680,500 L740,490 L780,470 L800,500 L840,510" fill="none" stroke="#8c3ee0" stroke-width="10" stroke-linejoin="round" stroke-linecap="round"/>
<path d="M720,520 L760,560 L770,610" fill="none" stroke="#8c3ee0" stroke-width="9" stroke-linejoin="round" stroke-linecap="round"/>
<path d="M440,780 L500,790 L560,790 L610,795" fill="none" stroke="#8c3ee0" stroke-width="11" stroke-linejoin="round" stroke-linecap="round"/>
<path d="M600,880 L640,860 L680,850 L660,900 L620,960 L600,1000 L620,1030" fill="none" stroke="#8c3ee0" stroke-width="10" stroke-linejoin="round" stroke-linecap="round"/>
<path d="M700,900 L760,880 L820,870 L850,830 L800,810 L780,930 L760,990" fill="none" stroke="#8c3ee0" stroke-width="10" stroke-linejoin="round" stroke-linecap="round"/>
<path d="M910,90 L915,180 L960,220 L1010,200 L970,260 L940,280" fill="none" stroke="#8c3ee0" stroke-width="8" stroke-linejoin="round" stroke-linecap="round"/>
<path d="M640,600 L620,635 L580,635 L560,600 L580,565 L620,565 L640,600" fill="none" stroke="#72e6d6" stroke-width="11" stroke-linejoin="round" stroke-linecap="round"/>
<path d="M722,730 L701,766 L659,766 L638,730 L659,694 L701,694 L722,730" fill="none" stroke="#72e6d6" stroke-width="11" stroke-linejoin="round" stroke-linecap="round"/>
<path d="M860,750 L838,789 L792,789 L770,750 L792,711 L838,711 L860,750" fill="none" stroke="#72e6d6" stroke-width="11" stroke-linejoin="round" stroke-linecap="round"/>
<path d="M1000,545 L978,584 L932,584 L910,545 L932,506 L978,506 L1000,545" fill="none" stroke="#72e6d6" stroke-width="11" stroke-linejoin="round" stroke-linecap="round"/>
<path d="M325,650 L305,685 L265,685 L245,650 L265,615 L305,615 L325,650" fill="none" stroke="#72e6d6" stroke-width="11" stroke-linejoin="round" stroke-linecap="round"/>
<path d="M685,520 L668,550 L632,550 L615,520 L632,490 L668,490 L685,520" fill="none" stroke="#72e6d6" stroke-width="11" stroke-linejoin="round" stroke-linecap="round"/>
<path d="M750,580 L735,606 L705,606 L690,580 L705,554 L735,554 L750,580" fill="none" stroke="#72e6d6" stroke-width="11" stroke-linejoin="round" stroke-linecap="round"/>
<path d="M330,450 L370,470 L420,470 L470,510 L520,520" fill="none" stroke="#72e6d6" stroke-width="12" stroke-linejoin="round" stroke-linecap="round"/>
<path d="M380,560 L420,560 L460,590 L500,620 L540,600" fill="none" stroke="#72e6d6" stroke-width="12" stroke-linejoin="round" stroke-linecap="round"/>
<path d="M600,560 L640,600 L700,630 L760,620 L800,600 L850,560" fill="none" stroke="#72e6d6" stroke-width="12" stroke-linejoin="round" stroke-linecap="round"/>
<path d="M700,680 L740,650 L780,660 L830,700" fill="none" stroke="#72e6d6" stroke-width="12" stroke-linejoin="round" stroke-linecap="round"/>
<path d="M880,580 L900,620 L940,640 L960,600" fill="none" stroke="#72e6d6" stroke-width="12" stroke-linejoin="round" stroke-linecap="round"/>
<path d="M860,380 L880,420 L900,470 L880,520" fill="none" stroke="#72e6d6" stroke-width="12" stroke-linejoin="round" stroke-linecap="round"/>
<path d="M300,600 L330,560 L380,540 L420,520" fill="none" stroke="#72e6d6" stroke-width="12" stroke-linejoin="round" stroke-linecap="round"/>
<line x1="330" y1="470" x2="310" y2="440" stroke="#c8dede" stroke-width="8"/>
<line x1="420" y1="470" x2="440" y2="440" stroke="#c8dede" stroke-width="8"/>
<line x1="520" y1="520" x2="540" y2="560" stroke="#c8dede" stroke-width="8"/>
<line x1="760" y1="620" x2="780" y2="650" stroke="#c8dede" stroke-width="8"/>
<line x1="850" y1="560" x2="880" y2="540" stroke="#c8dede" stroke-width="8"/>
<line x1="900" y1="620" x2="920" y2="650" stroke="#c8dede" stroke-width="8"/>
<line x1="640" y1="600" x2="620" y2="640" stroke="#c8dede" stroke-width="8"/>
<line x1="300" y1="640" x2="280" y2="670" stroke="#c8dede" stroke-width="8"/>
<line x1="700" y1="770" x2="720" y2="800" stroke="#c8dede" stroke-width="8"/>
<line x1="600" y1="680" x2="580" y2="710" stroke="#c8dede" stroke-width="8"/>
<path d="M500,420 L540,440 L560,460 L600,440 L620,410" fill="none" stroke="#8c3ee0" stroke-width="11" stroke-linejoin="round" stroke-linecap="round"/>
<path d="M720,470 L760,440 L790,470 L780,520" fill="none" stroke="#8c3ee0" stroke-width="10" stroke-linejoin="round" stroke-linecap="round"/>
<path d="M200,740 L200,800" fill="none" stroke="#8c3ee0" stroke-width="8" stroke-linejoin="round" stroke-linecap="round"/>
<path d="M180,760 L190,820" fill="none" stroke="#8c3ee0" stroke-width="8" stroke-linejoin="round" stroke-linecap="round"/>
<path d="M470,800 L520,770 L560,800 L600,790" fill="none" stroke="#8c3ee0" stroke-width="12" stroke-linejoin="round" stroke-linecap="round"/>
<circle cx="520" cy="500" r="8" fill="#e0303a"/>
<circle cx="580" cy="480" r="8" fill="#e0303a"/>
<circle cx="410" cy="540" r="8" fill="#e0303a"/>
<circle cx="560" cy="660" r="8" fill="#e0303a"/>
<circle cx="610" cy="640" r="8" fill="#e0303a"/>
<circle cx="690" cy="790" r="8" fill="#e0303a"/>
<circle cx="800" cy="620" r="8" fill="#e0303a"/>
<circle cx="930" cy="580" r="8" fill="#e0303a"/>
<circle cx="950" cy="540" r="8" fill="#e0303a"/>
<circle cx="280" cy="630" r="8" fill="#e0303a"/>
<circle cx="330" cy="690" r="8" fill="#e0303a"/>
<circle cx="890" cy="295" r="8" fill="#e0303a"/>
<circle cx="1000" cy="570" r="8" fill="#e0303a"/>
<circle cx="380" cy="690" r="8" fill="#e0303a"/>
<circle cx="920" cy="420" r="7" fill="#2a3ae0"/>
<circle cx="850" cy="540" r="7" fill="#2a3ae0"/>
<circle cx="600" cy="580" r="7" fill="#2a3ae0"/>
<circle cx="410" cy="600" r="7" fill="#2a3ae0"/>
<circle cx="740" cy="640" r="7" fill="#2a3ae0"/>
<circle cx="640" cy="630" r="7" fill="#2a3ae0"/>
<path d="M470,650 L510,630 L540,620" stroke="#c8a030" stroke-width="9" fill="none"/>
<text x="830" y="232" font-size="22" fill="#222" text-anchor="middle">HIS-550</text>
<text x="645" y="388" font-size="22" fill="#222" text-anchor="middle">LEU-462</text>
<text x="740" y="428" font-size="22" fill="#222" text-anchor="middle">SER-463</text>
<text x="815" y="458" font-size="22" fill="#222" text-anchor="middle">SER-464</text>
<text x="243" y="723" font-size="22" fill="#222" text-anchor="middle">LYS-252</text>
<text x="525" y="733" font-size="22" fill="#222" text-anchor="middle">TYR-246</text>
<text x="590" y="836" font-size="22" fill="#222" text-anchor="middle">GLY-215</text>
<text x="760" y="866" font-size="22" fill="#222" text-anchor="middle">ASN-217</text>
<text x="635" y="1080" font-size="22" fill="#222" text-anchor="middle">SER-212</text>
</g></g>
</svg></body></html>
